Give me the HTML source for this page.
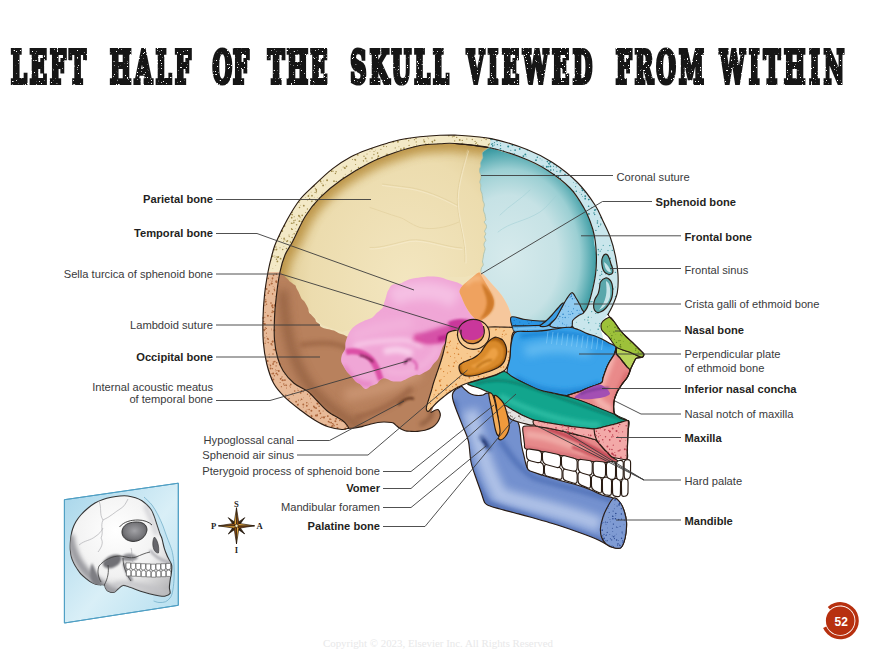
<!DOCTYPE html>
<html><head><meta charset="utf-8"><title>Left half of the skull viewed from within</title>
<style>
html,body{margin:0;padding:0;background:#fff;}
body{width:880px;height:660px;overflow:hidden;position:relative;font-family:"Liberation Sans",sans-serif;}
svg{position:absolute;left:0;top:0;display:block}
.lb{font-family:"Liberation Sans",sans-serif;font-size:11.15px;fill:#3a3a3c}
.b{font-weight:bold;fill:#1f1f22}
.ld{stroke:#3c3c3c;stroke-width:0.9;fill:none}
.ol{stroke:#2a1c14;stroke-width:1.15;fill:none;stroke-linejoin:round;stroke-linecap:round}
.tt{font-family:"DejaVu Serif Condensed","DejaVu Serif","Liberation Serif",serif;font-weight:bold;fill:#151515}
</style></head><body>
<svg width="880" height="660" viewBox="0 0 880 660">
<defs>
<radialGradient id="gPar" cx="0.62" cy="0.5" r="0.75"><stop offset="0" stop-color="#f3e6c0"/><stop offset="0.6" stop-color="#ecdcae"/><stop offset="1" stop-color="#d6bc7c"/></radialGradient>
<radialGradient id="gFro" gradientUnits="userSpaceOnUse" cx="0" cy="0" r="1" gradientTransform="translate(508 258) scale(92 114)"><stop offset="0" stop-color="#d6eaec"/><stop offset="0.55" stop-color="#c6e2e5"/><stop offset="0.78" stop-color="#9bcfd3"/><stop offset="0.92" stop-color="#52a8af"/><stop offset="1" stop-color="#2c8f97"/></radialGradient>
<linearGradient id="gOcc" x1="0" y1="0" x2="1" y2="1"><stop offset="0" stop-color="#b9825e"/><stop offset="1" stop-color="#a8714f"/></linearGradient>
<filter id="b2" filterUnits="userSpaceOnUse" x="0" y="0" width="880" height="660"><feGaussianBlur stdDeviation="2"/></filter>
<filter id="b4" filterUnits="userSpaceOnUse" x="0" y="0" width="880" height="660"><feGaussianBlur stdDeviation="4"/></filter>
<filter id="b1" filterUnits="userSpaceOnUse" x="0" y="0" width="880" height="660"><feGaussianBlur stdDeviation="1"/></filter>
<filter id="b7" filterUnits="userSpaceOnUse" x="0" y="0" width="880" height="660"><feGaussianBlur stdDeviation="7"/></filter>
<filter id="dis" filterUnits="userSpaceOnUse" x="0" y="30" width="880" height="70"><feTurbulence type="fractalNoise" baseFrequency="0.7" numOctaves="2" seed="4" result="n"/><feColorMatrix in="n" type="matrix" values="0 0 0 0 0  0 0 0 0 0  0 0 0 0 0  16 0 0 0 -4.0" result="m"/><feComposite in="SourceGraphic" in2="m" operator="in"/></filter>
</defs>
<g filter="url(#dis)">
<text class="tt" font-size="25" stroke="#151515" stroke-width="3.4" stroke-linejoin="miter" vector-effect="non-scaling-stroke" transform="translate(10.9,83.3) scale(1,1.76)" textLength="75.0" lengthAdjust="spacing">LEFT</text>
<text class="tt" font-size="25" stroke="#151515" stroke-width="3.4" stroke-linejoin="miter" vector-effect="non-scaling-stroke" transform="translate(110.1,83.3) scale(1,1.76)" textLength="80.8" lengthAdjust="spacing">HALF</text>
<text class="tt" font-size="25" stroke="#151515" stroke-width="3.4" stroke-linejoin="miter" vector-effect="non-scaling-stroke" transform="translate(212.4,83.3) scale(1,1.76)" textLength="36.5" lengthAdjust="spacing">OF</text>
<text class="tt" font-size="25" stroke="#151515" stroke-width="3.4" stroke-linejoin="miter" vector-effect="non-scaling-stroke" transform="translate(267.7,83.3) scale(1,1.76)" textLength="59.6" lengthAdjust="spacing">THE</text>
<text class="tt" font-size="25" stroke="#151515" stroke-width="3.4" stroke-linejoin="miter" vector-effect="non-scaling-stroke" transform="translate(350.3,83.3) scale(1,1.76)" textLength="98.6" lengthAdjust="spacing">SKULL</text>
<text class="tt" font-size="25" stroke="#151515" stroke-width="3.4" stroke-linejoin="miter" vector-effect="non-scaling-stroke" transform="translate(466.7,83.3) scale(1,1.76)" textLength="125.6" lengthAdjust="spacing">VIEWED</text>
<text class="tt" font-size="25" stroke="#151515" stroke-width="3.4" stroke-linejoin="miter" vector-effect="non-scaling-stroke" transform="translate(615.7,83.3) scale(1,1.76)" textLength="88.1" lengthAdjust="spacing">FROM</text>
<text class="tt" font-size="25" stroke="#151515" stroke-width="3.4" stroke-linejoin="miter" vector-effect="non-scaling-stroke" transform="translate(719.7,83.3) scale(1,1.76)" textLength="124.6" lengthAdjust="spacing">WITHIN</text>
</g>
<path d="M348.6,428.2 C347.5,428.4 345.2,429.7 341.8,429.5 C338.4,429.3 332.8,428.4 328.2,426.8 C323.6,425.2 319.0,422.7 314.5,420.0 C310.0,417.3 306.0,414.4 301.0,410.5 C296.0,406.6 289.1,401.4 284.5,396.8 C279.9,392.2 276.6,388.7 273.6,383.2 C270.7,377.7 268.5,370.9 266.8,364.0 C265.1,357.1 263.9,349.7 263.3,342.0 C262.7,334.3 262.8,325.8 263.0,318.0 C263.2,310.2 263.7,302.7 264.5,295.0 C265.3,287.3 266.7,279.0 268.0,272.0 C269.3,265.0 271.1,258.1 272.5,253.0 C273.9,247.9 273.9,247.0 276.4,241.4 C278.9,235.8 283.4,226.5 287.3,219.5 C291.2,212.5 295.5,205.2 300.0,199.5 C304.5,193.8 309.1,190.2 314.5,185.0 C319.9,179.8 326.6,173.3 332.7,168.6 C338.8,163.9 345.1,160.0 351.0,156.8 C356.9,153.6 361.9,151.8 368.0,149.5 C374.1,147.2 382.0,144.8 387.3,143.2 C392.6,141.6 394.6,140.9 400.0,139.8 C405.4,138.7 413.3,137.6 420.0,136.8 C426.7,136.1 434.2,135.6 440.0,135.3 C445.8,135.0 452.5,135.1 455.0,135.0 C461.0,135.6 479.0,136.2 491.0,138.6 C503.0,141.0 516.8,145.5 527.0,149.5 C537.2,153.5 544.1,157.0 552.5,162.5 C560.9,168.0 570.4,175.4 577.5,182.5 C584.6,189.6 590.8,198.6 595.0,205.0 C599.2,211.4 600.5,215.8 603.0,221.0 C605.5,226.2 607.9,230.5 610.0,236.4 C612.1,242.3 614.2,250.0 615.5,256.4 C616.8,262.8 617.7,268.4 618.0,274.5 C618.3,280.6 618.3,287.2 617.3,292.7 C616.3,298.2 613.3,303.7 611.8,307.3 C610.2,310.9 608.6,313.3 608.0,314.5 L585,312 L512,322 L445,336 L430,410 Z" fill="#f0e3bb"/>
<path d="M348.6,428.2 C348.4,427.8 348.4,426.9 347.3,425.5 C346.2,424.1 345.0,422.3 341.8,420.0 C338.6,417.7 332.3,415.0 328.2,411.8 C324.1,408.6 320.7,404.4 317.3,401.0 C313.9,397.6 311.6,394.4 307.7,391.4 C303.8,388.4 298.1,386.6 294.0,383.2 C289.9,379.8 285.9,375.2 283.2,371.0 C280.5,366.8 279.1,363.2 277.7,358.0 C276.2,352.8 275.0,346.7 274.5,340.0 C274.0,333.3 274.2,325.5 274.5,318.0 C274.8,310.5 275.6,302.7 276.5,295.0 C277.4,287.3 278.6,278.7 280.0,272.0 C281.4,265.3 282.9,260.1 285.0,255.0 C287.1,249.9 289.3,247.9 292.7,241.4 C296.1,234.9 300.9,223.3 305.5,216.0 C310.1,208.7 313.9,203.8 320.0,197.7 C326.1,191.6 333.6,185.2 341.8,179.5 C350.0,173.8 360.1,167.7 369.0,163.2 C377.9,158.7 386.5,155.4 395.0,152.5 C403.5,149.6 412.5,146.9 420.0,145.5 C427.5,144.1 434.2,144.1 440.0,143.8 C445.8,143.5 452.5,143.6 455.0,143.5 L489,147.5 L483,152 L482.4142831963177,154.83227708848347 L482.7635790512427,157.58145103785387 L481.5141142915121,160.44718780757896 L480.4323886189388,163.20643066508256 L480.73378889639025,166.15820751116078 L479.6694222212126,168.69383668181726 L479.5632069674853,171.76720804855827 L480.5481892685742,174.15261538163972 L480.96794815743783,177.4509692018078 L480.2770605603609,180.06240386047241 L479.76920365696657,182.30952896938138 L480.8225148505354,184.90501473964832 L480.5995177301791,187.57493494166494 L480.69700580346176,190.26623889477486 L481.8215274385534,193.04205350654286 L482.34870912086103,195.50432895084776 L482.69959167397224,198.0877227472208 L482.9031937868792,200.5802079658185 L484.15578116083356,203.66767348649435 L484.1523879890871,206.2122171956089 L483.48749899062796,208.6540195868683 L483.7202719051656,211.26792068976235 L484.8593181955387,214.14621589465597 L485.2838505193861,216.83871730712121 L485.7644762899757,219.7875472775835 L484.32098088670006,222.143247403954 L486.2384894705875,224.98379312904737 L486.2813127607804,227.94460916956282 L484.564802352234,231.06990565260637 L485.75131954561795,233.87567881689907 L484.4235262237006,236.9095962377502 L485.9186705232021,240.13934187917664 L484.3123850229552,242.8630494924023 L484.0818833561221,245.5623424375882 L485.13463872131916,248.42594618922712 L484.5067312548987,251.37160943385055 L483.6432319475226,254.32522287648573 L483.3357407506899,257.077606166804 L482.80971437775145,259.5405413666464 L482.48315821141637,262.0423559543496 L483.34767230119365,264.9138422116643 L481.6474612697678,267.54116049421776 L480.979278398582,269.85957497068557 L481,272.5 L465,277 L440,277 L415,279 L395,290 L387,302 L380,320 L360,327 L342,332 L322,325 L312,315 L302,302 L292,287 L280,275 Z" fill="url(#gPar)"/>
<clipPath id="cPar"><path d="M348.6,428.2 C348.4,427.8 348.4,426.9 347.3,425.5 C346.2,424.1 345.0,422.3 341.8,420.0 C338.6,417.7 332.3,415.0 328.2,411.8 C324.1,408.6 320.7,404.4 317.3,401.0 C313.9,397.6 311.6,394.4 307.7,391.4 C303.8,388.4 298.1,386.6 294.0,383.2 C289.9,379.8 285.9,375.2 283.2,371.0 C280.5,366.8 279.1,363.2 277.7,358.0 C276.2,352.8 275.0,346.7 274.5,340.0 C274.0,333.3 274.2,325.5 274.5,318.0 C274.8,310.5 275.6,302.7 276.5,295.0 C277.4,287.3 278.6,278.7 280.0,272.0 C281.4,265.3 282.9,260.1 285.0,255.0 C287.1,249.9 289.3,247.9 292.7,241.4 C296.1,234.9 300.9,223.3 305.5,216.0 C310.1,208.7 313.9,203.8 320.0,197.7 C326.1,191.6 333.6,185.2 341.8,179.5 C350.0,173.8 360.1,167.7 369.0,163.2 C377.9,158.7 386.5,155.4 395.0,152.5 C403.5,149.6 412.5,146.9 420.0,145.5 C427.5,144.1 434.2,144.1 440.0,143.8 C445.8,143.5 452.5,143.6 455.0,143.5 L489,147.5 L483,152 L482.4142831963177,154.83227708848347 L482.7635790512427,157.58145103785387 L481.5141142915121,160.44718780757896 L480.4323886189388,163.20643066508256 L480.73378889639025,166.15820751116078 L479.6694222212126,168.69383668181726 L479.5632069674853,171.76720804855827 L480.5481892685742,174.15261538163972 L480.96794815743783,177.4509692018078 L480.2770605603609,180.06240386047241 L479.76920365696657,182.30952896938138 L480.8225148505354,184.90501473964832 L480.5995177301791,187.57493494166494 L480.69700580346176,190.26623889477486 L481.8215274385534,193.04205350654286 L482.34870912086103,195.50432895084776 L482.69959167397224,198.0877227472208 L482.9031937868792,200.5802079658185 L484.15578116083356,203.66767348649435 L484.1523879890871,206.2122171956089 L483.48749899062796,208.6540195868683 L483.7202719051656,211.26792068976235 L484.8593181955387,214.14621589465597 L485.2838505193861,216.83871730712121 L485.7644762899757,219.7875472775835 L484.32098088670006,222.143247403954 L486.2384894705875,224.98379312904737 L486.2813127607804,227.94460916956282 L484.564802352234,231.06990565260637 L485.75131954561795,233.87567881689907 L484.4235262237006,236.9095962377502 L485.9186705232021,240.13934187917664 L484.3123850229552,242.8630494924023 L484.0818833561221,245.5623424375882 L485.13463872131916,248.42594618922712 L484.5067312548987,251.37160943385055 L483.6432319475226,254.32522287648573 L483.3357407506899,257.077606166804 L482.80971437775145,259.5405413666464 L482.48315821141637,262.0423559543496 L483.34767230119365,264.9138422116643 L481.6474612697678,267.54116049421776 L480.979278398582,269.85957497068557 L481,272.5 L465,277 L440,277 L415,279 L395,290 L387,302 L380,320 L360,327 L342,332 L322,325 L312,315 L302,302 L292,287 L280,275 Z"/></clipPath>
<g clip-path="url(#cPar)"><path d="M276.5,295.0 C277.1,291.2 278.6,278.7 280.0,272.0 C281.4,265.3 282.9,260.1 285.0,255.0 C287.1,249.9 289.3,247.9 292.7,241.4 C296.1,234.9 300.9,223.3 305.5,216.0 C310.1,208.7 313.9,203.8 320.0,197.7 C326.1,191.6 333.6,185.2 341.8,179.5 C350.0,173.8 360.1,167.7 369.0,163.2 C377.9,158.7 386.5,155.4 395.0,152.5 C403.5,149.6 412.5,146.9 420.0,145.5 C427.5,144.1 434.2,144.1 440.0,143.8 C445.8,143.5 446.8,142.9 455.0,143.5 C463.2,144.1 483.3,146.8 489.0,147.5" stroke="#c09a4e" stroke-width="18" fill="none" filter="url(#b4)" opacity="0.9"/><path d="M276.5,295.0 C277.1,291.2 278.6,278.7 280.0,272.0 C281.4,265.3 282.9,260.1 285.0,255.0 C287.1,249.9 289.3,247.9 292.7,241.4 C296.1,234.9 300.9,223.3 305.5,216.0 C310.1,208.7 313.9,203.8 320.0,197.7 C326.1,191.6 333.6,185.2 341.8,179.5 C350.0,173.8 360.1,167.7 369.0,163.2 C377.9,158.7 386.5,155.4 395.0,152.5 C403.5,149.6 412.5,146.9 420.0,145.5 C427.5,144.1 434.2,144.1 440.0,143.8 C445.8,143.5 446.8,142.9 455.0,143.5 C463.2,144.1 483.3,146.8 489.0,147.5" stroke="#b88f45" stroke-width="4" fill="none" filter="url(#b2)" opacity="0.55"/></g>
<path d="M490.0,147.0 C488.8,147.8 484.3,150.7 483.0,152.0 C481.7,153.3 482.5,153.9 482.4,154.8 C482.4,155.8 482.9,156.6 482.8,157.6 C482.6,158.5 481.9,159.5 481.5,160.4 C481.1,161.4 480.6,162.3 480.4,163.2 C480.3,164.2 480.9,165.2 480.7,166.2 C480.6,167.1 479.9,167.8 479.7,168.7 C479.5,169.6 479.4,170.9 479.6,171.8 C479.7,172.7 480.3,173.2 480.5,174.2 C480.8,175.1 481.0,176.5 481.0,177.5 C480.9,178.4 480.5,179.3 480.3,180.1 C480.1,180.9 479.7,181.5 479.8,182.3 C479.9,183.1 480.7,184.0 480.8,184.9 C481.0,185.8 480.6,186.7 480.6,187.6 C480.6,188.5 480.5,189.4 480.7,190.3 C480.9,191.2 481.5,192.2 481.8,193.0 C482.1,193.9 482.2,194.7 482.3,195.5 C482.5,196.3 482.6,197.2 482.7,198.1 C482.8,198.9 482.7,199.7 482.9,200.6 C483.1,201.5 483.9,202.7 484.2,203.7 C484.4,204.6 484.3,205.4 484.2,206.2 C484.0,207.0 483.6,207.8 483.5,208.7 C483.4,209.5 483.5,210.4 483.7,211.3 C483.9,212.2 484.6,213.2 484.9,214.1 C485.1,215.1 485.1,215.9 485.3,216.8 C485.4,217.8 485.9,218.9 485.8,219.8 C485.6,220.7 484.2,221.3 484.3,222.1 C484.4,223.0 485.9,224.0 486.2,225.0 C486.6,226.0 486.6,226.9 486.3,227.9 C486.0,229.0 484.7,230.1 484.6,231.1 C484.5,232.1 485.8,232.9 485.8,233.9 C485.7,234.8 484.4,235.9 484.4,236.9 C484.5,238.0 485.9,239.1 485.9,240.1 C485.9,241.1 484.6,242.0 484.3,242.9 C484.0,243.8 483.9,244.6 484.1,245.6 C484.2,246.5 485.1,247.5 485.1,248.4 C485.2,249.4 484.8,250.4 484.5,251.4 C484.3,252.4 483.8,253.4 483.6,254.3 C483.4,255.3 483.5,256.2 483.3,257.1 C483.2,257.9 483.0,258.7 482.8,259.5 C482.7,260.4 482.4,261.1 482.5,262.0 C482.6,262.9 483.5,264.0 483.3,264.9 C483.2,265.8 482.0,266.7 481.6,267.5 C481.3,268.4 481.1,269.0 481.0,269.9 C480.9,270.7 481.0,272.1 481.0,272.5 L491,283 L502,295.5 L508.6,307.7 L512.7,322 L547,324 L571,300 L583.6,312.7 L583.6,312.7 L587.3,307.3 L591.8,292.7 L595.5,274.5 L596.4,256.4 L594.5,236.4 L590,221 L584,208 L570,188 L547,170 L523,158 L489,147.5 Z" fill="url(#gFro)"/>
<g fill="none" stroke-linecap="round" opacity="0.55"><path d="M467.5,150 C462,170 456,188 457.5,205 C459,225 466,240 465,262" stroke="#dcc995" stroke-width="1"/><path d="M457,205 C440,196 425,190 410,187.5 C398,186 390,185 382.5,184" stroke="#dcc995" stroke-width="0.9"/><path d="M459,222 C445,228 432,230 420,227.5 C410,224 405,219 400,217.5 C388,214 378,210 370,207.5" stroke="#dcc995" stroke-width="0.9"/><path d="M462,248 C445,247 425,238 410,240 C395,243 382,248 370,247.5" stroke="#dcc995" stroke-width="0.9"/><path d="M468.5,151 C463,171 457,189 458.5,206 C460,226 467,241 466,263" stroke="#fbf3dc" stroke-width="0.9"/><path d="M457,206.5 C440,197.5 425,191.5 410,189 C398,187.5 390,186.5 382.5,185.5" stroke="#fbf3dc" stroke-width="0.8"/><path d="M462,249.5 C445,248.5 425,239.5 410,241.5 C395,244.5 382,249.5 370,249" stroke="#fbf3dc" stroke-width="0.8"/><path d="M500,215 C510,205 520,200 530,190 M498,232 C510,222 524,222 540,212 C548,206 552,200 556,196" stroke="#9ccdd2" stroke-width="0.9"/></g>
<path d="M280.0,272.0 C280.5,272.5 281.9,273.8 282.9,274.7 C283.8,275.6 284.9,276.5 285.8,277.4 C286.7,278.2 287.8,279.0 288.4,279.7 C289.0,280.3 288.7,280.6 289.5,281.3 C290.3,282.0 292.3,283.2 293.2,283.9 C294.2,284.6 294.9,284.7 295.4,285.4 C296.0,286.1 296.0,287.2 296.5,288.3 C297.0,289.3 297.9,290.6 298.3,291.5 C298.8,292.3 298.7,292.3 299.2,293.5 C299.8,294.7 300.8,297.3 301.6,298.7 C302.5,300.0 303.6,300.4 304.4,301.5 C305.2,302.5 305.8,303.8 306.5,304.9 C307.1,306.1 307.7,307.1 308.2,308.4 C308.6,309.7 308.6,311.7 309.2,312.8 C309.8,313.9 310.6,313.9 311.5,314.9 C312.5,315.9 314.3,317.7 315.0,318.8 C315.8,319.9 315.5,320.9 316.2,321.7 C316.8,322.6 318.2,323.0 319.0,323.8 C319.7,324.6 319.8,325.9 320.8,326.7 C321.8,327.5 323.7,328.1 325.0,328.5 C326.3,328.9 327.6,328.9 328.6,329.2 C329.7,329.4 330.2,329.6 331.1,329.9 C332.0,330.1 333.0,330.2 334.0,330.6 C335.1,331.1 336.5,332.0 337.5,332.6 C338.5,333.1 339.2,333.4 340.2,333.8 C341.2,334.1 342.6,334.3 343.7,334.7 C344.9,335.2 346.5,336.3 347.0,336.6 L400,340 L452,335 L449,350 L443,370 L438,390 L433,408 L431,412.3  C432.1,411.8 436.2,409.3 437.7,409.5 C439.2,409.7 439.8,412.1 440.2,413.5 C440.6,414.9 440.3,416.1 439.8,417.7 C439.3,419.3 438.2,421.4 437.0,423.0 C435.8,424.6 434.3,426.1 432.3,427.3 C430.3,428.5 427.5,429.6 425.0,430.3 C422.5,431.0 419.8,431.2 417.3,431.4 C414.8,431.6 412.1,431.4 410.0,431.3 C407.9,431.2 406.7,431.2 405.0,430.7 C403.3,430.2 401.4,429.3 400.0,428.5 C398.6,427.7 397.8,426.8 396.8,426.0 C395.8,425.2 394.9,424.1 394.0,423.5 C393.1,422.9 393.1,422.8 391.4,422.5 C389.7,422.2 386.3,422.0 384.0,422.0 C381.7,422.0 380.0,422.1 377.7,422.5 C375.4,422.9 372.6,423.6 370.0,424.3 C367.4,425.0 364.5,426.0 362.0,426.6 C359.5,427.2 357.2,427.7 355.0,428.0 C352.8,428.3 349.7,428.2 348.6,428.2 L347.3,425.5 L341.8,420 L328.2,411.8 L317.3,401 L307.7,391.4 L294,383.2 L283.2,371 L277.7,358 L274.5,340 L274.5,318 L276.5,295 L280,272 Z" fill="#b8815d"/>
<g clip-path="url(#cOcc)">
<clipPath id="cOcc"><path d="M280.0,272.0 C280.5,272.5 281.9,273.8 282.9,274.7 C283.8,275.6 284.9,276.5 285.8,277.4 C286.7,278.2 287.8,279.0 288.4,279.7 C289.0,280.3 288.7,280.6 289.5,281.3 C290.3,282.0 292.3,283.2 293.2,283.9 C294.2,284.6 294.9,284.7 295.4,285.4 C296.0,286.1 296.0,287.2 296.5,288.3 C297.0,289.3 297.9,290.6 298.3,291.5 C298.8,292.3 298.7,292.3 299.2,293.5 C299.8,294.7 300.8,297.3 301.6,298.7 C302.5,300.0 303.6,300.4 304.4,301.5 C305.2,302.5 305.8,303.8 306.5,304.9 C307.1,306.1 307.7,307.1 308.2,308.4 C308.6,309.7 308.6,311.7 309.2,312.8 C309.8,313.9 310.6,313.9 311.5,314.9 C312.5,315.9 314.3,317.7 315.0,318.8 C315.8,319.9 315.5,320.9 316.2,321.7 C316.8,322.6 318.2,323.0 319.0,323.8 C319.7,324.6 319.8,325.9 320.8,326.7 C321.8,327.5 323.7,328.1 325.0,328.5 C326.3,328.9 327.6,328.9 328.6,329.2 C329.7,329.4 330.2,329.6 331.1,329.9 C332.0,330.1 333.0,330.2 334.0,330.6 C335.1,331.1 336.5,332.0 337.5,332.6 C338.5,333.1 339.2,333.4 340.2,333.8 C341.2,334.1 342.6,334.3 343.7,334.7 C344.9,335.2 346.5,336.3 347.0,336.6 L400,340 L452,335 L449,350 L443,370 L438,390 L433,408 L431,412.3  C432.1,411.8 436.2,409.3 437.7,409.5 C439.2,409.7 439.8,412.1 440.2,413.5 C440.6,414.9 440.3,416.1 439.8,417.7 C439.3,419.3 438.2,421.4 437.0,423.0 C435.8,424.6 434.3,426.1 432.3,427.3 C430.3,428.5 427.5,429.6 425.0,430.3 C422.5,431.0 419.8,431.2 417.3,431.4 C414.8,431.6 412.1,431.4 410.0,431.3 C407.9,431.2 406.7,431.2 405.0,430.7 C403.3,430.2 401.4,429.3 400.0,428.5 C398.6,427.7 397.8,426.8 396.8,426.0 C395.8,425.2 394.9,424.1 394.0,423.5 C393.1,422.9 393.1,422.8 391.4,422.5 C389.7,422.2 386.3,422.0 384.0,422.0 C381.7,422.0 380.0,422.1 377.7,422.5 C375.4,422.9 372.6,423.6 370.0,424.3 C367.4,425.0 364.5,426.0 362.0,426.6 C359.5,427.2 357.2,427.7 355.0,428.0 C352.8,428.3 349.7,428.2 348.6,428.2 L347.3,425.5 L341.8,420 L328.2,411.8 L317.3,401 L307.7,391.4 L294,383.2 L283.2,371 L277.7,358 L274.5,340 L274.5,318 L276.5,295 L280,272 Z"/></clipPath>
<path d="M283,290 C285,330 292,370 320,398 C335,412 350,422 362,427" stroke="#8e5b3d" stroke-width="9" fill="none" filter="url(#b4)" opacity="0.8"/>
<path d="M300,345 C330,340 345,345 352,352" stroke="#96603f" stroke-width="5" fill="none" filter="url(#b2)" opacity="0.7"/>
<path d="M345,395 C370,392 395,385 420,372" stroke="#cf9a78" stroke-width="12" fill="none" filter="url(#b4)" opacity="0.8"/>
<path d="M355,418 C380,412 400,400 412,388" stroke="#9a6444" stroke-width="6" fill="none" filter="url(#b2)" opacity="0.8"/>
<path d="M398,405 C405,398 410,397 414,399" stroke="#6e4128" stroke-width="2.5" fill="none" filter="url(#b1)"/>
<path d="M420,425 C430,420 434,415 430,408" stroke="#8e5b3d" stroke-width="4" fill="none" filter="url(#b2)"/>
</g>
<path d="M431.0,412.3 C432.1,411.8 436.2,409.3 437.7,409.5 C439.2,409.7 439.8,412.1 440.2,413.5 C440.6,414.9 440.3,416.1 439.8,417.7 C439.3,419.3 438.2,421.4 437.0,423.0 C435.8,424.6 434.3,426.1 432.3,427.3 C430.3,428.5 427.5,429.6 425.0,430.3 C422.5,431.0 419.8,431.2 417.3,431.4 C414.8,431.6 412.1,431.4 410.0,431.3 C407.9,431.2 406.7,431.2 405.0,430.7 C403.3,430.2 401.4,429.3 400.0,428.5 C398.6,427.7 397.8,426.8 396.8,426.0 C395.8,425.2 394.9,424.1 394.0,423.5 C393.1,422.9 393.1,422.8 391.4,422.5 C389.7,422.2 386.3,422.0 384.0,422.0 C381.7,422.0 380.0,422.1 377.7,422.5 C375.4,422.9 372.6,423.6 370.0,424.3 C367.4,425.0 364.5,426.0 362.0,426.6 C359.5,427.2 357.2,427.7 355.0,428.0 C352.8,428.3 349.7,428.2 348.6,428.2" class="ol" stroke-width="1.4" stroke="#2a160c"/>
<path d="M388.7,289.7 C389.6,288.4 390.4,285.8 392.3,284.8 C394.2,283.8 397.3,284.5 399.9,283.7 C402.6,282.8 405.2,280.7 408.3,279.7 C411.4,278.7 414.8,278.3 418.5,277.8 C422.1,277.2 426.4,276.5 430.1,276.5 C433.9,276.4 437.9,276.8 440.9,277.4 C443.9,278.0 445.9,279.3 448.4,280.1 C450.8,280.9 453.5,281.2 455.7,282.1 C458.0,282.9 460.2,283.8 461.9,285.1 C463.7,286.5 465.1,288.0 466.3,290.2 C467.4,292.5 468.3,295.7 468.9,298.7 C469.6,301.8 469.6,306.1 470.3,308.5 C471.0,310.9 472.2,311.8 473.0,313.1 C473.9,314.4 474.3,315.3 475.6,316.5 C476.9,317.8 481.6,318.7 480.7,320.4 C479.8,322.1 473.8,325.5 470.0,326.8 C466.3,328.1 461.2,327.4 458.3,328.2 C455.4,329.0 454.2,330.6 452.6,331.5 C451.1,332.3 449.9,331.7 449.0,333.2 C448.1,334.6 448.2,338.2 447.1,340.5 C446.1,342.7 443.8,344.6 442.8,346.6 C441.7,348.6 441.6,350.3 440.7,352.5 C439.9,354.6 438.9,357.4 437.7,359.3 C436.5,361.3 434.8,362.4 433.4,364.0 C432.1,365.7 431.1,367.8 429.7,369.2 C428.3,370.5 426.6,371.1 425.0,372.0 C423.4,373.0 421.5,374.3 420.0,374.8 C418.4,375.3 417.1,374.6 415.6,374.9 C414.1,375.2 412.5,376.0 410.9,376.7 C409.4,377.3 408.0,378.2 406.4,379.0 C404.7,379.8 402.5,381.0 400.9,381.4 C399.2,381.8 397.7,381.5 396.3,381.5 C394.9,381.5 393.9,381.7 392.5,381.3 C391.0,381.0 389.2,379.7 387.7,379.2 C386.1,378.7 384.5,378.0 383.0,378.3 C381.6,378.6 380.0,380.1 379.0,381.0 C378.0,381.9 378.3,382.9 376.9,383.7 C375.6,384.6 372.6,385.1 370.7,386.0 C368.8,386.9 367.1,389.4 365.3,389.1 C363.6,388.8 361.7,385.5 360.2,384.3 C358.7,383.1 357.7,383.4 356.3,382.1 C354.9,380.8 353.2,378.3 351.7,376.5 C350.1,374.8 348.1,373.2 346.8,371.6 C345.5,369.9 344.7,368.3 343.7,366.6 C342.8,365.0 341.5,363.5 341.2,361.6 C340.9,359.7 341.2,357.1 341.9,355.0 C342.5,353.0 344.5,351.2 345.1,349.1 C345.7,347.0 345.0,345.0 345.5,342.6 C346.1,340.2 347.0,337.2 348.2,334.7 C349.4,332.3 350.9,329.7 352.8,327.8 C354.6,325.9 357.0,324.5 359.1,323.3 C361.2,322.0 363.2,321.2 365.3,320.2 C367.5,319.3 370.2,318.9 372.1,317.7 C374.1,316.4 375.5,314.3 377.2,312.6 C379.0,310.9 381.7,308.9 382.8,307.4 C383.9,305.8 383.5,304.9 384.0,303.3 C384.5,301.7 385.3,299.5 385.8,297.7 C386.4,295.9 386.8,293.8 387.3,292.4 C387.8,291.1 387.9,291.0 388.7,289.7Z" fill="#f0a6d6"/>
<clipPath id="cTem"><path d="M388.7,289.7 C389.6,288.4 390.4,285.8 392.3,284.8 C394.2,283.8 397.3,284.5 399.9,283.7 C402.6,282.8 405.2,280.7 408.3,279.7 C411.4,278.7 414.8,278.3 418.5,277.8 C422.1,277.2 426.4,276.5 430.1,276.5 C433.9,276.4 437.9,276.8 440.9,277.4 C443.9,278.0 445.9,279.3 448.4,280.1 C450.8,280.9 453.5,281.2 455.7,282.1 C458.0,282.9 460.2,283.8 461.9,285.1 C463.7,286.5 465.1,288.0 466.3,290.2 C467.4,292.5 468.3,295.7 468.9,298.7 C469.6,301.8 469.6,306.1 470.3,308.5 C471.0,310.9 472.2,311.8 473.0,313.1 C473.9,314.4 474.3,315.3 475.6,316.5 C476.9,317.8 481.6,318.7 480.7,320.4 C479.8,322.1 473.8,325.5 470.0,326.8 C466.3,328.1 461.2,327.4 458.3,328.2 C455.4,329.0 454.2,330.6 452.6,331.5 C451.1,332.3 449.9,331.7 449.0,333.2 C448.1,334.6 448.2,338.2 447.1,340.5 C446.1,342.7 443.8,344.6 442.8,346.6 C441.7,348.6 441.6,350.3 440.7,352.5 C439.9,354.6 438.9,357.4 437.7,359.3 C436.5,361.3 434.8,362.4 433.4,364.0 C432.1,365.7 431.1,367.8 429.7,369.2 C428.3,370.5 426.6,371.1 425.0,372.0 C423.4,373.0 421.5,374.3 420.0,374.8 C418.4,375.3 417.1,374.6 415.6,374.9 C414.1,375.2 412.5,376.0 410.9,376.7 C409.4,377.3 408.0,378.2 406.4,379.0 C404.7,379.8 402.5,381.0 400.9,381.4 C399.2,381.8 397.7,381.5 396.3,381.5 C394.9,381.5 393.9,381.7 392.5,381.3 C391.0,381.0 389.2,379.7 387.7,379.2 C386.1,378.7 384.5,378.0 383.0,378.3 C381.6,378.6 380.0,380.1 379.0,381.0 C378.0,381.9 378.3,382.9 376.9,383.7 C375.6,384.6 372.6,385.1 370.7,386.0 C368.8,386.9 367.1,389.4 365.3,389.1 C363.6,388.8 361.7,385.5 360.2,384.3 C358.7,383.1 357.7,383.4 356.3,382.1 C354.9,380.8 353.2,378.3 351.7,376.5 C350.1,374.8 348.1,373.2 346.8,371.6 C345.5,369.9 344.7,368.3 343.7,366.6 C342.8,365.0 341.5,363.5 341.2,361.6 C340.9,359.7 341.2,357.1 341.9,355.0 C342.5,353.0 344.5,351.2 345.1,349.1 C345.7,347.0 345.0,345.0 345.5,342.6 C346.1,340.2 347.0,337.2 348.2,334.7 C349.4,332.3 350.9,329.7 352.8,327.8 C354.6,325.9 357.0,324.5 359.1,323.3 C361.2,322.0 363.2,321.2 365.3,320.2 C367.5,319.3 370.2,318.9 372.1,317.7 C374.1,316.4 375.5,314.3 377.2,312.6 C379.0,310.9 381.7,308.9 382.8,307.4 C383.9,305.8 383.5,304.9 384.0,303.3 C384.5,301.7 385.3,299.5 385.8,297.7 C386.4,295.9 386.8,293.8 387.3,292.4 C387.8,291.1 387.9,291.0 388.7,289.7Z"/></clipPath>
<g clip-path="url(#cTem)">
<path d="M392,298 C410,288 438,288 456,300" stroke="#f5bfe3" stroke-width="18" fill="none" filter="url(#b4)"/>
<path d="M352,338 C370,328 392,326 412,322" stroke="#f3b2dc" stroke-width="10" fill="none" filter="url(#b4)"/>
<path d="M354,346 C372,340 390,341 401,340 C410,340 416,343 422,346" stroke="#f7c6e6" stroke-width="5" fill="none" filter="url(#b2)"/>
<path d="M414,337 C424,341 436,341 448,337 C456,334 462,331 468,329" stroke="#d9489f" stroke-width="7" fill="none" filter="url(#b2)"/>
<path d="M416,335 C428,331 446,325 458,322 L471,322 L468,333 C456,338 442,343 426,343 Z" fill="#d651a7" filter="url(#b2)"/>
<path d="M438,339 C450,337 460,332 470,326" stroke="#bf2b8f" stroke-width="5" fill="none" filter="url(#b1)"/>
<path d="M448,322 C456,318 466,318 474,322 L470,334 L452,334Z" fill="#c9379b" filter="url(#b1)"/>
<path d="M346,352 C354,350 364,352 371,359 C377,366 379,374 381,380" stroke="#dc4fa6" stroke-width="6" fill="none" filter="url(#b1)"/>
<path d="M359.6,355.2 C365,356 370,358.5 373,362" stroke="#6d1f4a" stroke-width="2" fill="none" filter="url(#b1)" opacity="0.9"/>
<path d="M344,366 C350,378 360,386 372,384" stroke="#e684c4" stroke-width="5" fill="none" filter="url(#b2)"/>
<path d="M384,352 C394,348 404,350 412,354" stroke="#f8cfea" stroke-width="7" fill="none" filter="url(#b2)"/>
<path d="M386,370 C398,376 412,372 424,364 C430,360 434,354 438,348" stroke="#f2b0da" stroke-width="6" fill="none" filter="url(#b2)"/>
<path d="M404.5,364 C405.5,360.5 408.5,358.8 412,359.5" stroke="#7b235c" stroke-width="2.2" fill="none" filter="url(#b1)"/>
<path d="M412,360 C416,362 418,366 416,370" stroke="#e06cb8" stroke-width="3" fill="none" filter="url(#b1)"/>
</g>
<path d="M480.0,272.3 C482.0,272.5 484.2,275.2 486.0,277.0 C487.8,278.8 489.2,281.0 491.0,283.0 C492.8,285.0 494.7,286.9 496.5,289.0 C498.3,291.1 500.3,293.4 501.8,295.5 C503.3,297.6 504.4,299.5 505.5,301.5 C506.6,303.5 507.7,305.4 508.6,307.7 C509.5,309.9 510.3,312.5 511.0,315.0 C511.7,317.5 512.0,320.6 512.7,322.7 C513.5,324.8 517.6,326.7 515.5,327.5 C513.4,328.3 504.2,327.6 500.0,327.5 C495.8,327.4 493.3,327.9 490.0,327.0 C486.7,326.1 482.2,323.2 480.0,322.0 C477.8,320.8 478.6,321.2 477.0,320.0 C475.4,318.8 472.5,317.0 470.5,314.5 C468.5,312.0 466.4,307.8 465.0,305.0 C463.6,302.2 462.9,300.3 462.0,298.0 C461.1,295.7 459.4,293.4 459.5,291.4 C459.6,289.4 460.9,287.7 462.3,286.0 C463.7,284.3 466.1,282.7 468.0,281.0 C469.9,279.3 472.0,277.4 474.0,276.0 C476.0,274.6 478.0,272.1 480.0,272.3Z" fill="#f6c79c"/>
<clipPath id="cSW"><path d="M480.0,272.3 C482.0,272.5 484.2,275.2 486.0,277.0 C487.8,278.8 489.2,281.0 491.0,283.0 C492.8,285.0 494.7,286.9 496.5,289.0 C498.3,291.1 500.3,293.4 501.8,295.5 C503.3,297.6 504.4,299.5 505.5,301.5 C506.6,303.5 507.7,305.4 508.6,307.7 C509.5,309.9 510.3,312.5 511.0,315.0 C511.7,317.5 512.0,320.6 512.7,322.7 C513.5,324.8 517.6,326.7 515.5,327.5 C513.4,328.3 504.2,327.6 500.0,327.5 C495.8,327.4 493.3,327.9 490.0,327.0 C486.7,326.1 482.2,323.2 480.0,322.0 C477.8,320.8 478.6,321.2 477.0,320.0 C475.4,318.8 472.5,317.0 470.5,314.5 C468.5,312.0 466.4,307.8 465.0,305.0 C463.6,302.2 462.9,300.3 462.0,298.0 C461.1,295.7 459.4,293.4 459.5,291.4 C459.6,289.4 460.9,287.7 462.3,286.0 C463.7,284.3 466.1,282.7 468.0,281.0 C469.9,279.3 472.0,277.4 474.0,276.0 C476.0,274.6 478.0,272.1 480.0,272.3Z"/></clipPath>
<g clip-path="url(#cSW)">
<path d="M478,270 C470,276 462,284 458,292 C462,302 468,312 478,322 C488,318 494,310 494,301 C492,292 486,284 478,270Z" fill="#efa25f"/>
<path d="M482,283 C490,290 495,298 494,305 C493,312 487,317 479,320 C486,312 488,304 486,297 C484,291 482,287 482,283Z" fill="#cf7a2a" filter="url(#b1)"/>
<path d="M466,284 C470,279 476,277 481,279" stroke="#f7c08a" stroke-width="4" fill="none" filter="url(#b2)"/>
</g>
<path d="M447.3,333.6 C448.4,331.6 450.4,331.6 452.0,331.0 C453.6,330.4 455.5,330.2 457.0,330.0 C458.5,329.8 458.0,330.2 461.0,330.0 C464.0,329.8 470.2,329.0 475.0,328.5 C479.8,328.0 485.8,327.2 490.0,327.0 C494.2,326.8 495.8,326.8 500.0,327.0 C504.2,327.2 513.4,326.8 515.5,328.0 C517.6,329.2 513.2,331.9 512.5,334.0 C511.8,336.1 511.7,337.8 511.4,340.5 C511.1,343.2 510.7,347.1 510.5,350.0 C510.3,352.9 510.5,355.3 510.0,358.0 C509.5,360.7 508.4,363.9 507.5,366.0 C506.6,368.1 506.4,369.1 504.5,370.5 C502.6,371.9 499.3,373.3 496.4,374.5 C493.5,375.7 490.2,376.6 487.0,377.5 C483.8,378.4 481.0,378.9 477.3,380.0 C473.6,381.1 468.3,382.8 465.0,384.0 C461.7,385.2 459.8,386.3 457.5,387.5 C455.2,388.7 453.6,389.5 451.4,391.0 C449.1,392.5 446.3,394.7 444.0,396.5 C441.7,398.3 439.8,399.9 437.7,401.8 C435.6,403.7 433.1,406.4 431.5,408.0 C429.9,409.6 428.9,411.5 428.0,411.5 C427.1,411.5 426.2,409.9 426.3,408.0 C426.4,406.1 427.7,402.7 428.5,400.0 C429.3,397.3 430.2,394.8 431.0,392.0 C431.8,389.2 432.6,385.9 433.5,383.0 C434.4,380.1 435.3,377.7 436.4,374.5 C437.5,371.3 438.9,367.4 440.0,364.0 C441.1,360.6 442.1,357.5 443.0,354.0 C443.9,350.5 444.8,346.4 445.5,343.0 C446.2,339.6 446.2,335.6 447.3,333.6Z" fill="#f8c98f"/>
<g fill="#cf7524" opacity="0.9"><circle cx="447.5" cy="373.0" r="0.54"/><circle cx="501.0" cy="348.9" r="0.45"/><circle cx="500.9" cy="367.3" r="0.72"/><circle cx="439.7" cy="380.6" r="0.86"/><circle cx="486.2" cy="332.4" r="0.79"/><circle cx="479.0" cy="352.5" r="0.32"/><circle cx="503.5" cy="366.9" r="0.77"/><circle cx="508.5" cy="360.4" r="0.82"/><circle cx="504.7" cy="335.2" r="0.39"/><circle cx="465.2" cy="380.0" r="0.50"/><circle cx="471.5" cy="359.6" r="0.53"/><circle cx="478.5" cy="376.4" r="0.89"/><circle cx="486.2" cy="340.8" r="0.86"/><circle cx="477.5" cy="351.1" r="0.34"/><circle cx="434.2" cy="394.7" r="0.57"/><circle cx="462.7" cy="378.6" r="0.40"/><circle cx="430.1" cy="400.3" r="0.50"/><circle cx="460.0" cy="365.9" r="0.64"/><circle cx="483.7" cy="377.3" r="0.66"/><circle cx="471.5" cy="363.4" r="0.77"/><circle cx="447.5" cy="352.4" r="0.94"/><circle cx="472.8" cy="373.3" r="0.31"/><circle cx="463.3" cy="376.0" r="0.31"/><circle cx="457.7" cy="386.7" r="0.78"/><circle cx="448.7" cy="365.6" r="0.69"/><circle cx="454.8" cy="357.8" r="0.50"/><circle cx="459.2" cy="377.3" r="0.50"/><circle cx="491.9" cy="353.2" r="0.44"/><circle cx="498.0" cy="347.2" r="0.42"/><circle cx="466.5" cy="346.0" r="0.38"/><circle cx="473.5" cy="343.1" r="0.82"/><circle cx="501.1" cy="342.5" r="0.48"/><circle cx="498.2" cy="356.2" r="0.38"/><circle cx="450.5" cy="356.3" r="0.57"/><circle cx="463.7" cy="361.6" r="0.90"/><circle cx="446.1" cy="390.0" r="0.84"/><circle cx="485.4" cy="370.9" r="0.49"/><circle cx="456.7" cy="346.2" r="0.34"/><circle cx="478.8" cy="351.3" r="0.83"/><circle cx="430.3" cy="403.4" r="0.75"/><circle cx="485.4" cy="371.4" r="0.57"/><circle cx="456.7" cy="348.3" r="0.86"/><circle cx="457.7" cy="343.7" r="0.65"/><circle cx="499.2" cy="341.5" r="0.81"/><circle cx="499.8" cy="327.6" r="0.71"/><circle cx="503.2" cy="331.2" r="0.48"/><circle cx="450.3" cy="371.6" r="0.57"/><circle cx="502.5" cy="334.3" r="0.63"/><circle cx="454.5" cy="353.6" r="0.53"/><circle cx="484.0" cy="376.6" r="0.53"/><circle cx="443.3" cy="354.8" r="0.38"/><circle cx="460.2" cy="333.8" r="0.42"/><circle cx="459.6" cy="378.1" r="0.81"/><circle cx="481.9" cy="363.5" r="0.54"/><circle cx="467.4" cy="347.7" r="0.65"/><circle cx="488.3" cy="333.0" r="0.58"/><circle cx="449.7" cy="366.2" r="0.38"/><circle cx="476.6" cy="335.7" r="0.68"/><circle cx="495.4" cy="330.7" r="0.36"/><circle cx="435.2" cy="401.4" r="0.42"/><circle cx="437.1" cy="398.3" r="0.74"/><circle cx="435.8" cy="390.3" r="0.91"/><circle cx="447.9" cy="342.2" r="0.46"/><circle cx="461.4" cy="358.1" r="0.56"/><circle cx="457.5" cy="362.3" r="0.35"/><circle cx="440.6" cy="385.4" r="0.79"/><circle cx="486.4" cy="370.7" r="0.61"/><circle cx="472.4" cy="364.4" r="0.77"/><circle cx="444.1" cy="376.5" r="0.50"/><circle cx="447.0" cy="385.4" r="0.92"/><circle cx="452.7" cy="386.6" r="0.57"/><circle cx="450.1" cy="345.4" r="0.32"/><circle cx="469.1" cy="359.3" r="0.41"/><circle cx="458.5" cy="354.2" r="0.80"/><circle cx="469.1" cy="377.6" r="0.60"/><circle cx="476.0" cy="367.7" r="0.77"/><circle cx="502.7" cy="360.8" r="0.78"/><circle cx="446.8" cy="346.8" r="0.77"/><circle cx="502.5" cy="347.5" r="0.42"/><circle cx="449.4" cy="342.8" r="0.76"/><circle cx="454.3" cy="362.8" r="0.77"/><circle cx="500.7" cy="351.7" r="0.53"/><circle cx="465.2" cy="368.1" r="0.44"/><circle cx="461.2" cy="373.0" r="0.38"/><circle cx="450.8" cy="383.2" r="0.37"/><circle cx="493.9" cy="352.0" r="0.74"/><circle cx="450.0" cy="390.7" r="0.92"/><circle cx="486.3" cy="372.3" r="0.37"/><circle cx="470.4" cy="356.8" r="0.77"/><circle cx="486.8" cy="374.9" r="0.42"/><circle cx="484.8" cy="337.4" r="0.91"/><circle cx="467.1" cy="353.4" r="0.41"/><circle cx="432.4" cy="387.5" r="0.79"/><circle cx="458.3" cy="349.5" r="0.55"/><circle cx="504.1" cy="330.6" r="0.63"/><circle cx="448.3" cy="392.0" r="0.53"/><circle cx="456.0" cy="361.1" r="0.65"/><circle cx="495.1" cy="356.8" r="0.85"/><circle cx="479.1" cy="339.4" r="0.56"/><circle cx="443.6" cy="371.6" r="0.67"/><circle cx="496.0" cy="329.5" r="0.82"/><circle cx="460.5" cy="373.7" r="0.68"/><circle cx="487.5" cy="352.3" r="0.86"/><circle cx="469.5" cy="377.8" r="0.77"/><circle cx="485.3" cy="368.6" r="0.64"/><circle cx="467.4" cy="343.3" r="0.64"/><circle cx="483.9" cy="364.5" r="0.67"/><circle cx="438.4" cy="394.0" r="0.71"/><circle cx="488.3" cy="338.4" r="0.86"/><circle cx="469.6" cy="336.2" r="0.33"/><circle cx="440.6" cy="369.0" r="0.75"/><circle cx="474.2" cy="362.7" r="0.72"/><circle cx="453.5" cy="366.2" r="0.79"/><circle cx="462.1" cy="342.3" r="0.88"/><circle cx="490.5" cy="358.0" r="0.54"/><circle cx="473.5" cy="377.4" r="0.45"/><circle cx="496.2" cy="339.1" r="0.60"/><circle cx="441.5" cy="361.1" r="0.41"/><circle cx="441.3" cy="368.4" r="0.34"/><circle cx="441.0" cy="379.6" r="0.53"/><circle cx="491.2" cy="350.2" r="0.81"/><circle cx="453.1" cy="348.1" r="0.47"/><circle cx="457.1" cy="334.9" r="0.74"/><circle cx="502.1" cy="336.7" r="0.55"/><circle cx="456.1" cy="384.5" r="0.90"/><circle cx="441.9" cy="389.5" r="0.78"/><circle cx="508.7" cy="357.7" r="0.57"/><circle cx="446.8" cy="392.9" r="0.61"/><circle cx="450.3" cy="341.3" r="0.77"/><circle cx="460.8" cy="368.2" r="0.40"/><circle cx="489.7" cy="328.9" r="0.60"/><circle cx="491.7" cy="355.2" r="0.54"/><circle cx="511.5" cy="335.9" r="0.67"/><circle cx="484.2" cy="347.3" r="0.33"/><circle cx="439.9" cy="381.5" r="0.68"/><circle cx="476.5" cy="362.5" r="0.81"/><circle cx="474.0" cy="342.9" r="0.42"/><circle cx="433.4" cy="396.8" r="0.37"/><circle cx="428.4" cy="408.7" r="0.43"/><circle cx="506.0" cy="334.2" r="0.60"/><circle cx="457.2" cy="378.0" r="0.59"/><circle cx="436.2" cy="397.6" r="0.69"/><circle cx="499.0" cy="344.4" r="0.65"/><circle cx="469.5" cy="333.0" r="0.66"/><circle cx="491.9" cy="362.7" r="0.72"/><circle cx="480.3" cy="345.1" r="0.53"/><circle cx="464.7" cy="334.1" r="0.44"/><circle cx="508.4" cy="351.7" r="0.91"/><circle cx="490.7" cy="351.9" r="0.64"/><circle cx="483.3" cy="330.4" r="0.78"/></g>
<path d="M447.3,333.6 C448.4,331.6 450.4,331.6 452.0,331.0 C453.6,330.4 455.5,330.2 457.0,330.0 C458.5,329.8 458.0,330.2 461.0,330.0 C464.0,329.8 470.2,329.0 475.0,328.5 C479.8,328.0 485.8,327.2 490.0,327.0 C494.2,326.8 495.8,326.8 500.0,327.0 C504.2,327.2 513.4,326.8 515.5,328.0 C517.6,329.2 513.2,331.9 512.5,334.0 C511.8,336.1 511.7,337.8 511.4,340.5 C511.1,343.2 510.7,347.1 510.5,350.0 C510.3,352.9 510.5,355.3 510.0,358.0 C509.5,360.7 508.4,363.9 507.5,366.0 C506.6,368.1 506.4,369.1 504.5,370.5 C502.6,371.9 499.3,373.3 496.4,374.5 C493.5,375.7 490.2,376.6 487.0,377.5 C483.8,378.4 481.0,378.9 477.3,380.0 C473.6,381.1 468.3,382.8 465.0,384.0 C461.7,385.2 459.8,386.3 457.5,387.5 C455.2,388.7 453.6,389.5 451.4,391.0 C449.1,392.5 446.3,394.7 444.0,396.5 C441.7,398.3 439.8,399.9 437.7,401.8 C435.6,403.7 433.1,406.4 431.5,408.0 C429.9,409.6 428.9,411.5 428.0,411.5 C427.1,411.5 426.2,409.9 426.3,408.0 C426.4,406.1 427.7,402.7 428.5,400.0 C429.3,397.3 430.2,394.8 431.0,392.0 C431.8,389.2 432.6,385.9 433.5,383.0 C434.4,380.1 435.3,377.7 436.4,374.5 C437.5,371.3 438.9,367.4 440.0,364.0 C441.1,360.6 442.1,357.5 443.0,354.0 C443.9,350.5 444.8,346.4 445.5,343.0 C446.2,339.6 446.2,335.6 447.3,333.6Z" class="ol"/>
<ellipse cx="473.5" cy="334.3" rx="16" ry="15" fill="#f8c98f"/>
<path d="M461,335 C459.5,333 458.5,331 458.3,329 C460,323.5 466,319.6 473.5,319.3 C476,319.3 478,319.8 480,320.8 C482,323 483.5,326 484,329.5 C484.3,334 482.5,338.5 479,341 C476,343 472,343.6 468.5,342.6 C465,341.5 462.5,338.5 461,335Z" fill="#c9379b"/>
<path d="M462.5,338 C466,342.5 471,344 476,343 C480.5,341.8 483.5,338 484.2,333 C482,337 478.5,339.5 474,340 C469.5,340.3 465.5,339.8 462.5,338Z" fill="#d98638"/>
<path d="M461,330 C460.3,335 462.5,340 467,342.6 C472,344.8 478,343.5 481.5,339.5 C484.3,336 485,331 483.5,326.5" class="ol" stroke-width="0.9"/>
<ellipse cx="473.5" cy="334.3" rx="16" ry="15" class="ol" stroke-width="1"/>
<path d="M493.6,337.7 C494.8,337.1 495.3,337.1 496.4,337.2 C497.5,337.3 498.9,337.9 500.0,338.5 C501.1,339.1 502.1,339.4 503.0,340.5 C503.9,341.6 504.9,343.4 505.5,345.0 C506.1,346.6 506.5,348.2 506.6,350.0 C506.7,351.8 506.4,354.2 506.0,356.0 C505.6,357.8 505.2,359.5 504.5,361.0 C503.8,362.5 502.6,363.9 501.5,365.0 C500.4,366.1 499.4,366.7 497.7,367.7 C495.9,368.7 493.3,369.9 491.0,370.8 C488.7,371.7 486.2,372.3 484.0,373.0 C481.8,373.7 479.5,374.5 477.5,375.0 C475.5,375.5 473.6,375.8 471.8,376.0 C470.1,376.2 468.4,376.2 467.0,376.0 C465.6,375.8 464.6,375.5 463.6,375.0 C462.6,374.5 461.5,373.8 460.8,373.0 C460.1,372.2 459.8,371.4 459.5,370.5 C459.2,369.6 459.0,368.4 459.0,367.5 C459.0,366.6 458.9,365.8 459.5,365.0 C460.1,364.2 461.4,363.5 462.5,362.8 C463.6,362.1 464.8,361.7 466.4,361.0 C468.0,360.3 470.2,359.7 472.0,358.8 C473.8,357.9 475.8,356.6 477.3,355.5 C478.8,354.4 479.9,353.4 481.0,352.0 C482.1,350.6 483.0,348.7 484.0,347.3 C485.0,345.9 485.9,344.6 486.8,343.5 C487.7,342.4 488.4,341.5 489.5,340.5 C490.6,339.5 492.5,338.2 493.6,337.7Z" fill="#d98a2b"/>
<clipPath id="cSin"><path d="M493.6,337.7 C494.8,337.1 495.3,337.1 496.4,337.2 C497.5,337.3 498.9,337.9 500.0,338.5 C501.1,339.1 502.1,339.4 503.0,340.5 C503.9,341.6 504.9,343.4 505.5,345.0 C506.1,346.6 506.5,348.2 506.6,350.0 C506.7,351.8 506.4,354.2 506.0,356.0 C505.6,357.8 505.2,359.5 504.5,361.0 C503.8,362.5 502.6,363.9 501.5,365.0 C500.4,366.1 499.4,366.7 497.7,367.7 C495.9,368.7 493.3,369.9 491.0,370.8 C488.7,371.7 486.2,372.3 484.0,373.0 C481.8,373.7 479.5,374.5 477.5,375.0 C475.5,375.5 473.6,375.8 471.8,376.0 C470.1,376.2 468.4,376.2 467.0,376.0 C465.6,375.8 464.6,375.5 463.6,375.0 C462.6,374.5 461.5,373.8 460.8,373.0 C460.1,372.2 459.8,371.4 459.5,370.5 C459.2,369.6 459.0,368.4 459.0,367.5 C459.0,366.6 458.9,365.8 459.5,365.0 C460.1,364.2 461.4,363.5 462.5,362.8 C463.6,362.1 464.8,361.7 466.4,361.0 C468.0,360.3 470.2,359.7 472.0,358.8 C473.8,357.9 475.8,356.6 477.3,355.5 C478.8,354.4 479.9,353.4 481.0,352.0 C482.1,350.6 483.0,348.7 484.0,347.3 C485.0,345.9 485.9,344.6 486.8,343.5 C487.7,342.4 488.4,341.5 489.5,340.5 C490.6,339.5 492.5,338.2 493.6,337.7Z"/></clipPath>
<g clip-path="url(#cSin)">
<path d="M489,339 C497,335 507,342 507,352 C507,360 503,366 497,369" stroke="#a65d0e" stroke-width="5" fill="none" filter="url(#b1)"/>
<path d="M459,364 C458,372 462,377 470,377 C480,376 490,372 498,368" stroke="#a65d0e" stroke-width="4" fill="none" filter="url(#b1)"/>
<path d="M470,366 C478,364 486,358 490,350 C494,346 498,348 498,354 C496,360 488,366 478,369Z" fill="#eda144" filter="url(#b1)"/>
<path d="M476,368 C482,362 486,360 492,360" stroke="#b96f18" stroke-width="2" fill="none" filter="url(#b1)"/>
</g>
<path d="M493.6,337.7 C494.8,337.1 495.3,337.1 496.4,337.2 C497.5,337.3 498.9,337.9 500.0,338.5 C501.1,339.1 502.1,339.4 503.0,340.5 C503.9,341.6 504.9,343.4 505.5,345.0 C506.1,346.6 506.5,348.2 506.6,350.0 C506.7,351.8 506.4,354.2 506.0,356.0 C505.6,357.8 505.2,359.5 504.5,361.0 C503.8,362.5 502.6,363.9 501.5,365.0 C500.4,366.1 499.4,366.7 497.7,367.7 C495.9,368.7 493.3,369.9 491.0,370.8 C488.7,371.7 486.2,372.3 484.0,373.0 C481.8,373.7 479.5,374.5 477.5,375.0 C475.5,375.5 473.6,375.8 471.8,376.0 C470.1,376.2 468.4,376.2 467.0,376.0 C465.6,375.8 464.6,375.5 463.6,375.0 C462.6,374.5 461.5,373.8 460.8,373.0 C460.1,372.2 459.8,371.4 459.5,370.5 C459.2,369.6 459.0,368.4 459.0,367.5 C459.0,366.6 458.9,365.8 459.5,365.0 C460.1,364.2 461.4,363.5 462.5,362.8 C463.6,362.1 464.8,361.7 466.4,361.0 C468.0,360.3 470.2,359.7 472.0,358.8 C473.8,357.9 475.8,356.6 477.3,355.5 C478.8,354.4 479.9,353.4 481.0,352.0 C482.1,350.6 483.0,348.7 484.0,347.3 C485.0,345.9 485.9,344.6 486.8,343.5 C487.7,342.4 488.4,341.5 489.5,340.5 C490.6,339.5 492.5,338.2 493.6,337.7Z" class="ol"/>
<path d="M268.0,272.0 C268.8,268.8 271.1,258.1 272.5,253.0 C273.9,247.9 273.9,247.0 276.4,241.4 C278.9,235.8 283.4,226.5 287.3,219.5 C291.2,212.5 295.5,205.2 300.0,199.5 C304.5,193.8 309.1,190.2 314.5,185.0 C319.9,179.8 326.6,173.3 332.7,168.6 C338.8,163.9 345.1,160.0 351.0,156.8 C356.9,153.6 361.9,151.8 368.0,149.5 C374.1,147.2 382.0,144.8 387.3,143.2 C392.6,141.6 394.6,140.9 400.0,139.8 C405.4,138.7 413.3,137.6 420.0,136.8 C426.7,136.1 434.2,135.6 440.0,135.3 C445.8,135.0 449.2,134.9 455.0,135.0 C460.8,135.1 469.0,135.4 475.0,136.0 C481.0,136.6 488.3,138.2 491.0,138.6 L489.0,147.5 C486.5,147.1 479.7,145.7 474.0,145.0 C468.3,144.3 460.7,143.7 455.0,143.5 C449.3,143.3 445.8,143.5 440.0,143.8 C434.2,144.1 427.5,144.1 420.0,145.5 C412.5,146.9 403.5,149.6 395.0,152.5 C386.5,155.4 377.9,158.7 369.0,163.2 C360.1,167.7 350.0,173.8 341.8,179.5 C333.6,185.2 326.1,191.6 320.0,197.7 C313.9,203.8 310.1,208.7 305.5,216.0 C300.9,223.3 296.1,234.9 292.7,241.4 C289.3,247.9 287.1,249.9 285.0,255.0 C282.9,260.1 280.8,269.2 280.0,272.0Z" fill="#f3e9c6"/>
<g fill="#9a8440" opacity="0.9"><circle cx="343.4" cy="177.5" r="0.84"/><circle cx="280.7" cy="268.6" r="0.36"/><circle cx="292.1" cy="237.5" r="0.83"/><circle cx="459.7" cy="140.0" r="0.92"/><circle cx="358.5" cy="167.5" r="0.71"/><circle cx="472.3" cy="139.5" r="0.65"/><circle cx="358.0" cy="155.1" r="0.58"/><circle cx="428.7" cy="138.8" r="0.45"/><circle cx="408.7" cy="140.7" r="0.63"/><circle cx="299.7" cy="216.6" r="0.69"/><circle cx="292.1" cy="212.5" r="0.72"/><circle cx="299.4" cy="221.2" r="0.88"/><circle cx="295.2" cy="220.2" r="0.62"/><circle cx="452.4" cy="136.8" r="0.67"/><circle cx="282.7" cy="249.6" r="0.77"/><circle cx="299.8" cy="200.5" r="0.68"/><circle cx="302.2" cy="215.3" r="0.84"/><circle cx="416.0" cy="138.5" r="0.78"/><circle cx="424.4" cy="141.7" r="0.86"/><circle cx="414.1" cy="146.7" r="0.75"/><circle cx="320.4" cy="180.7" r="0.72"/><circle cx="276.8" cy="256.8" r="0.64"/><circle cx="371.8" cy="148.7" r="0.44"/><circle cx="283.9" cy="258.1" r="0.64"/><circle cx="476.7" cy="142.4" r="0.50"/><circle cx="386.5" cy="146.6" r="0.54"/><circle cx="287.5" cy="240.8" r="0.84"/><circle cx="281.7" cy="231.0" r="0.38"/><circle cx="400.9" cy="149.2" r="0.84"/><circle cx="486.1" cy="139.5" r="0.70"/><circle cx="355.6" cy="164.5" r="0.52"/><circle cx="321.9" cy="183.2" r="0.50"/><circle cx="357.4" cy="154.6" r="0.85"/><circle cx="284.1" cy="238.2" r="0.75"/><circle cx="355.0" cy="159.4" r="0.74"/><circle cx="292.3" cy="229.4" r="0.68"/><circle cx="336.1" cy="171.7" r="0.72"/><circle cx="335.4" cy="173.5" r="0.71"/><circle cx="301.9" cy="219.4" r="0.41"/><circle cx="314.0" cy="186.3" r="0.63"/><circle cx="294.2" cy="216.8" r="0.57"/><circle cx="284.1" cy="239.1" r="0.78"/><circle cx="334.0" cy="181.2" r="0.86"/><circle cx="416.6" cy="145.1" r="0.51"/><circle cx="448.8" cy="135.7" r="0.81"/><circle cx="316.3" cy="192.7" r="0.51"/><circle cx="305.7" cy="197.7" r="0.39"/><circle cx="292.7" cy="223.2" r="0.57"/><circle cx="314.2" cy="197.2" r="0.39"/><circle cx="279.6" cy="236.3" r="0.69"/><circle cx="462.3" cy="140.4" r="0.70"/><circle cx="294.2" cy="233.8" r="0.72"/><circle cx="299.0" cy="202.3" r="0.76"/><circle cx="397.9" cy="141.8" r="0.93"/><circle cx="461.9" cy="143.6" r="0.53"/><circle cx="380.9" cy="149.3" r="0.60"/><circle cx="371.9" cy="149.1" r="0.81"/><circle cx="386.0" cy="154.1" r="0.38"/><circle cx="291.5" cy="214.5" r="0.50"/><circle cx="296.6" cy="224.7" r="0.80"/><circle cx="454.7" cy="140.9" r="0.67"/><circle cx="374.7" cy="151.4" r="0.47"/><circle cx="272.5" cy="256.2" r="0.94"/><circle cx="316.4" cy="190.2" r="0.62"/><circle cx="366.9" cy="161.1" r="0.55"/><circle cx="289.0" cy="235.0" r="0.59"/><circle cx="383.7" cy="146.3" r="0.73"/><circle cx="462.4" cy="143.0" r="0.49"/><circle cx="331.7" cy="171.2" r="0.84"/><circle cx="414.4" cy="139.7" r="0.62"/><circle cx="307.6" cy="200.0" r="0.54"/><circle cx="357.6" cy="170.0" r="0.72"/><circle cx="275.9" cy="247.1" r="0.75"/><circle cx="336.3" cy="181.4" r="0.72"/><circle cx="317.3" cy="197.5" r="0.37"/><circle cx="370.0" cy="151.5" r="0.40"/><circle cx="323.1" cy="185.4" r="0.92"/><circle cx="309.6" cy="198.8" r="0.68"/><circle cx="289.2" cy="236.6" r="0.56"/><circle cx="281.6" cy="238.3" r="0.49"/><circle cx="286.8" cy="241.5" r="0.74"/><circle cx="393.3" cy="141.7" r="0.93"/><circle cx="325.8" cy="184.8" r="0.35"/><circle cx="277.7" cy="257.6" r="0.60"/><circle cx="322.5" cy="192.9" r="0.41"/><circle cx="343.2" cy="167.0" r="0.54"/><circle cx="278.3" cy="256.8" r="0.91"/><circle cx="416.2" cy="141.9" r="0.61"/><circle cx="308.4" cy="196.0" r="0.89"/><circle cx="351.1" cy="171.6" r="0.60"/><circle cx="274.9" cy="255.6" r="0.41"/><circle cx="363.4" cy="161.6" r="0.48"/><circle cx="377.8" cy="158.3" r="0.88"/><circle cx="475.1" cy="141.4" r="0.63"/><circle cx="311.1" cy="192.1" r="0.44"/><circle cx="341.3" cy="169.9" r="0.37"/><circle cx="327.1" cy="180.3" r="0.94"/><circle cx="292.3" cy="214.7" r="0.71"/><circle cx="396.5" cy="150.7" r="0.43"/><circle cx="295.8" cy="228.7" r="0.39"/><circle cx="345.1" cy="168.2" r="0.57"/><circle cx="351.4" cy="170.3" r="0.65"/><circle cx="454.0" cy="136.1" r="0.89"/><circle cx="293.4" cy="239.8" r="0.78"/><circle cx="309.1" cy="194.1" r="0.45"/><circle cx="323.7" cy="180.9" r="0.45"/><circle cx="332.9" cy="169.9" r="0.44"/><circle cx="307.4" cy="209.0" r="0.65"/><circle cx="312.0" cy="195.7" r="0.85"/><circle cx="481.5" cy="140.3" r="0.44"/><circle cx="282.2" cy="231.0" r="0.94"/><circle cx="291.5" cy="228.6" r="0.61"/><circle cx="477.7" cy="144.7" r="0.73"/><circle cx="355.4" cy="160.0" r="0.83"/><circle cx="360.8" cy="167.9" r="0.88"/><circle cx="300.2" cy="217.8" r="0.53"/><circle cx="365.6" cy="158.4" r="0.90"/><circle cx="280.6" cy="258.7" r="0.92"/><circle cx="272.9" cy="268.4" r="0.38"/><circle cx="312.0" cy="200.9" r="0.55"/><circle cx="315.3" cy="188.3" r="0.64"/><circle cx="311.8" cy="201.5" r="0.65"/><circle cx="363.4" cy="160.5" r="0.58"/><circle cx="333.2" cy="171.3" r="0.50"/><circle cx="298.9" cy="215.7" r="0.94"/><circle cx="395.2" cy="147.9" r="0.57"/><circle cx="372.0" cy="158.0" r="0.78"/><circle cx="432.6" cy="142.3" r="0.56"/><circle cx="377.6" cy="153.1" r="0.82"/><circle cx="387.0" cy="154.4" r="0.78"/><circle cx="283.6" cy="241.2" r="0.53"/><circle cx="364.0" cy="156.3" r="0.68"/><circle cx="312.2" cy="206.5" r="0.49"/><circle cx="316.2" cy="189.7" r="0.85"/><circle cx="276.5" cy="259.2" r="0.76"/><circle cx="277.4" cy="261.4" r="0.91"/><circle cx="344.3" cy="167.9" r="0.47"/><circle cx="432.3" cy="141.6" r="0.90"/><circle cx="291.7" cy="217.7" r="0.84"/><circle cx="437.9" cy="143.8" r="0.54"/><circle cx="297.4" cy="218.9" r="0.43"/><circle cx="367.0" cy="154.0" r="0.56"/><circle cx="289.2" cy="221.2" r="0.38"/><circle cx="276.7" cy="249.2" r="0.70"/><circle cx="293.9" cy="222.7" r="0.75"/><circle cx="301.3" cy="221.4" r="0.53"/><circle cx="434.6" cy="140.3" r="0.90"/><circle cx="275.8" cy="265.3" r="0.40"/><circle cx="425.8" cy="144.4" r="0.89"/><circle cx="284.5" cy="226.0" r="0.94"/><circle cx="274.8" cy="249.8" r="0.75"/><circle cx="373.9" cy="154.5" r="0.65"/><circle cx="286.4" cy="248.5" r="0.72"/><circle cx="398.9" cy="146.8" r="0.46"/><circle cx="290.5" cy="242.1" r="0.83"/><circle cx="283.9" cy="246.4" r="0.35"/><circle cx="299.5" cy="207.6" r="0.77"/><circle cx="320.7" cy="181.6" r="0.80"/><circle cx="314.2" cy="204.9" r="0.85"/><circle cx="352.5" cy="159.5" r="0.56"/><circle cx="275.0" cy="257.1" r="0.59"/><circle cx="387.6" cy="155.2" r="0.94"/><circle cx="410.4" cy="138.5" r="0.54"/><circle cx="293.9" cy="220.8" r="0.71"/><circle cx="378.4" cy="156.2" r="0.85"/><circle cx="373.5" cy="151.4" r="0.45"/><circle cx="428.5" cy="144.1" r="0.72"/><circle cx="427.8" cy="137.8" r="0.44"/><circle cx="321.7" cy="195.0" r="0.86"/><circle cx="475.9" cy="143.4" r="0.70"/><circle cx="291.5" cy="223.2" r="0.78"/><circle cx="345.2" cy="174.2" r="0.46"/><circle cx="423.8" cy="140.0" r="0.69"/><circle cx="316.5" cy="191.3" r="0.60"/><circle cx="346.5" cy="166.4" r="0.82"/><circle cx="406.0" cy="139.0" r="0.78"/><circle cx="404.0" cy="148.2" r="0.91"/><circle cx="456.7" cy="137.4" r="0.65"/><circle cx="484.1" cy="138.3" r="0.73"/><circle cx="315.8" cy="200.0" r="0.87"/><circle cx="276.4" cy="249.8" r="0.81"/><circle cx="278.1" cy="257.3" r="0.80"/><circle cx="271.3" cy="259.9" r="0.45"/><circle cx="285.0" cy="239.9" r="0.51"/><circle cx="280.0" cy="247.8" r="0.54"/><circle cx="305.7" cy="212.5" r="0.57"/><circle cx="315.1" cy="192.4" r="0.63"/><circle cx="344.8" cy="167.9" r="0.90"/><circle cx="375.4" cy="150.1" r="0.40"/><circle cx="303.8" cy="205.7" r="0.91"/><circle cx="409.1" cy="145.4" r="0.70"/><circle cx="291.5" cy="229.4" r="0.51"/><circle cx="466.8" cy="139.0" r="0.58"/><circle cx="475.7" cy="145.0" r="0.46"/><circle cx="488.7" cy="144.7" r="0.92"/><circle cx="489.6" cy="143.8" r="0.60"/><circle cx="364.5" cy="165.2" r="0.57"/><circle cx="296.1" cy="231.4" r="0.51"/><circle cx="292.9" cy="234.4" r="0.40"/><circle cx="300.7" cy="205.2" r="0.42"/></g>
<path d="M348.6,428.2 C347.5,428.4 345.2,429.7 341.8,429.5 C338.4,429.3 332.8,428.4 328.2,426.8 C323.6,425.2 319.0,422.7 314.5,420.0 C310.0,417.3 306.0,414.4 301.0,410.5 C296.0,406.6 289.1,401.4 284.5,396.8 C279.9,392.2 276.6,388.7 273.6,383.2 C270.7,377.7 268.5,370.9 266.8,364.0 C265.1,357.1 263.9,349.7 263.3,342.0 C262.7,334.3 262.8,325.8 263.0,318.0 C263.2,310.2 263.7,302.7 264.5,295.0 C265.3,287.3 267.4,275.8 268.0,272.0 L280.0,272.0 C279.4,275.8 277.4,287.3 276.5,295.0 C275.6,302.7 274.8,310.5 274.5,318.0 C274.2,325.5 274.0,333.3 274.5,340.0 C275.0,346.7 276.2,352.8 277.7,358.0 C279.1,363.2 280.5,366.8 283.2,371.0 C285.9,375.2 289.9,379.8 294.0,383.2 C298.1,386.6 303.8,388.4 307.7,391.4 C311.6,394.4 313.9,397.6 317.3,401.0 C320.7,404.4 324.1,408.6 328.2,411.8 C332.3,415.0 338.6,417.7 341.8,420.0 C345.0,422.3 346.2,424.1 347.3,425.5 C348.4,426.9 348.4,427.8 348.6,428.2Z" fill="#e8ba98"/>
<g fill="#a85f34" opacity="0.9"><circle cx="303.3" cy="391.7" r="0.61"/><circle cx="310.4" cy="398.8" r="0.54"/><circle cx="271.0" cy="303.1" r="0.79"/><circle cx="274.8" cy="305.1" r="0.96"/><circle cx="267.6" cy="338.6" r="0.87"/><circle cx="289.2" cy="398.7" r="0.58"/><circle cx="330.9" cy="419.5" r="0.55"/><circle cx="263.5" cy="342.8" r="0.39"/><circle cx="271.6" cy="329.0" r="0.45"/><circle cx="275.4" cy="370.9" r="0.42"/><circle cx="272.0" cy="373.7" r="0.67"/><circle cx="315.9" cy="415.5" r="0.99"/><circle cx="286.7" cy="384.2" r="0.39"/><circle cx="331.5" cy="426.0" r="0.55"/><circle cx="265.8" cy="299.3" r="0.61"/><circle cx="328.5" cy="421.6" r="0.84"/><circle cx="269.3" cy="353.9" r="0.37"/><circle cx="311.3" cy="415.4" r="0.64"/><circle cx="277.0" cy="370.5" r="0.62"/><circle cx="268.2" cy="278.3" r="0.88"/><circle cx="271.6" cy="329.9" r="0.37"/><circle cx="309.5" cy="395.9" r="0.51"/><circle cx="311.4" cy="417.3" r="0.56"/><circle cx="284.8" cy="396.5" r="0.87"/><circle cx="271.0" cy="365.8" r="0.37"/><circle cx="341.9" cy="421.3" r="0.65"/><circle cx="274.9" cy="273.5" r="0.40"/><circle cx="270.5" cy="365.0" r="0.54"/><circle cx="274.3" cy="338.0" r="0.48"/><circle cx="301.4" cy="399.3" r="0.75"/><circle cx="303.3" cy="404.6" r="0.98"/><circle cx="274.4" cy="330.4" r="0.95"/><circle cx="307.5" cy="394.3" r="0.69"/><circle cx="274.3" cy="289.2" r="0.77"/><circle cx="325.3" cy="416.4" r="0.47"/><circle cx="278.8" cy="371.0" r="0.95"/><circle cx="272.5" cy="368.7" r="0.67"/><circle cx="325.8" cy="424.9" r="0.79"/><circle cx="286.5" cy="385.6" r="0.62"/><circle cx="308.5" cy="404.0" r="0.42"/><circle cx="269.0" cy="291.1" r="0.84"/><circle cx="277.6" cy="277.6" r="0.36"/><circle cx="276.2" cy="281.2" r="0.86"/><circle cx="323.1" cy="410.9" r="0.50"/><circle cx="318.1" cy="403.8" r="0.53"/><circle cx="309.7" cy="413.1" r="0.46"/><circle cx="272.6" cy="341.1" r="0.72"/><circle cx="313.8" cy="406.3" r="0.85"/><circle cx="307.1" cy="409.4" r="0.46"/><circle cx="274.6" cy="290.7" r="0.63"/><circle cx="274.5" cy="287.6" r="0.37"/><circle cx="272.7" cy="377.4" r="0.45"/><circle cx="273.2" cy="373.5" r="0.98"/><circle cx="276.7" cy="362.7" r="0.82"/><circle cx="334.1" cy="425.8" r="0.71"/><circle cx="269.0" cy="364.4" r="0.43"/><circle cx="285.6" cy="395.1" r="0.60"/><circle cx="272.4" cy="279.8" r="0.51"/><circle cx="294.7" cy="391.0" r="0.80"/><circle cx="269.5" cy="284.9" r="0.82"/><circle cx="300.7" cy="392.8" r="0.89"/><circle cx="263.8" cy="323.4" r="0.73"/><circle cx="265.5" cy="288.6" r="0.71"/><circle cx="339.9" cy="420.5" r="0.82"/><circle cx="280.1" cy="382.5" r="0.55"/><circle cx="265.8" cy="341.0" r="0.49"/><circle cx="290.0" cy="385.9" r="0.63"/><circle cx="264.0" cy="305.2" r="0.56"/><circle cx="266.4" cy="333.2" r="0.60"/><circle cx="286.1" cy="395.0" r="0.44"/><circle cx="265.3" cy="327.6" r="0.57"/><circle cx="311.2" cy="402.7" r="0.39"/><circle cx="319.1" cy="406.3" r="0.77"/><circle cx="271.6" cy="283.5" r="0.98"/><circle cx="280.6" cy="378.8" r="0.86"/><circle cx="317.6" cy="404.6" r="0.37"/><circle cx="297.3" cy="388.8" r="0.38"/><circle cx="272.1" cy="312.5" r="0.79"/><circle cx="280.1" cy="364.3" r="0.96"/><circle cx="306.8" cy="405.7" r="0.94"/><circle cx="276.5" cy="274.3" r="0.70"/><circle cx="272.0" cy="306.1" r="0.80"/><circle cx="265.1" cy="329.2" r="0.81"/><circle cx="335.4" cy="421.2" r="0.99"/><circle cx="311.7" cy="416.2" r="0.90"/><circle cx="345.1" cy="424.6" r="0.35"/><circle cx="263.1" cy="318.8" r="0.44"/><circle cx="290.6" cy="387.6" r="0.48"/><circle cx="273.5" cy="275.4" r="0.83"/><circle cx="300.7" cy="400.6" r="0.39"/><circle cx="286.5" cy="387.9" r="0.52"/><circle cx="273.0" cy="354.0" r="0.73"/><circle cx="301.8" cy="399.4" r="0.57"/><circle cx="275.2" cy="296.5" r="0.47"/><circle cx="263.7" cy="321.4" r="0.74"/><circle cx="303.4" cy="397.8" r="0.40"/><circle cx="273.1" cy="286.4" r="0.47"/><circle cx="306.8" cy="402.8" r="0.78"/><circle cx="314.6" cy="407.4" r="0.94"/><circle cx="301.6" cy="390.9" r="0.98"/><circle cx="297.8" cy="404.8" r="1.02"/><circle cx="288.4" cy="399.0" r="0.53"/><circle cx="264.8" cy="324.0" r="1.03"/><circle cx="265.3" cy="295.3" r="0.78"/><circle cx="275.0" cy="349.7" r="1.04"/><circle cx="270.6" cy="368.5" r="0.96"/><circle cx="272.0" cy="345.0" r="0.66"/><circle cx="310.8" cy="394.5" r="0.97"/><circle cx="284.3" cy="385.5" r="0.58"/><circle cx="324.0" cy="417.4" r="1.04"/><circle cx="276.6" cy="373.4" r="0.83"/><circle cx="267.6" cy="361.1" r="1.01"/><circle cx="277.6" cy="374.8" r="0.78"/><circle cx="272.0" cy="281.2" r="0.55"/><circle cx="270.4" cy="365.8" r="0.71"/><circle cx="282.8" cy="380.3" r="0.99"/><circle cx="292.3" cy="393.7" r="0.63"/><circle cx="274.4" cy="375.7" r="0.68"/><circle cx="272.1" cy="283.6" r="0.68"/><circle cx="311.4" cy="410.8" r="1.01"/><circle cx="268.2" cy="293.1" r="0.88"/><circle cx="276.2" cy="273.8" r="0.56"/><circle cx="281.4" cy="386.7" r="0.64"/><circle cx="280.8" cy="378.8" r="0.82"/><circle cx="265.1" cy="343.3" r="0.73"/><circle cx="268.4" cy="342.9" r="0.39"/><circle cx="306.8" cy="412.7" r="0.51"/><circle cx="298.4" cy="400.1" r="0.57"/><circle cx="275.4" cy="369.6" r="0.47"/><circle cx="268.1" cy="342.4" r="0.57"/><circle cx="272.5" cy="278.2" r="0.91"/><circle cx="277.6" cy="286.3" r="0.82"/><circle cx="284.2" cy="374.4" r="0.35"/><circle cx="273.4" cy="341.1" r="0.49"/><circle cx="265.2" cy="312.5" r="0.51"/><circle cx="276.4" cy="282.0" r="1.05"/><circle cx="274.8" cy="361.6" r="0.81"/><circle cx="283.8" cy="384.0" r="0.74"/><circle cx="293.4" cy="395.2" r="0.49"/><circle cx="296.1" cy="401.7" r="0.90"/><circle cx="317.3" cy="414.3" r="0.51"/><circle cx="336.1" cy="418.8" r="0.88"/><circle cx="273.4" cy="379.4" r="0.99"/><circle cx="266.7" cy="336.4" r="0.41"/><circle cx="331.1" cy="422.6" r="0.94"/><circle cx="320.4" cy="413.3" r="0.86"/><circle cx="266.5" cy="289.0" r="1.02"/><circle cx="337.1" cy="424.5" r="0.82"/><circle cx="271.0" cy="320.4" r="0.79"/><circle cx="345.3" cy="428.6" r="1.03"/><circle cx="264.1" cy="329.8" r="0.88"/><circle cx="273.8" cy="311.6" r="0.97"/><circle cx="332.5" cy="423.7" r="0.72"/><circle cx="290.8" cy="384.4" r="0.86"/><circle cx="269.0" cy="354.6" r="0.48"/><circle cx="284.9" cy="380.1" r="0.96"/><circle cx="305.1" cy="411.9" r="0.42"/><circle cx="303.3" cy="407.0" r="0.55"/><circle cx="266.4" cy="328.4" r="0.66"/><circle cx="322.0" cy="417.3" r="0.81"/><circle cx="274.3" cy="313.4" r="0.48"/><circle cx="276.1" cy="373.7" r="0.65"/><circle cx="317.4" cy="403.5" r="1.02"/><circle cx="273.3" cy="349.7" r="0.58"/><circle cx="265.1" cy="301.9" r="0.53"/><circle cx="264.8" cy="317.3" r="0.59"/><circle cx="320.6" cy="418.3" r="0.62"/><circle cx="267.9" cy="315.8" r="1.01"/><circle cx="265.8" cy="301.5" r="0.90"/><circle cx="272.8" cy="307.4" r="0.95"/><circle cx="282.0" cy="380.3" r="0.57"/><circle cx="274.5" cy="329.5" r="0.67"/><circle cx="332.6" cy="425.9" r="0.91"/><circle cx="298.1" cy="390.3" r="0.62"/><circle cx="276.1" cy="365.9" r="0.67"/><circle cx="333.6" cy="424.2" r="0.62"/><circle cx="327.8" cy="416.1" r="0.94"/><circle cx="281.4" cy="377.7" r="0.41"/><circle cx="313.9" cy="418.6" r="0.51"/><circle cx="309.1" cy="409.5" r="0.77"/><circle cx="269.4" cy="357.1" r="0.66"/><circle cx="306.0" cy="411.3" r="0.80"/><circle cx="272.6" cy="293.9" r="0.78"/><circle cx="273.1" cy="364.0" r="0.91"/><circle cx="331.7" cy="426.6" r="0.55"/><circle cx="272.6" cy="341.7" r="1.01"/><circle cx="330.0" cy="419.1" r="0.87"/><circle cx="264.7" cy="337.8" r="0.62"/><circle cx="270.9" cy="280.1" r="0.47"/><circle cx="272.4" cy="305.2" r="1.02"/><circle cx="285.7" cy="385.1" r="0.72"/><circle cx="263.2" cy="317.8" r="0.84"/><circle cx="268.3" cy="339.3" r="0.78"/><circle cx="264.4" cy="330.5" r="0.66"/><circle cx="298.4" cy="404.1" r="0.48"/><circle cx="265.7" cy="305.7" r="0.37"/><circle cx="266.5" cy="304.3" r="0.82"/><circle cx="329.6" cy="422.2" r="0.61"/><circle cx="319.3" cy="410.9" r="0.89"/><circle cx="333.4" cy="415.2" r="0.86"/><circle cx="282.1" cy="376.8" r="0.61"/><circle cx="271.3" cy="343.9" r="0.95"/><circle cx="346.6" cy="426.0" r="0.79"/><circle cx="270.8" cy="316.4" r="0.62"/><circle cx="273.5" cy="362.0" r="0.81"/><circle cx="316.1" cy="408.1" r="0.96"/><circle cx="272.4" cy="310.9" r="0.73"/><circle cx="317.0" cy="415.5" r="0.99"/><circle cx="275.3" cy="306.0" r="0.95"/><circle cx="337.5" cy="428.0" r="1.03"/></g>
<path d="M491.0,138.6 C497.0,140.4 516.8,145.5 527.0,149.5 C537.2,153.5 544.1,157.0 552.5,162.5 C560.9,168.0 570.4,175.4 577.5,182.5 C584.6,189.6 590.8,198.6 595.0,205.0 C599.2,211.4 600.5,215.8 603.0,221.0 C605.5,226.2 607.9,230.5 610.0,236.4 C612.1,242.3 614.2,250.0 615.5,256.4 C616.8,262.8 617.7,268.4 618.0,274.5 C618.3,280.6 618.3,287.2 617.3,292.7 C616.3,298.2 613.3,303.7 611.8,307.3 C610.2,310.9 608.6,313.3 608.0,314.5 L583.6,312.7 C584.2,311.8 585.9,310.6 587.3,307.3 C588.7,304.0 590.4,298.2 591.8,292.7 C593.2,287.2 594.7,280.6 595.5,274.5 C596.3,268.4 596.6,262.8 596.4,256.4 C596.2,250.0 595.6,242.3 594.5,236.4 C593.4,230.5 591.8,225.7 590.0,221.0 C588.2,216.3 587.3,213.5 584.0,208.0 C580.7,202.5 576.2,194.3 570.0,188.0 C563.8,181.7 554.8,175.0 547.0,170.0 C539.2,165.0 532.7,161.8 523.0,158.0 C513.3,154.2 494.7,149.2 489.0,147.5Z" fill="#c9e6ec"/>
<g fill="#1f7f88" opacity="0.9"><circle cx="597.4" cy="304.8" r="0.66"/><circle cx="617.1" cy="283.2" r="0.53"/><circle cx="594.7" cy="290.6" r="0.53"/><circle cx="603.1" cy="307.1" r="0.45"/><circle cx="611.9" cy="260.1" r="0.69"/><circle cx="591.9" cy="207.6" r="0.61"/><circle cx="536.0" cy="160.2" r="0.90"/><circle cx="615.2" cy="290.5" r="0.80"/><circle cx="593.7" cy="311.8" r="0.90"/><circle cx="492.7" cy="143.5" r="0.53"/><circle cx="597.4" cy="222.9" r="0.77"/><circle cx="550.7" cy="170.0" r="0.86"/><circle cx="605.7" cy="280.5" r="0.45"/><circle cx="595.6" cy="311.0" r="0.78"/><circle cx="614.2" cy="252.9" r="0.69"/><circle cx="601.5" cy="283.9" r="0.49"/><circle cx="602.9" cy="308.8" r="0.49"/><circle cx="616.1" cy="277.3" r="0.98"/><circle cx="500.5" cy="148.7" r="0.80"/><circle cx="610.0" cy="250.2" r="0.87"/><circle cx="553.5" cy="169.9" r="0.58"/><circle cx="560.1" cy="171.9" r="0.66"/><circle cx="594.6" cy="214.6" r="0.67"/><circle cx="596.4" cy="262.9" r="0.76"/><circle cx="601.3" cy="256.5" r="0.53"/><circle cx="548.3" cy="166.3" r="0.64"/><circle cx="494.4" cy="142.6" r="0.55"/><circle cx="596.8" cy="295.5" r="0.76"/><circle cx="584.9" cy="192.1" r="0.72"/><circle cx="492.2" cy="139.2" r="0.67"/><circle cx="608.5" cy="264.0" r="0.94"/><circle cx="612.3" cy="294.1" r="0.88"/><circle cx="573.6" cy="191.5" r="0.71"/><circle cx="603.5" cy="270.5" r="0.62"/><circle cx="612.1" cy="287.9" r="0.92"/><circle cx="491.8" cy="144.3" r="0.81"/><circle cx="595.5" cy="289.1" r="0.98"/><circle cx="607.7" cy="252.1" r="0.55"/><circle cx="503.5" cy="151.0" r="0.69"/><circle cx="579.9" cy="192.7" r="0.36"/><circle cx="554.1" cy="174.7" r="0.98"/><circle cx="495.7" cy="149.2" r="0.61"/><circle cx="604.9" cy="294.0" r="0.83"/><circle cx="609.7" cy="269.9" r="0.37"/><circle cx="595.0" cy="214.7" r="0.38"/><circle cx="494.2" cy="144.7" r="0.39"/><circle cx="612.5" cy="247.1" r="0.52"/><circle cx="581.4" cy="194.3" r="0.53"/><circle cx="607.2" cy="250.1" r="0.96"/><circle cx="497.4" cy="144.6" r="0.71"/><circle cx="603.0" cy="312.4" r="0.52"/><circle cx="598.3" cy="255.5" r="0.43"/><circle cx="597.4" cy="299.4" r="0.38"/><circle cx="526.9" cy="159.6" r="0.47"/><circle cx="600.7" cy="217.6" r="0.52"/><circle cx="589.3" cy="304.9" r="0.42"/><circle cx="600.5" cy="313.9" r="0.59"/><circle cx="594.8" cy="210.1" r="0.92"/><circle cx="548.5" cy="167.2" r="0.36"/><circle cx="554.1" cy="164.3" r="0.53"/><circle cx="592.8" cy="308.7" r="0.48"/><circle cx="598.2" cy="284.5" r="0.47"/><circle cx="548.1" cy="170.2" r="0.66"/><circle cx="612.4" cy="299.7" r="0.46"/><circle cx="590.7" cy="302.3" r="0.39"/><circle cx="609.8" cy="258.2" r="0.93"/><circle cx="601.6" cy="236.3" r="0.73"/><circle cx="574.6" cy="193.6" r="0.35"/><circle cx="565.0" cy="174.5" r="0.76"/><circle cx="550.3" cy="162.3" r="0.96"/><circle cx="601.4" cy="276.2" r="0.61"/><circle cx="519.7" cy="148.9" r="0.86"/><circle cx="585.3" cy="196.1" r="0.92"/><circle cx="606.1" cy="249.5" r="0.80"/><circle cx="492.7" cy="145.9" r="0.80"/><circle cx="594.5" cy="282.8" r="0.93"/><circle cx="607.0" cy="304.7" r="0.42"/><circle cx="526.1" cy="156.2" r="0.41"/><circle cx="598.8" cy="247.4" r="0.37"/><circle cx="588.7" cy="199.6" r="0.81"/><circle cx="558.4" cy="176.7" r="0.91"/><circle cx="597.8" cy="255.1" r="0.83"/><circle cx="556.4" cy="166.9" r="0.56"/><circle cx="548.8" cy="163.5" r="0.74"/><circle cx="599.0" cy="258.1" r="0.77"/><circle cx="589.9" cy="304.0" r="0.69"/><circle cx="595.9" cy="230.4" r="0.62"/><circle cx="579.1" cy="200.5" r="0.52"/><circle cx="594.6" cy="282.2" r="0.65"/><circle cx="595.8" cy="297.9" r="0.86"/><circle cx="573.6" cy="182.6" r="0.42"/><circle cx="589.1" cy="199.5" r="0.45"/><circle cx="605.6" cy="277.9" r="0.46"/><circle cx="604.0" cy="245.6" r="0.86"/><circle cx="549.3" cy="164.0" r="0.67"/><circle cx="597.5" cy="220.9" r="0.72"/><circle cx="595.8" cy="209.6" r="0.68"/><circle cx="590.8" cy="298.6" r="0.75"/><circle cx="512.4" cy="145.1" r="0.85"/><circle cx="606.9" cy="253.9" r="0.59"/><circle cx="595.1" cy="277.0" r="0.72"/><circle cx="491.0" cy="139.4" r="0.79"/><circle cx="610.9" cy="276.6" r="0.72"/><circle cx="614.6" cy="262.3" r="0.89"/><circle cx="615.1" cy="284.8" r="0.74"/><circle cx="604.6" cy="280.6" r="0.53"/><circle cx="594.3" cy="294.7" r="0.38"/><circle cx="596.5" cy="281.4" r="0.91"/><circle cx="598.8" cy="280.6" r="0.80"/><circle cx="604.7" cy="294.3" r="0.69"/><circle cx="508.2" cy="146.4" r="1.00"/><circle cx="537.3" cy="157.3" r="0.76"/><circle cx="600.7" cy="224.1" r="0.72"/><circle cx="512.3" cy="153.3" r="0.38"/><circle cx="546.8" cy="166.7" r="0.98"/><circle cx="605.7" cy="285.9" r="0.38"/><circle cx="576.3" cy="191.2" r="0.73"/><circle cx="609.5" cy="291.1" r="0.93"/><circle cx="597.7" cy="249.1" r="0.64"/><circle cx="542.1" cy="166.0" r="0.53"/><circle cx="582.7" cy="190.2" r="0.99"/><circle cx="556.9" cy="171.3" r="0.63"/><circle cx="515.1" cy="150.2" r="0.83"/><circle cx="600.5" cy="225.3" r="0.36"/><circle cx="594.3" cy="290.8" r="0.56"/><circle cx="601.6" cy="306.4" r="0.67"/><circle cx="601.2" cy="264.7" r="0.38"/><circle cx="610.4" cy="275.3" r="0.57"/><circle cx="592.8" cy="299.2" r="0.88"/><circle cx="589.2" cy="303.4" r="0.76"/><circle cx="593.4" cy="294.2" r="0.93"/><circle cx="608.2" cy="247.9" r="0.51"/><circle cx="597.3" cy="245.9" r="0.72"/><circle cx="598.6" cy="283.0" r="0.69"/><circle cx="582.3" cy="190.1" r="0.60"/><circle cx="598.6" cy="226.5" r="0.64"/><circle cx="597.8" cy="286.0" r="0.97"/><circle cx="611.3" cy="257.6" r="0.69"/><circle cx="615.2" cy="283.9" r="0.68"/><circle cx="543.3" cy="166.1" r="0.54"/><circle cx="597.6" cy="241.7" r="0.78"/><circle cx="542.0" cy="160.0" r="0.45"/><circle cx="497.0" cy="140.8" r="0.85"/><circle cx="523.4" cy="156.1" r="0.94"/><circle cx="609.1" cy="288.9" r="0.55"/><circle cx="605.0" cy="282.1" r="0.55"/><circle cx="547.4" cy="161.6" r="0.81"/><circle cx="588.6" cy="206.3" r="0.78"/><circle cx="527.3" cy="150.2" r="0.55"/><circle cx="581.5" cy="188.3" r="0.61"/><circle cx="606.3" cy="274.9" r="0.92"/><circle cx="606.7" cy="267.7" r="0.81"/><circle cx="494.2" cy="145.6" r="0.46"/><circle cx="607.0" cy="270.4" r="0.41"/><circle cx="525.3" cy="154.4" r="0.97"/><circle cx="596.1" cy="249.1" r="0.64"/><circle cx="617.0" cy="270.6" r="0.40"/><circle cx="609.6" cy="253.4" r="0.51"/><circle cx="598.1" cy="301.6" r="0.46"/><circle cx="584.8" cy="196.1" r="0.47"/><circle cx="605.8" cy="304.8" r="0.67"/><circle cx="553.4" cy="166.3" r="0.54"/><circle cx="500.6" cy="145.6" r="0.64"/><circle cx="599.3" cy="277.0" r="0.63"/><circle cx="514.2" cy="153.6" r="0.56"/><circle cx="606.2" cy="290.8" r="0.98"/><circle cx="613.1" cy="247.6" r="0.88"/><circle cx="540.1" cy="158.7" r="0.47"/><circle cx="603.8" cy="235.0" r="0.42"/><circle cx="560.5" cy="178.5" r="0.72"/><circle cx="603.6" cy="247.9" r="0.92"/><circle cx="585.2" cy="198.7" r="0.85"/><circle cx="576.1" cy="183.4" r="0.48"/><circle cx="593.3" cy="305.5" r="0.36"/><circle cx="550.4" cy="166.4" r="0.90"/><circle cx="604.3" cy="242.2" r="0.38"/><circle cx="575.6" cy="186.6" r="0.53"/><circle cx="601.6" cy="303.7" r="0.79"/><circle cx="534.1" cy="162.5" r="0.35"/><circle cx="601.4" cy="218.3" r="0.64"/><circle cx="510.8" cy="150.3" r="0.55"/><circle cx="588.9" cy="213.9" r="0.91"/><circle cx="593.4" cy="292.6" r="0.57"/><circle cx="582.4" cy="196.5" r="0.41"/><circle cx="594.0" cy="213.0" r="0.70"/><circle cx="500.6" cy="143.5" r="0.44"/><circle cx="560.6" cy="170.6" r="0.96"/><circle cx="607.6" cy="304.8" r="0.76"/><circle cx="600.5" cy="313.6" r="0.54"/><circle cx="607.5" cy="264.6" r="0.92"/></g>
<path d="M594.5,236.4 C596.8,233.1 606.5,233.1 610.0,236.4 C613.5,239.7 614.2,250.0 615.5,256.4 C616.8,262.8 617.7,268.4 618.0,274.5 C618.3,280.6 618.3,287.2 617.3,292.7 C616.3,298.2 613.3,303.7 611.8,307.3 C610.2,310.9 609.3,312.6 608.0,314.5 C606.7,316.4 605.2,317.5 604.0,319.0 C602.8,320.5 601.5,321.8 601.0,323.6 C600.5,325.4 600.7,327.3 601.0,330.0 C601.3,332.7 604.0,338.7 603.0,340.0 C602.0,341.3 597.7,338.8 595.0,338.0 C592.3,337.2 589.8,336.1 587.0,335.0 C584.2,333.9 580.7,332.5 578.0,331.5 C575.3,330.5 572.1,330.4 571.0,329.0 C569.9,327.6 570.3,325.2 571.5,323.0 C572.7,320.8 576.0,317.7 578.0,316.0 C580.0,314.3 582.1,314.1 583.6,312.7 C585.1,311.2 585.9,310.6 587.3,307.3 C588.7,304.0 590.4,298.2 591.8,292.7 C593.2,287.2 594.7,280.6 595.5,274.5 C596.3,268.4 596.6,262.8 596.4,256.4 C596.2,250.0 592.2,239.7 594.5,236.4Z" fill="#c9e6ec"/>
<g fill="#2b8c94" opacity="0.85"><circle cx="601.2" cy="284.0" r="0.53"/><circle cx="610.0" cy="245.7" r="0.42"/><circle cx="590.2" cy="329.9" r="0.49"/><circle cx="600.1" cy="275.5" r="0.63"/><circle cx="586.9" cy="308.0" r="0.55"/><circle cx="598.3" cy="251.1" r="0.33"/><circle cx="615.5" cy="287.0" r="0.40"/><circle cx="615.5" cy="296.4" r="0.66"/><circle cx="612.4" cy="266.0" r="0.48"/><circle cx="612.3" cy="250.4" r="0.68"/><circle cx="610.6" cy="288.6" r="0.40"/><circle cx="613.5" cy="289.0" r="0.65"/><circle cx="588.7" cy="322.8" r="0.75"/><circle cx="607.0" cy="267.5" r="0.31"/><circle cx="606.9" cy="271.8" r="0.39"/><circle cx="590.6" cy="297.4" r="0.44"/><circle cx="587.9" cy="320.1" r="0.55"/><circle cx="598.0" cy="313.5" r="0.48"/><circle cx="610.3" cy="258.2" r="0.74"/><circle cx="598.3" cy="254.8" r="0.78"/><circle cx="599.5" cy="287.9" r="0.54"/><circle cx="598.3" cy="283.3" r="0.36"/><circle cx="591.7" cy="311.6" r="0.66"/><circle cx="604.3" cy="299.8" r="0.31"/><circle cx="606.5" cy="288.5" r="0.65"/><circle cx="595.7" cy="313.5" r="0.62"/><circle cx="596.7" cy="337.6" r="0.48"/><circle cx="595.3" cy="301.2" r="0.78"/><circle cx="607.8" cy="267.0" r="0.72"/><circle cx="599.8" cy="323.7" r="0.64"/><circle cx="609.6" cy="299.1" r="0.48"/><circle cx="595.9" cy="323.2" r="0.43"/><circle cx="576.5" cy="322.3" r="0.44"/><circle cx="584.7" cy="319.7" r="0.55"/><circle cx="584.0" cy="328.4" r="0.51"/><circle cx="608.1" cy="313.8" r="0.42"/><circle cx="609.2" cy="298.2" r="0.71"/><circle cx="588.3" cy="317.3" r="0.70"/><circle cx="589.2" cy="304.2" r="0.69"/><circle cx="608.0" cy="250.6" r="0.61"/><circle cx="603.2" cy="245.4" r="0.53"/><circle cx="599.5" cy="326.0" r="0.63"/><circle cx="601.7" cy="274.3" r="0.71"/><circle cx="609.3" cy="311.5" r="0.60"/><circle cx="604.9" cy="272.5" r="0.38"/><circle cx="591.3" cy="317.4" r="0.35"/><circle cx="597.1" cy="312.7" r="0.71"/><circle cx="597.3" cy="270.3" r="0.74"/><circle cx="605.6" cy="286.0" r="0.58"/><circle cx="573.9" cy="328.3" r="0.59"/><circle cx="599.8" cy="279.4" r="0.77"/><circle cx="598.2" cy="329.3" r="0.76"/><circle cx="610.7" cy="291.1" r="0.45"/><circle cx="603.0" cy="285.7" r="0.36"/><circle cx="610.4" cy="288.2" r="0.79"/><circle cx="596.1" cy="333.5" r="0.44"/><circle cx="601.4" cy="249.3" r="0.50"/><circle cx="615.4" cy="272.4" r="0.65"/><circle cx="600.2" cy="251.2" r="0.64"/><circle cx="598.3" cy="249.6" r="0.78"/><circle cx="591.0" cy="301.7" r="0.78"/><circle cx="601.8" cy="338.5" r="0.48"/><circle cx="609.0" cy="275.2" r="0.61"/><circle cx="605.8" cy="296.9" r="0.43"/><circle cx="610.5" cy="266.4" r="0.73"/><circle cx="592.0" cy="301.6" r="0.55"/><circle cx="601.7" cy="271.7" r="0.59"/><circle cx="605.6" cy="273.8" r="0.60"/><circle cx="604.3" cy="254.4" r="0.37"/><circle cx="609.7" cy="245.6" r="0.70"/></g>
<path d="M604.5,254.5 C605.4,253.8 606.7,254.2 607.5,255.0 C608.3,255.8 608.9,257.5 609.5,259.0 C610.1,260.5 610.5,262.3 611.0,264.0 C611.5,265.7 612.5,267.5 612.7,269.0 C613.0,270.5 613.0,272.1 612.5,273.0 C612.0,273.9 611.0,274.4 610.0,274.5 C609.0,274.6 607.6,274.2 606.5,273.5 C605.4,272.8 604.2,271.9 603.5,270.5 C602.8,269.1 602.2,266.9 602.0,265.0 C601.8,263.1 601.6,260.8 602.0,259.0 C602.4,257.2 603.6,255.2 604.5,254.5Z" style="fill:#5aa7ab" class="ol"/>
<path d="M605.5,278.0 C607.0,277.6 608.4,278.5 609.5,279.5 C610.6,280.5 611.5,282.2 612.0,284.0 C612.5,285.8 612.7,287.8 612.7,290.0 C612.7,292.2 612.5,294.8 612.0,297.0 C611.5,299.2 610.5,301.2 609.5,303.0 C608.5,304.8 607.3,306.6 606.0,308.0 C604.7,309.4 602.9,310.8 601.5,311.5 C600.1,312.2 598.7,312.8 597.5,312.5 C596.3,312.2 595.1,311.2 594.5,310.0 C593.9,308.8 593.5,306.8 593.6,305.0 C593.7,303.2 594.3,300.8 595.0,299.0 C595.7,297.2 597.2,295.8 598.0,294.0 C598.8,292.2 599.1,290.0 599.5,288.0 C599.9,286.0 599.5,283.7 600.5,282.0 C601.5,280.3 604.0,278.4 605.5,278.0Z" style="fill:#5aa7ab" class="ol"/>
<path d="M606,281 C610,283 611,290 610,297 C608.5,303 604,308 599,310 C604,304 606.5,297 606.5,290 C606.5,286 606,283 606,281Z" fill="#d3ebee" opacity="0.9"/>
<path d="M604,262 C607,264 610,268 611,272 C608,272.5 605,270 604,262Z" fill="#d3ebee" opacity="0.9"/>
<path d="M511.4,317.0 C513.6,315.9 520.2,318.8 525.0,319.5 C529.8,320.2 535.5,320.8 540.0,321.0 C544.5,321.2 548.7,321.3 552.0,321.0 C555.3,320.7 557.7,318.8 560.0,319.0 C562.3,319.2 564.0,320.8 566.0,322.0 C568.0,323.2 570.8,324.7 572.0,326.0 C573.2,327.3 575.0,329.4 573.0,330.0 C571.0,330.6 565.5,329.3 560.0,329.5 C554.5,329.7 545.8,330.6 540.0,331.0 C534.2,331.4 529.1,331.8 525.0,332.0 C520.9,332.2 517.7,333.5 515.5,332.5 C513.3,331.5 512.7,328.6 512.0,326.0 C511.3,323.4 509.2,318.1 511.4,317.0Z" style="fill:#2b95e3" class="ol"/>
<g fill="#0e5fa8" opacity="0.9"><circle cx="553.1" cy="329.2" r="0.51"/><circle cx="542.9" cy="323.1" r="0.70"/><circle cx="527.5" cy="321.0" r="0.43"/><circle cx="531.5" cy="321.8" r="0.53"/><circle cx="523.9" cy="325.4" r="0.46"/><circle cx="556.6" cy="329.4" r="0.47"/><circle cx="517.5" cy="328.3" r="0.60"/><circle cx="535.8" cy="327.2" r="0.42"/><circle cx="525.7" cy="325.5" r="0.59"/><circle cx="560.8" cy="323.0" r="0.36"/><circle cx="539.4" cy="324.4" r="0.35"/><circle cx="541.0" cy="324.8" r="0.45"/><circle cx="513.0" cy="322.8" r="0.35"/><circle cx="554.8" cy="321.1" r="0.35"/><circle cx="528.9" cy="323.3" r="0.59"/><circle cx="539.8" cy="321.7" r="0.57"/><circle cx="514.2" cy="320.2" r="0.57"/><circle cx="515.5" cy="324.8" r="0.56"/><circle cx="512.4" cy="323.8" r="0.41"/><circle cx="516.6" cy="319.7" r="0.41"/><circle cx="551.3" cy="326.8" r="0.30"/><circle cx="535.1" cy="327.1" r="0.68"/><circle cx="568.6" cy="325.8" r="0.54"/><circle cx="559.1" cy="327.1" r="0.38"/><circle cx="523.5" cy="325.1" r="0.60"/><circle cx="519.8" cy="322.0" r="0.51"/><circle cx="527.5" cy="330.7" r="0.59"/><circle cx="570.3" cy="326.9" r="0.57"/></g>
<path d="M513,329 C530,328.5 550,327 571,328.5" stroke="#a9dcf8" stroke-width="2.2" fill="none" filter="url(#b1)"/>
<path d="M513,325.8 C530,326 550,324.5 570,325.5" class="ol" stroke-width="0.7"/>
<path d="M540.0,326.0 C539.8,325.2 544.0,322.8 546.0,321.0 C548.0,319.2 550.0,317.2 552.0,315.0 C554.0,312.8 556.2,310.0 558.0,308.0 C559.8,306.0 561.7,303.3 563.0,303.0 C564.3,302.7 566.2,304.5 566.0,306.0 C565.8,307.5 563.5,310.0 562.0,312.0 C560.5,314.0 558.7,316.3 557.0,318.0 C555.3,319.7 553.7,320.7 552.0,322.0 C550.3,323.3 549.0,325.3 547.0,326.0 C545.0,326.7 540.2,326.8 540.0,326.0Z" style="fill:#3b9fe6" class="ol" stroke-width="0.8"/>
<path d="M550.0,326.0 C549.0,324.3 554.2,320.8 556.0,318.0 C557.8,315.2 559.3,312.0 561.0,309.0 C562.7,306.0 564.2,302.7 566.0,300.0 C567.8,297.3 570.1,293.0 571.8,292.7 C573.5,292.4 574.7,296.1 576.0,298.0 C577.3,299.9 578.5,302.2 579.5,304.0 C580.5,305.8 581.1,307.6 581.8,309.0 C582.5,310.4 584.2,311.5 583.6,312.7 C583.0,313.9 579.8,314.7 578.0,316.0 C576.2,317.3 573.8,318.7 572.7,320.5 C571.6,322.3 573.3,325.8 571.5,327.0 C569.7,328.2 565.6,328.2 562.0,328.0 C558.4,327.8 551.0,327.7 550.0,326.0Z" style="fill:#8fcaf0" class="ol"/>
<g fill="#1d78c0" opacity="0.9"><circle cx="565.6" cy="305.9" r="0.37"/><circle cx="566.9" cy="324.4" r="0.34"/><circle cx="568.6" cy="314.5" r="0.32"/><circle cx="562.7" cy="317.5" r="0.53"/><circle cx="574.4" cy="298.2" r="0.42"/><circle cx="581.0" cy="313.5" r="0.69"/><circle cx="562.9" cy="319.0" r="0.35"/><circle cx="559.8" cy="316.5" r="0.66"/><circle cx="559.4" cy="321.3" r="0.40"/><circle cx="564.3" cy="324.7" r="0.36"/><circle cx="570.1" cy="297.0" r="0.59"/><circle cx="580.9" cy="307.5" r="0.50"/><circle cx="571.5" cy="296.0" r="0.59"/><circle cx="568.7" cy="314.1" r="0.37"/><circle cx="572.7" cy="313.5" r="0.69"/><circle cx="579.0" cy="313.3" r="0.53"/><circle cx="563.5" cy="327.5" r="0.59"/><circle cx="571.2" cy="296.3" r="0.69"/><circle cx="577.1" cy="310.3" r="0.65"/><circle cx="558.3" cy="318.7" r="0.51"/><circle cx="557.8" cy="326.7" r="0.50"/><circle cx="562.5" cy="323.1" r="0.48"/><circle cx="572.4" cy="298.7" r="0.72"/><circle cx="563.1" cy="314.3" r="0.78"/><circle cx="568.9" cy="297.5" r="0.34"/><circle cx="568.7" cy="317.3" r="0.33"/><circle cx="565.2" cy="317.5" r="0.68"/><circle cx="562.9" cy="324.0" r="0.38"/><circle cx="579.6" cy="310.2" r="0.35"/><circle cx="568.8" cy="306.4" r="0.39"/><circle cx="566.2" cy="326.1" r="0.57"/><circle cx="568.3" cy="311.2" r="0.57"/><circle cx="571.6" cy="311.8" r="0.45"/><circle cx="574.4" cy="318.1" r="0.35"/><circle cx="573.5" cy="308.7" r="0.55"/><circle cx="571.4" cy="294.6" r="0.60"/><circle cx="562.5" cy="323.7" r="0.42"/><circle cx="571.0" cy="323.6" r="0.32"/><circle cx="570.1" cy="314.3" r="0.64"/><circle cx="561.9" cy="309.3" r="0.57"/></g>
<path d="M515.0,332.5 C517.8,330.2 523.8,331.8 528.0,331.5 C532.2,331.2 535.5,331.4 540.0,331.0 C544.5,330.6 550.2,329.6 555.0,329.0 C559.8,328.4 565.2,327.2 569.0,327.3 C572.8,327.4 575.0,328.4 578.0,329.5 C581.0,330.6 584.5,332.5 587.3,333.6 C590.1,334.7 592.6,335.1 595.0,336.0 C597.4,336.9 599.5,337.8 601.8,339.0 C604.1,340.2 606.6,341.6 609.0,343.0 C611.4,344.4 615.5,345.5 616.4,347.3 C617.3,349.1 615.2,351.8 614.5,353.6 C613.8,355.4 612.9,356.5 612.0,358.0 C611.1,359.5 609.9,361.0 609.0,362.7 C608.1,364.4 607.2,366.2 606.5,368.0 C605.8,369.8 605.1,371.9 604.5,373.6 C603.9,375.3 603.5,376.5 603.0,378.0 C602.5,379.5 603.1,381.4 601.8,382.7 C600.5,383.9 597.4,384.6 595.0,385.5 C592.6,386.4 590.1,387.1 587.3,388.2 C584.5,389.3 581.3,390.8 578.0,392.0 C574.7,393.2 571.5,395.3 567.3,395.5 C563.1,395.7 557.5,393.9 553.0,393.0 C548.5,392.1 545.2,391.8 540.0,390.0 C534.8,388.2 527.4,384.7 522.0,382.0 C516.6,379.3 509.5,378.0 507.5,374.0 C505.5,370.0 509.4,362.8 510.0,358.0 C510.6,353.2 510.2,349.2 511.0,345.0 C511.8,340.8 512.2,334.8 515.0,332.5Z" fill="#3aa3ea"/>
<clipPath id="cPP"><path d="M515.0,332.5 C517.8,330.2 523.8,331.8 528.0,331.5 C532.2,331.2 535.5,331.4 540.0,331.0 C544.5,330.6 550.2,329.6 555.0,329.0 C559.8,328.4 565.2,327.2 569.0,327.3 C572.8,327.4 575.0,328.4 578.0,329.5 C581.0,330.6 584.5,332.5 587.3,333.6 C590.1,334.7 592.6,335.1 595.0,336.0 C597.4,336.9 599.5,337.8 601.8,339.0 C604.1,340.2 606.6,341.6 609.0,343.0 C611.4,344.4 615.5,345.5 616.4,347.3 C617.3,349.1 615.2,351.8 614.5,353.6 C613.8,355.4 612.9,356.5 612.0,358.0 C611.1,359.5 609.9,361.0 609.0,362.7 C608.1,364.4 607.2,366.2 606.5,368.0 C605.8,369.8 605.1,371.9 604.5,373.6 C603.9,375.3 603.5,376.5 603.0,378.0 C602.5,379.5 603.1,381.4 601.8,382.7 C600.5,383.9 597.4,384.6 595.0,385.5 C592.6,386.4 590.1,387.1 587.3,388.2 C584.5,389.3 581.3,390.8 578.0,392.0 C574.7,393.2 571.5,395.3 567.3,395.5 C563.1,395.7 557.5,393.9 553.0,393.0 C548.5,392.1 545.2,391.8 540.0,390.0 C534.8,388.2 527.4,384.7 522.0,382.0 C516.6,379.3 509.5,378.0 507.5,374.0 C505.5,370.0 509.4,362.8 510.0,358.0 C510.6,353.2 510.2,349.2 511.0,345.0 C511.8,340.8 512.2,334.8 515.0,332.5Z"/></clipPath>
<g clip-path="url(#cPP)">
<path d="M520,336 C550,332 580,332 612,345" stroke="#1f86d6" stroke-width="5" fill="none" filter="url(#b2)"/>
<path d="M525,352 C545,345 570,345 590,352" stroke="#6cc0f3" stroke-width="12" fill="none" filter="url(#b4)" opacity="0.8"/>
<path d="M515,378 C540,392 570,398 600,384" stroke="#2489d8" stroke-width="6" fill="none" filter="url(#b2)"/>
</g>
<g clip-path="url(#cPP)" stroke="#8fd0f7" stroke-width="0.8" opacity="0.7" fill="none"><path d="M548,331.4 l-1.5,12"/><path d="M553,332.0 l-1.5,12"/><path d="M558,332.6 l-1.5,12"/><path d="M563,333.2 l-1.5,12"/><path d="M568,333.8 l-1.5,12"/><path d="M573,334.4 l-1.5,12"/><path d="M578,335.0 l-1.5,12"/><path d="M583,335.6 l-1.5,12"/><path d="M588,336.2 l-1.5,12"/><path d="M593,336.8 l-1.5,12"/><path d="M598,337.4 l-1.5,12"/><path d="M603,338.0 l-1.5,12"/></g>
<path d="M515.0,332.5 C517.8,330.2 523.8,331.8 528.0,331.5 C532.2,331.2 535.5,331.4 540.0,331.0 C544.5,330.6 550.2,329.6 555.0,329.0 C559.8,328.4 565.2,327.2 569.0,327.3 C572.8,327.4 575.0,328.4 578.0,329.5 C581.0,330.6 584.5,332.5 587.3,333.6 C590.1,334.7 592.6,335.1 595.0,336.0 C597.4,336.9 599.5,337.8 601.8,339.0 C604.1,340.2 606.6,341.6 609.0,343.0 C611.4,344.4 615.5,345.5 616.4,347.3 C617.3,349.1 615.2,351.8 614.5,353.6 C613.8,355.4 612.9,356.5 612.0,358.0 C611.1,359.5 609.9,361.0 609.0,362.7 C608.1,364.4 607.2,366.2 606.5,368.0 C605.8,369.8 605.1,371.9 604.5,373.6 C603.9,375.3 603.5,376.5 603.0,378.0 C602.5,379.5 603.1,381.4 601.8,382.7 C600.5,383.9 597.4,384.6 595.0,385.5 C592.6,386.4 590.1,387.1 587.3,388.2 C584.5,389.3 581.3,390.8 578.0,392.0 C574.7,393.2 571.5,395.3 567.3,395.5 C563.1,395.7 557.5,393.9 553.0,393.0 C548.5,392.1 545.2,391.8 540.0,390.0 C534.8,388.2 527.4,384.7 522.0,382.0 C516.6,379.3 509.5,378.0 507.5,374.0 C505.5,370.0 509.4,362.8 510.0,358.0 C510.6,353.2 510.2,349.2 511.0,345.0 C511.8,340.8 512.2,334.8 515.0,332.5Z" class="ol"/>
<path d="M616.4,347.3 C617.5,346.7 620.6,349.1 623.0,350.0 C625.4,350.9 628.7,351.8 631.0,352.7 C633.3,353.6 635.2,354.7 637.0,355.5 C638.8,356.3 641.9,356.9 641.8,357.3 C641.7,357.8 637.6,357.6 636.4,358.2 C635.2,358.8 635.1,359.9 634.5,361.0 C633.9,362.1 633.3,363.3 632.7,364.5 C632.1,365.7 631.5,367.0 631.0,368.0 C630.5,369.0 630.7,370.7 630.0,370.5 C629.3,370.3 628.1,368.3 627.0,367.0 C625.9,365.7 624.8,364.2 623.6,362.7 C622.4,361.2 621.2,359.5 620.0,358.0 C618.8,356.5 617.0,355.4 616.4,353.6 C615.8,351.8 615.3,347.9 616.4,347.3Z" style="fill:#b9d35a" class="ol" stroke-width="0.8"/>
<path d="M601.8,322.7 C602.5,321.6 603.6,320.4 605.0,319.5 C606.4,318.6 608.5,317.0 610.0,317.3 C611.5,317.6 612.3,319.4 614.0,321.5 C615.7,323.6 618.0,327.5 620.0,330.0 C622.0,332.5 623.9,334.4 626.0,336.5 C628.1,338.6 630.6,340.7 632.7,342.7 C634.8,344.7 636.7,346.7 638.5,348.5 C640.3,350.3 642.8,352.4 643.6,353.6 C644.4,354.9 643.8,355.4 643.5,356.0 C643.2,356.6 642.9,357.4 641.8,357.3 C640.7,357.2 638.8,356.3 637.0,355.5 C635.2,354.7 633.3,353.6 631.0,352.7 C628.7,351.8 625.4,350.9 623.0,350.0 C620.6,349.1 618.1,348.6 616.4,347.3 C614.6,346.1 613.7,344.2 612.5,342.5 C611.3,340.8 610.2,338.8 609.0,337.3 C607.8,335.8 606.2,334.7 605.0,333.5 C603.8,332.3 602.5,331.2 601.8,330.0 C601.1,328.8 601.0,327.2 601.0,326.0 C601.0,324.8 601.1,323.8 601.8,322.7Z" style="fill:#9dc13a" class="ol"/>
<g fill="#55751a" opacity="0.9"><circle cx="635.6" cy="350.2" r="0.63"/><circle cx="615.0" cy="327.3" r="0.78"/><circle cx="617.3" cy="328.6" r="0.64"/><circle cx="620.5" cy="344.7" r="0.63"/><circle cx="642.9" cy="356.1" r="0.61"/><circle cx="613.9" cy="331.9" r="0.75"/><circle cx="614.4" cy="339.3" r="0.52"/><circle cx="610.6" cy="333.8" r="0.32"/><circle cx="612.7" cy="342.0" r="0.39"/><circle cx="636.0" cy="348.4" r="0.54"/><circle cx="615.8" cy="334.7" r="0.30"/><circle cx="620.1" cy="340.6" r="0.50"/><circle cx="611.3" cy="338.3" r="0.76"/><circle cx="623.2" cy="341.4" r="0.33"/><circle cx="621.8" cy="335.8" r="0.50"/><circle cx="618.9" cy="340.7" r="0.57"/><circle cx="620.5" cy="334.8" r="0.55"/><circle cx="620.0" cy="346.3" r="0.75"/><circle cx="607.5" cy="326.8" r="0.61"/><circle cx="630.3" cy="343.0" r="0.59"/><circle cx="631.6" cy="352.8" r="0.32"/><circle cx="642.0" cy="356.6" r="0.44"/><circle cx="609.2" cy="331.3" r="0.34"/><circle cx="609.3" cy="325.6" r="0.35"/><circle cx="620.8" cy="347.0" r="0.65"/><circle cx="623.3" cy="334.2" r="0.63"/><circle cx="616.5" cy="342.4" r="0.61"/><circle cx="638.3" cy="352.2" r="0.63"/><circle cx="611.9" cy="335.6" r="0.68"/><circle cx="619.8" cy="331.0" r="0.66"/></g>
<path d="M616.4,347.3 C616.7,347.3 615.8,351.8 616.4,353.6 C617.0,355.4 618.8,356.5 620.0,358.0 C621.2,359.5 622.4,361.2 623.6,362.7 C624.8,364.2 625.9,365.7 627.0,367.0 C628.1,368.3 630.0,368.8 630.0,370.5 C630.0,372.2 628.2,375.6 627.3,377.3 C626.4,379.1 625.4,379.8 624.5,381.0 C623.6,382.2 622.6,383.3 621.8,384.5 C621.0,385.7 620.2,386.8 619.5,388.0 C618.8,389.2 617.9,390.6 617.3,391.8 C616.7,393.1 616.3,394.3 615.8,395.5 C615.3,396.7 614.9,397.2 614.5,399.0 C614.1,400.8 613.6,404.0 613.6,406.4 C613.6,408.8 613.9,412.0 614.5,413.6 C615.1,415.2 616.1,415.3 617.0,416.0 C617.9,416.7 618.3,417.2 620.0,418.0 C621.7,418.8 628.5,421.6 627.3,421.0 C626.1,420.4 617.9,416.8 612.7,414.5 C607.5,412.2 601.1,409.2 596.0,407.0 C590.9,404.8 586.0,403.0 581.8,401.5 C577.6,400.0 573.4,399.0 571.0,398.0 C568.6,397.0 566.1,396.5 567.3,395.5 C568.5,394.5 574.7,393.2 578.0,392.0 C581.3,390.8 584.5,389.3 587.3,388.2 C590.1,387.1 592.6,386.4 595.0,385.5 C597.4,384.6 600.5,383.9 601.8,382.7 C603.1,381.4 602.5,379.5 603.0,378.0 C603.5,376.5 603.9,375.3 604.5,373.6 C605.1,371.9 605.8,369.8 606.5,368.0 C607.2,366.2 608.1,364.4 609.0,362.7 C609.9,361.0 611.1,359.5 612.0,358.0 C612.9,356.5 613.8,355.4 614.5,353.6 C615.2,351.8 616.1,347.3 616.4,347.3Z" style="fill:#e98a8a" class="ol"/>
<clipPath id="cMxU"><path d="M616.4,347.3 C616.7,347.3 615.8,351.8 616.4,353.6 C617.0,355.4 618.8,356.5 620.0,358.0 C621.2,359.5 622.4,361.2 623.6,362.7 C624.8,364.2 625.9,365.7 627.0,367.0 C628.1,368.3 630.0,368.8 630.0,370.5 C630.0,372.2 628.2,375.6 627.3,377.3 C626.4,379.1 625.4,379.8 624.5,381.0 C623.6,382.2 622.6,383.3 621.8,384.5 C621.0,385.7 620.2,386.8 619.5,388.0 C618.8,389.2 617.9,390.6 617.3,391.8 C616.7,393.1 616.3,394.3 615.8,395.5 C615.3,396.7 614.9,397.2 614.5,399.0 C614.1,400.8 613.6,404.0 613.6,406.4 C613.6,408.8 613.9,412.0 614.5,413.6 C615.1,415.2 616.1,415.3 617.0,416.0 C617.9,416.7 618.3,417.2 620.0,418.0 C621.7,418.8 628.5,421.6 627.3,421.0 C626.1,420.4 617.9,416.8 612.7,414.5 C607.5,412.2 601.1,409.2 596.0,407.0 C590.9,404.8 586.0,403.0 581.8,401.5 C577.6,400.0 573.4,399.0 571.0,398.0 C568.6,397.0 566.1,396.5 567.3,395.5 C568.5,394.5 574.7,393.2 578.0,392.0 C581.3,390.8 584.5,389.3 587.3,388.2 C590.1,387.1 592.6,386.4 595.0,385.5 C597.4,384.6 600.5,383.9 601.8,382.7 C603.1,381.4 602.5,379.5 603.0,378.0 C603.5,376.5 603.9,375.3 604.5,373.6 C605.1,371.9 605.8,369.8 606.5,368.0 C607.2,366.2 608.1,364.4 609.0,362.7 C609.9,361.0 611.1,359.5 612.0,358.0 C612.9,356.5 613.8,355.4 614.5,353.6 C615.2,351.8 616.1,347.3 616.4,347.3Z"/></clipPath>
<g clip-path="url(#cMxU)"><path d="M612,356 C608,368 604,380 598,390 C594,398 600,404 612,410" stroke="#f4b2ad" stroke-width="7" fill="none" filter="url(#b2)"/><path d="M628,372 C622,384 617,394 616,404 C616,410 620,416 626,420" stroke="#d96a6c" stroke-width="5" fill="none" filter="url(#b2)"/></g>
<path d="M616.4,347.3 C616.7,347.3 615.8,351.8 616.4,353.6 C617.0,355.4 618.8,356.5 620.0,358.0 C621.2,359.5 622.4,361.2 623.6,362.7 C624.8,364.2 625.9,365.7 627.0,367.0 C628.1,368.3 630.0,368.8 630.0,370.5 C630.0,372.2 628.2,375.6 627.3,377.3 C626.4,379.1 625.4,379.8 624.5,381.0 C623.6,382.2 622.6,383.3 621.8,384.5 C621.0,385.7 620.2,386.8 619.5,388.0 C618.8,389.2 617.9,390.6 617.3,391.8 C616.7,393.1 616.3,394.3 615.8,395.5 C615.3,396.7 614.9,397.2 614.5,399.0 C614.1,400.8 613.6,404.0 613.6,406.4 C613.6,408.8 613.9,412.0 614.5,413.6 C615.1,415.2 616.1,415.3 617.0,416.0 C617.9,416.7 618.3,417.2 620.0,418.0 C621.7,418.8 628.5,421.6 627.3,421.0 C626.1,420.4 617.9,416.8 612.7,414.5 C607.5,412.2 601.1,409.2 596.0,407.0 C590.9,404.8 586.0,403.0 581.8,401.5 C577.6,400.0 573.4,399.0 571.0,398.0 C568.6,397.0 566.1,396.5 567.3,395.5 C568.5,394.5 574.7,393.2 578.0,392.0 C581.3,390.8 584.5,389.3 587.3,388.2 C590.1,387.1 592.6,386.4 595.0,385.5 C597.4,384.6 600.5,383.9 601.8,382.7 C603.1,381.4 602.5,379.5 603.0,378.0 C603.5,376.5 603.9,375.3 604.5,373.6 C605.1,371.9 605.8,369.8 606.5,368.0 C607.2,366.2 608.1,364.4 609.0,362.7 C609.9,361.0 611.1,359.5 612.0,358.0 C612.9,356.5 613.8,355.4 614.5,353.6 C615.2,351.8 616.1,347.3 616.4,347.3Z" class="ol"/>
<path d="M574.5,397.3 C574.7,396.3 577.9,394.4 580.0,393.0 C582.1,391.6 584.6,390.2 587.0,389.0 C589.4,387.8 592.3,386.6 594.5,385.8 C596.7,385.1 598.1,384.1 600.0,384.5 C601.9,384.9 604.3,386.5 606.0,388.0 C607.7,389.5 610.0,392.2 610.0,393.6 C610.0,395.0 607.7,395.8 606.0,396.5 C604.3,397.2 602.3,397.6 600.0,398.0 C597.7,398.4 594.4,398.8 592.0,399.0 C589.6,399.2 587.7,399.2 585.5,399.2 C583.3,399.2 580.8,399.1 579.0,398.8 C577.2,398.5 574.3,398.3 574.5,397.3Z" fill="#a34fb3"/>
<path d="M580,394 C590,390 600,388 609,388" stroke="#7d3a9a" stroke-width="2" fill="none" filter="url(#b1)"/>
<path d="M452.5,394.3 C452.8,392.6 453.9,391.1 455.0,390.0 C456.1,388.9 458.2,388.1 459.3,387.5 C460.4,386.9 460.7,386.1 461.6,386.4 C462.6,386.7 463.7,388.4 465.0,389.5 C466.3,390.6 468.0,392.3 469.5,393.2 C471.0,394.1 472.5,394.6 474.0,395.0 C475.5,395.4 477.1,395.5 478.6,395.5 C480.1,395.5 481.5,395.4 483.0,395.0 C484.5,394.6 485.2,392.7 487.7,393.2 C490.2,393.7 494.6,395.7 498.0,398.0 C501.4,400.3 505.2,404.0 508.0,407.0 C510.8,410.0 513.2,413.0 515.0,416.0 C516.8,419.0 518.1,421.8 519.0,425.0 C519.9,428.2 520.1,431.7 520.5,435.0 C520.9,438.3 520.9,441.5 521.5,445.0 C522.1,448.5 523.0,452.2 524.0,456.0 C525.0,459.8 525.7,465.3 527.5,468.0 C529.3,470.7 532.1,470.7 535.0,472.0 C537.9,473.3 540.5,474.5 545.0,476.0 C549.5,477.5 556.7,479.5 562.0,481.0 C567.3,482.5 572.2,483.5 577.0,485.0 C581.8,486.5 586.8,488.3 591.0,490.0 C595.2,491.7 598.3,493.7 602.0,495.0 C605.7,496.3 609.9,496.7 613.0,498.0 C616.1,499.3 618.6,500.7 620.5,503.0 C622.4,505.3 623.5,508.8 624.5,512.0 C625.5,515.2 626.2,518.5 626.5,522.0 C626.8,525.5 626.4,529.7 626.0,533.0 C625.6,536.3 624.9,539.5 624.0,542.0 C623.1,544.5 622.3,547.1 620.5,548.0 C618.7,548.9 615.4,548.2 613.0,547.5 C610.6,546.8 609.0,545.5 606.0,544.0 C603.0,542.5 600.2,540.7 595.0,538.5 C589.8,536.3 582.1,533.5 575.0,531.0 C567.9,528.5 560.0,525.8 552.5,523.5 C545.0,521.2 536.2,518.8 530.0,517.0 C523.8,515.2 520.0,514.3 515.0,513.0 C510.0,511.7 504.2,510.2 500.0,509.0 C495.8,507.8 492.5,507.0 490.0,506.0 C487.5,505.0 486.5,505.3 485.0,503.0 C483.5,500.7 482.5,496.2 481.0,492.0 C479.5,487.8 477.7,483.0 476.0,478.0 C474.3,473.0 472.3,468.2 471.0,462.0 C469.7,455.8 469.8,447.0 468.4,441.0 C467.0,435.0 464.8,431.3 462.7,426.0 C460.6,420.7 457.6,413.3 456.0,409.0 C454.4,404.7 453.6,402.4 453.0,400.0 C452.4,397.6 452.2,396.0 452.5,394.3Z" fill="#7491cf"/>
<clipPath id="cMan"><path d="M452.5,394.3 C452.8,392.6 453.9,391.1 455.0,390.0 C456.1,388.9 458.2,388.1 459.3,387.5 C460.4,386.9 460.7,386.1 461.6,386.4 C462.6,386.7 463.7,388.4 465.0,389.5 C466.3,390.6 468.0,392.3 469.5,393.2 C471.0,394.1 472.5,394.6 474.0,395.0 C475.5,395.4 477.1,395.5 478.6,395.5 C480.1,395.5 481.5,395.4 483.0,395.0 C484.5,394.6 485.2,392.7 487.7,393.2 C490.2,393.7 494.6,395.7 498.0,398.0 C501.4,400.3 505.2,404.0 508.0,407.0 C510.8,410.0 513.2,413.0 515.0,416.0 C516.8,419.0 518.1,421.8 519.0,425.0 C519.9,428.2 520.1,431.7 520.5,435.0 C520.9,438.3 520.9,441.5 521.5,445.0 C522.1,448.5 523.0,452.2 524.0,456.0 C525.0,459.8 525.7,465.3 527.5,468.0 C529.3,470.7 532.1,470.7 535.0,472.0 C537.9,473.3 540.5,474.5 545.0,476.0 C549.5,477.5 556.7,479.5 562.0,481.0 C567.3,482.5 572.2,483.5 577.0,485.0 C581.8,486.5 586.8,488.3 591.0,490.0 C595.2,491.7 598.3,493.7 602.0,495.0 C605.7,496.3 609.9,496.7 613.0,498.0 C616.1,499.3 618.6,500.7 620.5,503.0 C622.4,505.3 623.5,508.8 624.5,512.0 C625.5,515.2 626.2,518.5 626.5,522.0 C626.8,525.5 626.4,529.7 626.0,533.0 C625.6,536.3 624.9,539.5 624.0,542.0 C623.1,544.5 622.3,547.1 620.5,548.0 C618.7,548.9 615.4,548.2 613.0,547.5 C610.6,546.8 609.0,545.5 606.0,544.0 C603.0,542.5 600.2,540.7 595.0,538.5 C589.8,536.3 582.1,533.5 575.0,531.0 C567.9,528.5 560.0,525.8 552.5,523.5 C545.0,521.2 536.2,518.8 530.0,517.0 C523.8,515.2 520.0,514.3 515.0,513.0 C510.0,511.7 504.2,510.2 500.0,509.0 C495.8,507.8 492.5,507.0 490.0,506.0 C487.5,505.0 486.5,505.3 485.0,503.0 C483.5,500.7 482.5,496.2 481.0,492.0 C479.5,487.8 477.7,483.0 476.0,478.0 C474.3,473.0 472.3,468.2 471.0,462.0 C469.7,455.8 469.8,447.0 468.4,441.0 C467.0,435.0 464.8,431.3 462.7,426.0 C460.6,420.7 457.6,413.3 456.0,409.0 C454.4,404.7 453.6,402.4 453.0,400.0 C452.4,397.6 452.2,396.0 452.5,394.3Z"/></clipPath>
<g clip-path="url(#cMan)">
<path d="M470,410 C478,440 486,470 500,495 C530,505 570,512 600,525" stroke="#b3c5e8" stroke-width="15" fill="none" filter="url(#b4)" opacity="0.95"/>
<path d="M454,400 C460,440 472,480 488,504 C520,514 570,528 610,545" stroke="#4a68ae" stroke-width="5" fill="none" filter="url(#b2)" opacity="0.85"/>
<path d="M500,440 C510,455 520,470 535,478 C560,486 590,492 612,500" stroke="#4f6fb6" stroke-width="6" fill="none" filter="url(#b2)" opacity="0.8"/>
<path d="M480,436 C485,440 488,444 489,450" stroke="#2c478c" stroke-width="4" fill="none" filter="url(#b2)"/>
<path d="M482.5,440 C485,442 486.5,444.5 487,447.5" stroke="#1b2f66" stroke-width="1.8" fill="none" filter="url(#b1)"/>
</g>
<path d="M452.5,394.3 C452.8,392.6 453.9,391.1 455.0,390.0 C456.1,388.9 458.2,388.1 459.3,387.5 C460.4,386.9 460.7,386.1 461.6,386.4 C462.6,386.7 463.7,388.4 465.0,389.5 C466.3,390.6 468.0,392.3 469.5,393.2 C471.0,394.1 472.5,394.6 474.0,395.0 C475.5,395.4 477.1,395.5 478.6,395.5 C480.1,395.5 481.5,395.4 483.0,395.0 C484.5,394.6 485.2,392.7 487.7,393.2 C490.2,393.7 494.6,395.7 498.0,398.0 C501.4,400.3 505.2,404.0 508.0,407.0 C510.8,410.0 513.2,413.0 515.0,416.0 C516.8,419.0 518.1,421.8 519.0,425.0 C519.9,428.2 520.1,431.7 520.5,435.0 C520.9,438.3 520.9,441.5 521.5,445.0 C522.1,448.5 523.0,452.2 524.0,456.0 C525.0,459.8 525.7,465.3 527.5,468.0 C529.3,470.7 532.1,470.7 535.0,472.0 C537.9,473.3 540.5,474.5 545.0,476.0 C549.5,477.5 556.7,479.5 562.0,481.0 C567.3,482.5 572.2,483.5 577.0,485.0 C581.8,486.5 586.8,488.3 591.0,490.0 C595.2,491.7 598.3,493.7 602.0,495.0 C605.7,496.3 609.9,496.7 613.0,498.0 C616.1,499.3 618.6,500.7 620.5,503.0 C622.4,505.3 623.5,508.8 624.5,512.0 C625.5,515.2 626.2,518.5 626.5,522.0 C626.8,525.5 626.4,529.7 626.0,533.0 C625.6,536.3 624.9,539.5 624.0,542.0 C623.1,544.5 622.3,547.1 620.5,548.0 C618.7,548.9 615.4,548.2 613.0,547.5 C610.6,546.8 609.0,545.5 606.0,544.0 C603.0,542.5 600.2,540.7 595.0,538.5 C589.8,536.3 582.1,533.5 575.0,531.0 C567.9,528.5 560.0,525.8 552.5,523.5 C545.0,521.2 536.2,518.8 530.0,517.0 C523.8,515.2 520.0,514.3 515.0,513.0 C510.0,511.7 504.2,510.2 500.0,509.0 C495.8,507.8 492.5,507.0 490.0,506.0 C487.5,505.0 486.5,505.3 485.0,503.0 C483.5,500.7 482.5,496.2 481.0,492.0 C479.5,487.8 477.7,483.0 476.0,478.0 C474.3,473.0 472.3,468.2 471.0,462.0 C469.7,455.8 469.8,447.0 468.4,441.0 C467.0,435.0 464.8,431.3 462.7,426.0 C460.6,420.7 457.6,413.3 456.0,409.0 C454.4,404.7 453.6,402.4 453.0,400.0 C452.4,397.6 452.2,396.0 452.5,394.3Z" class="ol" stroke="#1c2a55" stroke-width="1.4"/>
<path d="M467.7,384.0 C467.4,382.7 474.8,381.5 478.0,380.5 C481.2,379.5 483.9,378.9 487.0,378.0 C490.1,377.1 493.5,376.1 496.4,375.0 C499.3,373.9 501.9,371.2 504.5,371.5 C507.1,371.8 509.1,374.8 512.0,376.5 C514.9,378.2 517.3,379.7 522.0,382.0 C526.7,384.3 534.8,388.6 540.0,390.5 C545.2,392.4 548.5,392.5 553.0,393.5 C557.5,394.5 562.5,395.2 567.3,396.5 C572.1,397.8 577.0,399.3 581.8,401.0 C586.6,402.7 590.9,404.7 596.0,406.8 C601.1,408.9 608.7,411.9 612.7,413.6 C616.7,415.3 617.7,415.9 620.0,417.0 C622.3,418.1 627.0,419.4 626.5,420.5 C626.0,421.6 620.6,422.5 617.0,423.5 C613.4,424.5 608.4,425.6 605.0,426.5 C601.6,427.4 599.7,428.4 596.4,428.6 C593.1,428.9 588.6,428.3 585.0,428.0 C581.4,427.7 580.0,427.7 575.0,427.0 C570.0,426.3 561.8,425.1 555.0,424.0 C548.2,422.9 539.8,422.0 534.0,420.3 C528.2,418.6 524.8,416.5 520.0,414.0 C515.2,411.5 508.8,408.1 505.0,405.5 C501.2,402.9 499.5,400.6 497.0,398.5 C494.5,396.4 492.8,394.7 490.0,393.0 C487.2,391.3 483.7,390.0 480.0,388.5 C476.3,387.0 468.0,385.3 467.7,384.0Z" style="fill:#12a58d" class="ol"/>
<clipPath id="cVo"><path d="M467.7,384.0 C467.4,382.7 474.8,381.5 478.0,380.5 C481.2,379.5 483.9,378.9 487.0,378.0 C490.1,377.1 493.5,376.1 496.4,375.0 C499.3,373.9 501.9,371.2 504.5,371.5 C507.1,371.8 509.1,374.8 512.0,376.5 C514.9,378.2 517.3,379.7 522.0,382.0 C526.7,384.3 534.8,388.6 540.0,390.5 C545.2,392.4 548.5,392.5 553.0,393.5 C557.5,394.5 562.5,395.2 567.3,396.5 C572.1,397.8 577.0,399.3 581.8,401.0 C586.6,402.7 590.9,404.7 596.0,406.8 C601.1,408.9 608.7,411.9 612.7,413.6 C616.7,415.3 617.7,415.9 620.0,417.0 C622.3,418.1 627.0,419.4 626.5,420.5 C626.0,421.6 620.6,422.5 617.0,423.5 C613.4,424.5 608.4,425.6 605.0,426.5 C601.6,427.4 599.7,428.4 596.4,428.6 C593.1,428.9 588.6,428.3 585.0,428.0 C581.4,427.7 580.0,427.7 575.0,427.0 C570.0,426.3 561.8,425.1 555.0,424.0 C548.2,422.9 539.8,422.0 534.0,420.3 C528.2,418.6 524.8,416.5 520.0,414.0 C515.2,411.5 508.8,408.1 505.0,405.5 C501.2,402.9 499.5,400.6 497.0,398.5 C494.5,396.4 492.8,394.7 490.0,393.0 C487.2,391.3 483.7,390.0 480.0,388.5 C476.3,387.0 468.0,385.3 467.7,384.0Z"/></clipPath>
<g clip-path="url(#cVo)"><path d="M475,384 C495,378 510,380 535,389 C560,398 590,408 624,420" stroke="#0b8672" stroke-width="3" fill="none" filter="url(#b1)"/><path d="M500,396 C530,412 570,424 600,425" stroke="#2fbfa5" stroke-width="5" fill="none" filter="url(#b2)"/></g>
<path d="M505.0,405.5 C506.2,405.5 509.5,408.1 512.0,409.5 C514.5,410.9 517.5,412.7 520.0,414.0 C522.5,415.3 524.6,416.2 527.0,417.3 C529.4,418.4 533.0,419.4 534.3,420.5 C535.6,421.6 535.5,423.2 535.0,424.0 C534.5,424.8 532.8,425.1 531.0,425.0 C529.2,424.9 526.3,424.1 524.0,423.5 C521.7,422.9 519.2,422.2 517.0,421.5 C514.8,420.8 512.2,420.2 510.5,419.0 C508.8,417.8 507.9,415.6 507.0,414.0 C506.1,412.4 505.3,410.9 505.0,409.5 C504.7,408.1 503.8,405.5 505.0,405.5Z" style="fill:#e4e2e0" class="ol"/>
<g fill="#7a6a60" opacity="0.9"><circle cx="518.6" cy="416.4" r="0.67"/><circle cx="519.0" cy="415.4" r="0.53"/><circle cx="510.5" cy="415.5" r="0.55"/><circle cx="529.3" cy="419.0" r="0.32"/><circle cx="524.6" cy="417.5" r="0.36"/><circle cx="506.8" cy="409.2" r="0.40"/><circle cx="520.6" cy="418.0" r="0.50"/><circle cx="511.9" cy="411.1" r="0.33"/><circle cx="533.7" cy="422.0" r="0.30"/><circle cx="523.9" cy="420.7" r="0.41"/><circle cx="507.6" cy="412.0" r="0.69"/><circle cx="510.3" cy="416.4" r="0.48"/><circle cx="508.5" cy="413.7" r="0.39"/><circle cx="514.9" cy="411.3" r="0.33"/><circle cx="512.3" cy="417.2" r="0.45"/><circle cx="519.5" cy="416.7" r="0.65"/><circle cx="532.3" cy="421.4" r="0.40"/><circle cx="533.5" cy="422.7" r="0.54"/><circle cx="512.2" cy="419.2" r="0.40"/><circle cx="511.9" cy="416.4" r="0.64"/><circle cx="510.3" cy="412.7" r="0.53"/><circle cx="508.9" cy="412.6" r="0.66"/></g>
<path d="M523.0,427.0 C523.9,425.3 526.9,426.2 529.0,426.0 C531.1,425.8 532.0,425.6 535.5,426.0 C539.0,426.4 545.0,427.5 550.0,428.5 C555.0,429.5 560.7,430.8 565.7,432.0 C570.7,433.2 575.5,434.3 580.0,435.5 C584.5,436.7 590.0,438.2 592.7,439.0 C595.4,439.8 594.8,439.1 596.0,440.0 C597.2,440.9 598.7,443.0 600.0,444.5 C601.3,446.0 602.7,447.6 604.0,449.0 C605.3,450.4 606.7,451.7 608.0,453.0 C609.3,454.3 610.3,455.7 612.0,457.0 C613.7,458.3 618.0,460.1 618.0,461.0 C618.0,461.9 614.0,462.2 612.0,462.5 C610.0,462.8 609.2,462.7 606.0,462.5 C602.8,462.3 597.4,462.0 592.7,461.5 C588.0,461.0 582.9,460.5 577.6,459.5 C572.3,458.5 566.9,456.8 561.0,455.5 C555.1,454.2 547.8,452.6 542.0,451.5 C536.2,450.4 528.9,450.2 526.0,449.0 C523.1,447.8 524.9,446.2 524.5,444.0 C524.1,441.8 523.8,438.8 523.5,436.0 C523.2,433.2 522.1,428.7 523.0,427.0Z" fill="#e6898a"/>
<clipPath id="cMxA"><path d="M523.0,427.0 C523.9,425.3 526.9,426.2 529.0,426.0 C531.1,425.8 532.0,425.6 535.5,426.0 C539.0,426.4 545.0,427.5 550.0,428.5 C555.0,429.5 560.7,430.8 565.7,432.0 C570.7,433.2 575.5,434.3 580.0,435.5 C584.5,436.7 590.0,438.2 592.7,439.0 C595.4,439.8 594.8,439.1 596.0,440.0 C597.2,440.9 598.7,443.0 600.0,444.5 C601.3,446.0 602.7,447.6 604.0,449.0 C605.3,450.4 606.7,451.7 608.0,453.0 C609.3,454.3 610.3,455.7 612.0,457.0 C613.7,458.3 618.0,460.1 618.0,461.0 C618.0,461.9 614.0,462.2 612.0,462.5 C610.0,462.8 609.2,462.7 606.0,462.5 C602.8,462.3 597.4,462.0 592.7,461.5 C588.0,461.0 582.9,460.5 577.6,459.5 C572.3,458.5 566.9,456.8 561.0,455.5 C555.1,454.2 547.8,452.6 542.0,451.5 C536.2,450.4 528.9,450.2 526.0,449.0 C523.1,447.8 524.9,446.2 524.5,444.0 C524.1,441.8 523.8,438.8 523.5,436.0 C523.2,433.2 522.1,428.7 523.0,427.0Z"/></clipPath>
<g clip-path="url(#cMxA)">
<path d="M526,434 C545,436 565,442 585,452" stroke="#f0aaa6" stroke-width="7" fill="none" filter="url(#b2)"/>
<path d="M548,429 C570,436 595,448 616,461" stroke="#c64e5a" stroke-width="4" fill="none" filter="url(#b1)"/>
<path d="M572,447 C586,452 600,458 612,463" stroke="#cf5c64" stroke-width="3.5" fill="none" filter="url(#b1)"/>
<path d="M524,447 C545,450 575,457 606,463" stroke="#d8737a" stroke-width="3" fill="none" filter="url(#b1)"/>
</g>
<path d="M523.0,427.0 C523.9,425.3 526.9,426.2 529.0,426.0 C531.1,425.8 532.0,425.6 535.5,426.0 C539.0,426.4 545.0,427.5 550.0,428.5 C555.0,429.5 560.7,430.8 565.7,432.0 C570.7,433.2 575.5,434.3 580.0,435.5 C584.5,436.7 590.0,438.2 592.7,439.0 C595.4,439.8 594.8,439.1 596.0,440.0 C597.2,440.9 598.7,443.0 600.0,444.5 C601.3,446.0 602.7,447.6 604.0,449.0 C605.3,450.4 606.7,451.7 608.0,453.0 C609.3,454.3 610.3,455.7 612.0,457.0 C613.7,458.3 618.0,460.1 618.0,461.0 C618.0,461.9 614.0,462.2 612.0,462.5 C610.0,462.8 609.2,462.7 606.0,462.5 C602.8,462.3 597.4,462.0 592.7,461.5 C588.0,461.0 582.9,460.5 577.6,459.5 C572.3,458.5 566.9,456.8 561.0,455.5 C555.1,454.2 547.8,452.6 542.0,451.5 C536.2,450.4 528.9,450.2 526.0,449.0 C523.1,447.8 524.9,446.2 524.5,444.0 C524.1,441.8 523.8,438.8 523.5,436.0 C523.2,433.2 522.1,428.7 523.0,427.0Z" class="ol"/>
<path d="M534.0,420.3 C535.6,419.7 541.5,421.7 545.0,422.3 C548.5,422.9 551.7,423.4 555.0,424.0 C558.3,424.6 561.7,425.1 565.0,425.6 C568.3,426.1 571.7,426.6 575.0,427.0 C578.3,427.4 581.8,427.7 585.0,428.0 C588.2,428.3 590.7,429.1 594.0,428.8 C597.3,428.6 601.2,427.4 605.0,426.5 C608.8,425.6 613.1,424.5 617.0,423.5 C620.9,422.5 626.6,419.6 628.5,420.7 C630.4,421.8 628.4,426.8 628.3,430.0 C628.2,433.2 627.9,436.7 627.7,440.0 C627.5,443.3 627.4,446.8 627.3,450.0 C627.2,453.2 628.4,457.6 627.0,459.0 C625.6,460.4 621.5,458.8 619.0,458.5 C616.5,458.2 613.8,457.9 612.0,457.0 C610.2,456.1 609.3,454.3 608.0,453.0 C606.7,451.7 605.3,450.4 604.0,449.0 C602.7,447.6 601.3,446.0 600.0,444.5 C598.7,443.0 597.2,440.9 596.0,440.0 C594.8,439.1 595.4,439.8 592.7,439.0 C590.0,438.2 584.5,436.7 580.0,435.5 C575.5,434.3 570.7,433.2 565.7,432.0 C560.7,430.8 555.0,429.5 550.0,428.5 C545.0,427.5 538.2,427.2 535.5,425.8 C532.8,424.4 532.4,420.9 534.0,420.3Z" style="fill:#f3a9a8" class="ol"/>
<g fill="#b8384a" opacity="0.9"><circle cx="599.3" cy="443.6" r="0.74"/><circle cx="598.9" cy="433.3" r="0.63"/><circle cx="626.3" cy="446.0" r="0.60"/><circle cx="611.7" cy="436.9" r="0.71"/><circle cx="568.4" cy="427.6" r="0.87"/><circle cx="566.3" cy="429.6" r="0.36"/><circle cx="627.0" cy="458.9" r="0.70"/><circle cx="608.4" cy="452.5" r="0.80"/><circle cx="618.5" cy="426.6" r="0.55"/><circle cx="616.5" cy="431.1" r="1.01"/><circle cx="600.6" cy="428.6" r="0.55"/><circle cx="617.8" cy="436.6" r="0.52"/><circle cx="620.9" cy="457.5" r="0.88"/><circle cx="619.1" cy="450.8" r="0.76"/><circle cx="603.5" cy="442.1" r="0.36"/><circle cx="620.0" cy="441.0" r="0.90"/><circle cx="567.4" cy="432.4" r="1.00"/><circle cx="599.1" cy="441.3" r="0.79"/><circle cx="600.2" cy="435.6" r="0.52"/><circle cx="572.5" cy="432.8" r="0.83"/><circle cx="547.4" cy="423.8" r="0.57"/><circle cx="566.2" cy="429.5" r="0.58"/><circle cx="568.0" cy="431.1" r="0.49"/><circle cx="574.9" cy="428.8" r="0.99"/><circle cx="614.8" cy="452.5" r="0.51"/><circle cx="568.1" cy="432.2" r="0.45"/><circle cx="609.9" cy="431.4" r="1.01"/><circle cx="590.6" cy="435.4" r="0.96"/><circle cx="618.8" cy="432.7" r="0.44"/><circle cx="550.0" cy="428.2" r="0.53"/><circle cx="625.8" cy="440.5" r="0.39"/><circle cx="612.9" cy="454.1" r="0.92"/><circle cx="562.9" cy="425.6" r="0.96"/><circle cx="612.7" cy="428.5" r="0.97"/><circle cx="562.0" cy="427.7" r="0.48"/><circle cx="598.7" cy="441.1" r="0.66"/><circle cx="609.7" cy="439.9" r="0.79"/><circle cx="598.5" cy="436.8" r="0.63"/><circle cx="613.3" cy="425.3" r="0.39"/><circle cx="544.2" cy="423.6" r="0.39"/><circle cx="624.8" cy="449.2" r="1.01"/><circle cx="621.5" cy="438.7" r="0.49"/><circle cx="605.5" cy="436.7" r="0.73"/><circle cx="563.9" cy="429.7" r="0.41"/><circle cx="627.2" cy="449.9" r="1.00"/><circle cx="568.2" cy="431.8" r="1.00"/><circle cx="612.0" cy="449.6" r="0.59"/><circle cx="627.5" cy="439.1" r="0.49"/><circle cx="568.2" cy="429.2" r="0.62"/><circle cx="604.4" cy="430.1" r="0.64"/><circle cx="588.5" cy="434.9" r="0.57"/><circle cx="571.8" cy="428.2" r="0.58"/><circle cx="622.6" cy="431.8" r="0.58"/><circle cx="596.1" cy="435.7" r="0.71"/><circle cx="556.0" cy="427.9" r="0.80"/><circle cx="605.0" cy="429.6" r="0.72"/><circle cx="602.7" cy="439.7" r="0.81"/><circle cx="567.6" cy="432.2" r="0.37"/><circle cx="618.1" cy="450.9" r="0.62"/><circle cx="625.4" cy="455.2" r="0.46"/><circle cx="613.1" cy="436.6" r="0.57"/><circle cx="538.9" cy="422.3" r="0.43"/><circle cx="563.0" cy="426.4" r="0.44"/><circle cx="612.6" cy="435.0" r="0.69"/><circle cx="615.3" cy="455.5" r="1.00"/><circle cx="583.9" cy="434.5" r="0.48"/><circle cx="620.1" cy="449.9" r="0.74"/><circle cx="608.8" cy="430.4" r="0.72"/><circle cx="619.7" cy="424.5" r="0.78"/><circle cx="613.3" cy="445.2" r="0.66"/><circle cx="613.6" cy="455.0" r="0.73"/><circle cx="627.6" cy="428.8" r="0.64"/><circle cx="609.6" cy="449.2" r="0.72"/><circle cx="607.4" cy="446.5" r="0.96"/><circle cx="595.4" cy="434.4" r="0.55"/><circle cx="541.8" cy="425.1" r="0.38"/><circle cx="626.2" cy="425.7" r="0.77"/><circle cx="612.1" cy="453.6" r="1.03"/><circle cx="596.4" cy="431.2" r="0.75"/><circle cx="611.9" cy="449.4" r="0.55"/></g>
<path d="M594,428.8 C594,433 595,437 597,441" class="ol" stroke-width="0.8"/>
<path d="M494.5,395.5 C495.0,394.5 497.5,396.7 499.0,398.0 C500.5,399.3 502.4,401.4 503.6,403.4 C504.8,405.4 505.3,407.6 506.0,410.0 C506.7,412.4 507.4,415.3 508.0,418.0 C508.6,420.7 509.3,423.7 509.3,426.0 C509.3,428.3 508.7,430.2 508.0,432.0 C507.3,433.8 506.1,435.7 505.0,437.0 C503.9,438.3 502.5,439.6 501.4,439.8 C500.3,440.1 498.8,439.8 498.5,438.5 C498.2,437.2 499.4,434.4 499.5,432.0 C499.6,429.6 499.3,427.0 499.0,424.0 C498.7,421.0 498.0,417.3 497.5,414.0 C497.0,410.7 496.5,407.1 496.0,404.0 C495.5,400.9 494.0,396.5 494.5,395.5Z" style="fill:#f09a3c" class="ol"/>
<path d="M488.9,393.2 C489.3,392.4 491.1,392.9 492.0,394.0 C492.9,395.1 493.8,397.3 494.5,400.0 C495.2,402.7 495.8,406.7 496.5,410.0 C497.2,413.3 497.9,416.7 498.5,420.0 C499.1,423.3 499.8,427.6 500.0,430.0 C500.2,432.4 499.9,433.7 499.5,434.5 C499.1,435.3 498.2,435.8 497.5,435.0 C496.8,434.2 496.2,432.5 495.5,430.0 C494.8,427.5 494.2,423.7 493.5,420.0 C492.8,416.3 492.2,411.5 491.5,408.0 C490.8,404.5 489.9,401.5 489.5,399.0 C489.1,396.5 488.5,394.0 488.9,393.2Z" style="fill:#f4ad5a" class="ol"/>
<path d="M614.0,498.0 C616.1,497.5 618.8,500.7 620.5,503.0 C622.2,505.3 623.5,508.8 624.5,512.0 C625.5,515.2 626.2,518.5 626.5,522.0 C626.8,525.5 626.4,529.7 626.0,533.0 C625.6,536.3 624.9,539.5 624.0,542.0 C623.1,544.5 622.3,547.1 620.5,548.0 C618.7,548.9 615.4,548.2 613.0,547.5 C610.6,546.8 607.9,545.8 606.0,544.0 C604.1,542.2 602.4,539.7 601.5,537.0 C600.6,534.3 600.2,531.3 600.5,528.0 C600.8,524.7 601.8,520.7 603.0,517.0 C604.2,513.3 606.2,509.2 608.0,506.0 C609.8,502.8 611.9,498.5 614.0,498.0Z" style="fill:#7f9bd3" class="ol"/>
<g fill="#1f3d86" opacity="0.9"><circle cx="607.2" cy="532.3" r="0.64"/><circle cx="606.4" cy="534.7" r="0.37"/><circle cx="614.3" cy="508.7" r="0.45"/><circle cx="611.7" cy="539.9" r="0.60"/><circle cx="621.6" cy="538.3" r="0.71"/><circle cx="619.9" cy="545.5" r="0.70"/><circle cx="607.2" cy="540.5" r="0.54"/><circle cx="620.1" cy="526.2" r="0.51"/><circle cx="610.0" cy="519.5" r="0.46"/><circle cx="603.6" cy="539.0" r="0.70"/><circle cx="614.9" cy="535.4" r="0.37"/><circle cx="618.1" cy="520.2" r="0.39"/><circle cx="605.8" cy="524.1" r="0.43"/><circle cx="612.4" cy="528.3" r="0.50"/><circle cx="603.9" cy="522.5" r="0.42"/><circle cx="617.4" cy="545.7" r="0.49"/><circle cx="619.2" cy="544.6" r="0.32"/><circle cx="604.2" cy="538.3" r="0.72"/><circle cx="617.1" cy="506.0" r="0.51"/><circle cx="623.1" cy="542.3" r="0.70"/><circle cx="605.8" cy="540.7" r="0.49"/><circle cx="619.1" cy="504.9" r="0.79"/><circle cx="616.2" cy="534.1" r="0.41"/><circle cx="616.5" cy="527.0" r="0.60"/><circle cx="609.8" cy="534.4" r="0.47"/><circle cx="608.2" cy="506.2" r="0.64"/><circle cx="602.3" cy="530.2" r="0.58"/><circle cx="614.6" cy="499.9" r="0.52"/><circle cx="607.5" cy="527.9" r="0.34"/><circle cx="612.7" cy="516.3" r="0.72"/><circle cx="613.4" cy="546.5" r="0.56"/><circle cx="612.8" cy="531.5" r="0.45"/><circle cx="624.2" cy="534.9" r="0.43"/><circle cx="618.3" cy="540.5" r="0.43"/><circle cx="615.8" cy="515.8" r="0.42"/><circle cx="608.0" cy="508.2" r="0.48"/><circle cx="602.8" cy="535.9" r="0.60"/><circle cx="605.5" cy="522.0" r="0.58"/><circle cx="609.2" cy="512.5" r="0.52"/><circle cx="603.4" cy="539.2" r="0.41"/><circle cx="608.4" cy="517.4" r="0.32"/><circle cx="603.8" cy="516.1" r="0.52"/><circle cx="601.6" cy="524.8" r="0.36"/><circle cx="621.4" cy="514.1" r="0.75"/><circle cx="614.7" cy="504.3" r="0.30"/><circle cx="607.0" cy="541.4" r="0.37"/><circle cx="613.0" cy="516.6" r="0.47"/><circle cx="621.3" cy="508.7" r="0.66"/><circle cx="617.8" cy="544.8" r="0.56"/><circle cx="624.4" cy="520.0" r="0.59"/><circle cx="616.6" cy="540.0" r="0.75"/><circle cx="614.4" cy="538.6" r="0.57"/><circle cx="619.4" cy="503.4" r="0.66"/><circle cx="621.5" cy="519.2" r="0.61"/><circle cx="622.2" cy="533.8" r="0.45"/><circle cx="620.3" cy="503.5" r="0.45"/><circle cx="626.4" cy="521.6" r="0.43"/><circle cx="620.9" cy="520.5" r="0.30"/><circle cx="609.1" cy="544.9" r="0.42"/><circle cx="622.6" cy="540.7" r="0.51"/><circle cx="613.1" cy="511.1" r="0.53"/><circle cx="624.0" cy="524.8" r="0.40"/><circle cx="610.3" cy="521.8" r="0.40"/><circle cx="615.4" cy="499.7" r="0.71"/><circle cx="615.8" cy="513.4" r="0.74"/><circle cx="613.4" cy="524.1" r="0.72"/><circle cx="606.1" cy="535.3" r="0.62"/><circle cx="611.6" cy="546.0" r="0.31"/><circle cx="601.9" cy="523.0" r="0.76"/><circle cx="607.2" cy="522.3" r="0.60"/><circle cx="606.8" cy="524.5" r="0.30"/><circle cx="612.2" cy="536.0" r="0.47"/><circle cx="618.7" cy="519.4" r="0.76"/><circle cx="619.8" cy="503.0" r="0.76"/><circle cx="622.1" cy="532.1" r="0.66"/><circle cx="617.8" cy="527.5" r="0.43"/><circle cx="604.0" cy="534.3" r="0.60"/><circle cx="602.0" cy="530.1" r="0.61"/><circle cx="613.8" cy="536.8" r="0.74"/><circle cx="610.4" cy="538.7" r="0.55"/><circle cx="615.4" cy="518.7" r="0.77"/><circle cx="612.1" cy="545.6" r="0.47"/><circle cx="618.0" cy="543.6" r="0.64"/><circle cx="612.9" cy="518.7" r="0.71"/><circle cx="620.9" cy="547.3" r="0.52"/></g>
<path d="M527.1,464.0 Q527.0,459.5 531.4,460.4 L539.3,462.1 Q543.7,463.0 543.6,467.5 L543.5,472.6 Q543.4,475.6 540.6,474.6 L530.1,471.0 Q527.3,470.0 527.2,467.0 Z" style="fill:#fff" class="ol" stroke-width="0.9"/>
<path d="M544.4,467.5 Q544.3,463.0 548.6,464.2 L557.9,466.8 Q562.2,468.0 562.1,472.5 L562.0,477.0 Q561.9,480.0 559.0,479.3 L547.5,476.3 Q544.6,475.6 544.5,472.6 Z" style="fill:#fff" class="ol" stroke-width="0.9"/>
<path d="M562.9,472.5 Q562.8,468.0 567.2,468.9 L572.9,470.1 Q577.3,471.0 577.2,475.5 L577.1,481.0 Q577.0,484.0 574.1,483.2 L566.0,480.8 Q563.1,480.0 563.0,477.0 Z" style="fill:#fff" class="ol" stroke-width="0.9"/>
<path d="M578.0,475.5 Q577.9,471.0 582.2,472.2 L586.4,473.3 Q590.7,474.5 590.6,479.0 L590.5,486.0 Q590.4,489.0 587.6,487.9 L581.0,485.1 Q578.2,484.0 578.1,481.0 Z" style="fill:#fff" class="ol" stroke-width="0.9"/>
<path d="M591.4,479.0 Q591.3,474.5 595.7,475.3 L597.3,475.7 Q601.7,476.5 601.6,481.0 L601.5,491.0 Q601.4,494.0 598.7,492.6 L594.3,490.4 Q591.6,489.0 591.5,486.0 Z" style="fill:#fff" class="ol" stroke-width="0.9"/>
<path d="M602.4,481.0 Q602.3,476.5 606.7,477.2 L607.3,477.3 Q611.7,478.0 611.6,482.5 L611.4,493.0 Q611.4,496.0 608.5,495.3 L605.5,494.7 Q602.6,494.0 602.5,491.0 Z" style="fill:#fff" class="ol" stroke-width="0.9"/>
<path d="M612.4,482.5 Q612.3,478.0 616.3,478.5 L616.7,478.5 Q620.7,479.0 620.6,483.5 L620.4,494.0 Q620.4,497.0 617.4,496.6 L615.6,496.4 Q612.6,496.0 612.6,493.0 Z" style="fill:#fff" class="ol" stroke-width="0.9"/>
<path d="M621.4,483.5 Q621.3,479.0 624.6,478.8 L624.9,478.7 Q628.2,478.5 628.1,483.0 L628.0,492.5 Q627.9,495.5 625.0,496.2 L624.5,496.3 Q621.6,497.0 621.6,494.0 Z" style="fill:#fff" class="ol" stroke-width="0.9"/>
<path d="M526.4,452.0 Q526.3,448.5 529.8,449.1 L538.2,450.4 Q541.7,451.0 541.6,454.5 L541.5,459.0 Q541.4,463.5 537.0,462.5 L531.0,461.0 Q526.6,460.0 526.5,455.5 Z" style="fill:#fff" class="ol" stroke-width="0.9"/>
<path d="M542.4,454.5 Q542.3,451.0 545.7,451.7 L557.3,454.3 Q560.7,455.0 560.6,458.5 L560.5,464.0 Q560.4,468.5 556.1,467.3 L546.9,464.7 Q542.6,463.5 542.5,459.0 Z" style="fill:#fff" class="ol" stroke-width="0.9"/>
<path d="M561.4,458.5 Q561.3,455.0 564.7,455.8 L573.9,458.2 Q577.3,459.0 577.2,462.5 L577.1,467.5 Q577.0,472.0 572.6,471.0 L566.0,469.5 Q561.6,468.5 561.5,464.0 Z" style="fill:#fff" class="ol" stroke-width="0.9"/>
<path d="M578.0,462.5 Q577.9,459.0 581.4,459.5 L588.9,460.5 Q592.4,461.0 592.3,464.5 L592.2,471.5 Q592.1,476.0 587.8,474.8 L582.5,473.2 Q578.2,472.0 578.1,467.5 Z" style="fill:#fff" class="ol" stroke-width="0.9"/>
<path d="M593.1,464.5 Q593.0,461.0 596.5,461.3 L602.2,461.7 Q605.7,462.0 605.6,465.5 L605.5,474.0 Q605.4,478.5 601.0,477.6 L597.7,476.9 Q593.3,476.0 593.2,471.5 Z" style="fill:#fff" class="ol" stroke-width="0.9"/>
<path d="M606.4,465.5 Q606.3,462.0 609.8,461.6 L612.2,461.4 Q615.7,461.0 615.6,464.5 L615.5,475.5 Q615.4,480.0 611.2,479.3 L610.8,479.2 Q606.6,478.5 606.5,474.0 Z" style="fill:#fff" class="ol" stroke-width="0.9"/>
<path d="M616.4,464.5 Q616.3,461.0 619.7,460.5 L620.0,460.5 Q623.4,460.0 623.3,463.5 L623.2,475.5 Q623.1,480.0 620.0,480.0 L619.7,480.0 Q616.6,480.0 616.5,475.5 Z" style="fill:#fff" class="ol" stroke-width="0.9"/>
<path d="M624.1,463.5 Q624.0,460.0 627.2,459.8 L627.5,459.7 Q630.7,459.5 630.6,463.0 L630.5,474.0 Q630.4,478.5 627.5,479.2 L627.2,479.3 Q624.3,480.0 624.2,475.5 Z" style="fill:#fff" class="ol" stroke-width="0.9"/>
<path d="M348.6,428.2 C347.5,428.4 345.2,429.7 341.8,429.5 C338.4,429.3 332.8,428.4 328.2,426.8 C323.6,425.2 319.0,422.7 314.5,420.0 C310.0,417.3 306.0,414.4 301.0,410.5 C296.0,406.6 289.1,401.4 284.5,396.8 C279.9,392.2 276.6,388.7 273.6,383.2 C270.7,377.7 268.5,370.9 266.8,364.0 C265.1,357.1 263.9,349.7 263.3,342.0 C262.7,334.3 262.8,325.8 263.0,318.0 C263.2,310.2 263.7,302.7 264.5,295.0 C265.3,287.3 266.7,279.0 268.0,272.0 C269.3,265.0 271.1,258.1 272.5,253.0 C273.9,247.9 273.9,247.0 276.4,241.4 C278.9,235.8 283.4,226.5 287.3,219.5 C291.2,212.5 295.5,205.2 300.0,199.5 C304.5,193.8 309.1,190.2 314.5,185.0 C319.9,179.8 326.6,173.3 332.7,168.6 C338.8,163.9 345.1,160.0 351.0,156.8 C356.9,153.6 361.9,151.8 368.0,149.5 C374.1,147.2 382.0,144.8 387.3,143.2 C392.6,141.6 394.6,140.9 400.0,139.8 C405.4,138.7 413.3,137.6 420.0,136.8 C426.7,136.1 434.2,135.6 440.0,135.3 C445.8,135.0 452.5,135.1 455.0,135.0 C461.0,135.6 479.0,136.2 491.0,138.6 C503.0,141.0 516.8,145.5 527.0,149.5 C537.2,153.5 544.1,157.0 552.5,162.5 C560.9,168.0 570.4,175.4 577.5,182.5 C584.6,189.6 590.8,198.6 595.0,205.0 C599.2,211.4 600.5,215.8 603.0,221.0 C605.5,226.2 607.9,230.5 610.0,236.4 C612.1,242.3 614.2,250.0 615.5,256.4 C616.8,262.8 617.7,268.4 618.0,274.5 C618.3,280.6 618.3,287.2 617.3,292.7 C616.3,298.2 613.3,303.7 611.8,307.3 C610.2,310.9 608.6,313.3 608.0,314.5" class="ol" stroke-width="2.3" stroke="#1a120c"/>
<path d="M348.6,428.2 C348.4,427.8 348.4,426.9 347.3,425.5 C346.2,424.1 345.0,422.3 341.8,420.0 C338.6,417.7 332.3,415.0 328.2,411.8 C324.1,408.6 320.7,404.4 317.3,401.0 C313.9,397.6 311.6,394.4 307.7,391.4 C303.8,388.4 298.1,386.6 294.0,383.2 C289.9,379.8 285.9,375.2 283.2,371.0 C280.5,366.8 279.1,363.2 277.7,358.0 C276.2,352.8 275.0,346.7 274.5,340.0 C274.0,333.3 274.2,325.5 274.5,318.0 C274.8,310.5 275.6,302.7 276.5,295.0 C277.4,287.3 278.6,278.7 280.0,272.0 C281.4,265.3 282.9,260.1 285.0,255.0 C287.1,249.9 289.3,247.9 292.7,241.4 C296.1,234.9 300.9,223.3 305.5,216.0 C310.1,208.7 313.9,203.8 320.0,197.7 C326.1,191.6 333.6,185.2 341.8,179.5 C350.0,173.8 360.1,167.7 369.0,163.2 C377.9,158.7 386.5,155.4 395.0,152.5 C403.5,149.6 412.5,146.9 420.0,145.5 C427.5,144.1 434.2,144.1 440.0,143.8 C445.8,143.5 446.8,142.9 455.0,143.5 C463.2,144.1 483.3,146.8 489.0,147.5" class="ol" stroke-width="1.3" stroke="#2a1e14"/>
<path d="M455.0,143.5 C460.7,144.2 477.7,145.1 489.0,147.5 C500.3,149.9 513.3,154.2 523.0,158.0 C532.7,161.8 539.2,165.0 547.0,170.0 C554.8,175.0 563.8,181.7 570.0,188.0 C576.2,194.3 580.7,202.5 584.0,208.0 C587.3,213.5 588.2,216.3 590.0,221.0 C591.8,225.7 593.4,230.5 594.5,236.4 C595.6,242.3 596.2,250.0 596.4,256.4 C596.6,262.8 596.3,268.4 595.5,274.5 C594.7,280.6 593.2,287.2 591.8,292.7 C590.4,298.2 588.7,304.0 587.3,307.3 C585.9,310.6 584.2,311.8 583.6,312.7" class="ol" stroke-width="1.3" stroke="#17474d"/>
<path d="M490.0,147.0 C488.8,147.8 484.3,150.7 483.0,152.0 C481.7,153.3 482.5,153.9 482.4,154.8 C482.4,155.8 482.9,156.6 482.8,157.6 C482.6,158.5 481.9,159.5 481.5,160.4 C481.1,161.4 480.6,162.3 480.4,163.2 C480.3,164.2 480.9,165.2 480.7,166.2 C480.6,167.1 479.9,167.8 479.7,168.7 C479.5,169.6 479.4,170.9 479.6,171.8 C479.7,172.7 480.3,173.2 480.5,174.2 C480.8,175.1 481.0,176.5 481.0,177.5 C480.9,178.4 480.5,179.3 480.3,180.1 C480.1,180.9 479.7,181.5 479.8,182.3 C479.9,183.1 480.7,184.0 480.8,184.9 C481.0,185.8 480.6,186.7 480.6,187.6 C480.6,188.5 480.5,189.4 480.7,190.3 C480.9,191.2 481.5,192.2 481.8,193.0 C482.1,193.9 482.2,194.7 482.3,195.5 C482.5,196.3 482.6,197.2 482.7,198.1 C482.8,198.9 482.7,199.7 482.9,200.6 C483.1,201.5 483.9,202.7 484.2,203.7 C484.4,204.6 484.3,205.4 484.2,206.2 C484.0,207.0 483.6,207.8 483.5,208.7 C483.4,209.5 483.5,210.4 483.7,211.3 C483.9,212.2 484.6,213.2 484.9,214.1 C485.1,215.1 485.1,215.9 485.3,216.8 C485.4,217.8 485.9,218.9 485.8,219.8 C485.6,220.7 484.2,221.3 484.3,222.1 C484.4,223.0 485.9,224.0 486.2,225.0 C486.6,226.0 486.6,226.9 486.3,227.9 C486.0,229.0 484.7,230.1 484.6,231.1 C484.5,232.1 485.8,232.9 485.8,233.9 C485.7,234.8 484.4,235.9 484.4,236.9 C484.5,238.0 485.9,239.1 485.9,240.1 C485.9,241.1 484.6,242.0 484.3,242.9 C484.0,243.8 483.9,244.6 484.1,245.6 C484.2,246.5 485.1,247.5 485.1,248.4 C485.2,249.4 484.8,250.4 484.5,251.4 C484.3,252.4 483.8,253.4 483.6,254.3 C483.4,255.3 483.5,256.2 483.3,257.1 C483.2,257.9 483.0,258.7 482.8,259.5 C482.7,260.4 482.4,261.1 482.5,262.0 C482.6,262.9 483.5,264.0 483.3,264.9 C483.2,265.8 482.0,266.7 481.6,267.5 C481.3,268.4 481.1,269.0 481.0,269.9 C480.9,270.7 481.0,272.1 481.0,272.5" fill="none" stroke="#9fb9a8" stroke-width="0.7"/>
<path d="M608.0,314.5 C608.3,315.0 609.0,316.1 610.0,317.3 C611.0,318.5 612.3,319.4 614.0,321.5 C615.7,323.6 618.0,327.5 620.0,330.0 C622.0,332.5 623.9,334.4 626.0,336.5 C628.1,338.6 630.6,340.7 632.7,342.7 C634.8,344.7 636.7,346.7 638.5,348.5 C640.3,350.3 642.8,352.4 643.6,353.6 C644.4,354.9 643.8,355.4 643.5,356.0 C643.2,356.6 643.0,356.9 641.8,357.3 C640.6,357.7 637.6,357.6 636.4,358.2 C635.2,358.8 635.1,359.9 634.5,361.0 C633.9,362.1 633.5,362.9 632.7,364.5 C632.0,366.1 630.9,368.4 630.0,370.5 C629.1,372.6 628.7,375.0 627.3,377.3 C625.9,379.6 623.5,382.1 621.8,384.5 C620.1,386.9 618.5,389.4 617.3,391.8 C616.1,394.2 615.1,396.6 614.5,399.0 C613.9,401.4 613.6,404.0 613.6,406.4 C613.6,408.8 613.4,411.7 614.5,413.6 C615.6,415.5 617.7,416.8 620.0,418.0 C622.3,419.2 627.1,420.2 628.5,420.7" class="ol" stroke-width="1.4" stroke="#1e1610"/>
<path d="M628.5,420.7 L627.7,440 L627,459" class="ol" stroke-width="1.3" stroke="#1e1610"/>
<g class="ld"><path d="M216,199.5 H371"/><path d="M216,233.5 H257 L414,290"/><path d="M216,274 H281 L460,329"/><path d="M216,325 H320"/><path d="M216,357 H320"/><path d="M216,400.5 H270 L407.5,361"/><path d="M297,440.5 H329.5 L404,401"/><path d="M297,455 H368 L467.5,370"/><path d="M383,471.5 H411 L494,405"/><path d="M383,488.5 H411 L516,394"/><path d="M383,507.5 H411 L486,446"/><path d="M383,526.5 H425 L515,417.5"/><path d="M613,175.5 H481"/><path d="M652,201.5 H602.5 L481,274"/><path d="M681,235.8 H581"/><path d="M681,268.5 H610"/><path d="M681,304 H574"/><path d="M681,331 H615"/><path d="M681,354 H579"/><path d="M681,388.5 H602"/><path d="M681,414 H641 L615,401"/><path d="M681,437.5 H616"/><path d="M681,480 H644 L537,426 M644,480 L562,430 M644,480 L579,444"/><path d="M681,520 H616"/></g>
<text class="lb b" x="213" y="203.0" text-anchor="end">Parietal bone</text>
<text class="lb b" x="213" y="236.5" text-anchor="end">Temporal bone</text>
<text class="lb" x="213" y="277.5" text-anchor="end">Sella turcica of sphenoid bone</text>
<text class="lb" x="213" y="328.5" text-anchor="end">Lambdoid suture</text>
<text class="lb b" x="213" y="360.5" text-anchor="end">Occipital bone</text>
<text class="lb" x="213" y="391.0" text-anchor="end">Internal acoustic meatus</text>
<text class="lb" x="213" y="403.0" text-anchor="end">of temporal bone</text>
<text class="lb" x="294" y="443.5" text-anchor="end">Hypoglossal canal</text>
<text class="lb" x="294" y="458.5" text-anchor="end">Sphenoid air sinus</text>
<text class="lb" x="380" y="475.0" text-anchor="end">Pterygoid process of sphenoid bone</text>
<text class="lb b" x="380" y="492.0" text-anchor="end">Vomer</text>
<text class="lb" x="380" y="511.0" text-anchor="end">Mandibular foramen</text>
<text class="lb b" x="380" y="530.0" text-anchor="end">Palatine bone</text>
<text class="lb" x="616.5" y="180.6" text-anchor="start">Coronal suture</text>
<text class="lb b" x="655.5" y="205.6" text-anchor="start">Sphenoid bone</text>
<text class="lb b" x="684.5" y="241.1" text-anchor="start">Frontal bone</text>
<text class="lb" x="684.5" y="273.6" text-anchor="start">Frontal sinus</text>
<text class="lb" x="684.5" y="307.6" text-anchor="start">Crista galli of ethmoid bone</text>
<text class="lb b" x="684.5" y="334.1" text-anchor="start">Nasal bone</text>
<text class="lb" x="684.5" y="358.1" text-anchor="start">Perpendicular plate</text>
<text class="lb" x="684.5" y="371.6" text-anchor="start">of ethmoid bone</text>
<text class="lb b" x="684.5" y="393.1" text-anchor="start">Inferior nasal concha</text>
<text class="lb" x="684.5" y="417.6" text-anchor="start">Nasal notch of maxilla</text>
<text class="lb b" x="684.5" y="441.6" text-anchor="start">Maxilla</text>
<text class="lb" x="684.5" y="484.6" text-anchor="start">Hard palate</text>
<text class="lb b" x="684.5" y="524.6" text-anchor="start">Mandible</text>
<circle cx="840.2" cy="620.7" r="14.3" fill="#b7300f"/>
<path d="M827.75,606.9 A18.6,18.6 0 1 1 823.1,628 L826.2,626.6 A15.2,15.2 0 1 0 830,609.4 Z" fill="#b7300f"/>
<text x="841.3" y="626.2" text-anchor="middle" font-family="Liberation Sans,sans-serif" font-weight="bold" font-size="12" fill="#fff">52</text>
<text x="323" y="647" font-family="Liberation Serif,serif" font-size="9.6" fill="#e8e8e9" textLength="230" lengthAdjust="spacingAndGlyphs">Copyright © 2023, Elsevier Inc. All Rights Reserved</text>
<defs><linearGradient id="gPl" x1="0" y1="0" x2="1" y2="1"><stop offset="0" stop-color="#a6d5ea"/><stop offset="0.55" stop-color="#d9eff7"/><stop offset="1" stop-color="#b4deef"/></linearGradient>
<radialGradient id="gSk" cx="0.45" cy="0.35" r="0.75"><stop offset="0" stop-color="#ffffff"/><stop offset="0.6" stop-color="#f1f1f1"/><stop offset="1" stop-color="#b9b9bb"/></radialGradient>
<radialGradient id="gOr" cx="0.5" cy="0.45" r="0.6"><stop offset="0" stop-color="#a2a2a6"/><stop offset="0.7" stop-color="#737377"/><stop offset="1" stop-color="#4c4c50"/></radialGradient></defs>
<path d="M64.4,499.7 L178.3,483.2 L178.3,605.3 L64.4,623 Z" fill="url(#gPl)" stroke="#4f9fc4" stroke-width="1"/>
<path d="M144.0,497.0 C145.3,498.3 149.7,502.0 152.0,505.0 C154.3,508.0 156.2,511.5 158.0,515.0 C159.8,518.5 161.6,522.5 163.0,526.0 C164.4,529.5 165.3,532.8 166.5,536.0 C167.7,539.2 169.0,542.2 170.0,545.0 C171.0,547.8 171.7,549.2 172.4,552.5 C173.1,555.8 173.7,560.4 174.0,565.0 C174.3,569.6 174.3,575.4 174.0,580.0 C173.7,584.6 173.1,589.4 172.4,592.4 C171.7,595.4 171.2,596.4 170.0,598.0 C168.8,599.6 167.2,601.0 165.4,601.8 C163.6,602.5 161.0,602.6 159.0,602.5 C157.0,602.4 154.5,601.2 153.6,601.0" fill="#b9deee" fill-opacity="0.55" stroke="#6aa9c4" stroke-width="0.7"/>
<path d="M70.3,543.0 C70.4,540.7 70.6,538.3 71.0,536.0 C71.4,533.7 71.8,531.4 72.6,529.0 C73.4,526.6 74.6,523.8 76.0,521.5 C77.4,519.2 78.9,517.2 80.8,515.0 C82.7,512.8 85.1,510.5 87.5,508.5 C89.9,506.5 92.4,504.5 95.0,503.0 C97.6,501.5 100.3,500.4 103.0,499.5 C105.7,498.6 108.6,497.9 111.4,497.3 C114.2,496.7 117.3,496.2 120.0,496.0 C122.7,495.8 125.2,495.7 127.8,496.0 C130.4,496.3 133.1,497.0 135.5,497.8 C137.9,498.6 140.1,499.6 142.0,500.8 C143.9,502.0 145.4,503.5 147.0,505.0 C148.6,506.5 150.1,508.2 151.3,510.0 C152.5,511.8 153.2,514.0 154.0,516.0 C154.8,518.0 155.3,519.8 156.0,522.0 C156.7,524.2 157.6,527.0 158.3,529.0 C159.0,531.0 159.4,532.4 160.0,534.0 C160.6,535.6 161.4,536.9 161.9,538.4 C162.4,539.9 162.6,541.4 163.0,543.0 C163.4,544.6 163.7,546.2 164.2,547.8 C164.7,549.4 165.2,551.0 165.8,552.5 C166.4,554.0 167.0,555.6 167.7,557.0 C168.4,558.4 169.1,559.6 169.8,561.0 C170.5,562.4 171.4,563.6 171.7,565.4 C172.0,567.2 171.7,569.9 171.5,572.0 C171.3,574.1 170.8,576.2 170.5,578.0 C170.2,579.8 170.0,581.4 169.8,583.0 C169.6,584.6 169.4,585.9 169.4,587.7 C169.4,589.5 170.7,592.2 170.0,593.6 C169.3,595.0 167.1,595.6 165.4,596.0 C163.7,596.4 162.0,596.2 160.0,596.0 C158.0,595.8 156.1,595.4 153.6,594.8 C151.1,594.2 147.7,593.3 145.0,592.5 C142.3,591.7 139.7,590.9 137.2,590.0 C134.7,589.1 132.4,588.1 130.0,587.3 C127.6,586.5 125.0,585.1 123.0,585.4 C121.0,585.7 119.5,587.8 118.0,589.0 C116.5,590.2 115.4,592.1 113.7,592.4 C112.0,592.7 109.2,591.7 107.8,591.0 C106.4,590.3 106.1,589.0 105.5,588.0 C104.9,587.0 105.3,585.5 104.3,585.0 C103.3,584.5 101.0,585.0 99.5,584.8 C98.0,584.6 96.6,584.5 95.0,584.0 C93.4,583.5 91.6,582.5 90.0,581.5 C88.4,580.5 87.0,579.2 85.5,578.0 C84.0,576.8 82.4,575.5 81.0,574.0 C79.6,572.5 78.5,570.8 77.3,569.0 C76.1,567.2 75.0,565.5 74.0,563.5 C73.0,561.5 72.0,559.2 71.4,557.0 C70.8,554.8 70.5,552.3 70.3,550.0 C70.1,547.7 70.2,545.3 70.3,543.0Z" fill="url(#gSk)" stroke="#333" stroke-width="1.1"/>
<clipPath id="cSk"><path d="M70.3,543.0 C70.4,540.7 70.6,538.3 71.0,536.0 C71.4,533.7 71.8,531.4 72.6,529.0 C73.4,526.6 74.6,523.8 76.0,521.5 C77.4,519.2 78.9,517.2 80.8,515.0 C82.7,512.8 85.1,510.5 87.5,508.5 C89.9,506.5 92.4,504.5 95.0,503.0 C97.6,501.5 100.3,500.4 103.0,499.5 C105.7,498.6 108.6,497.9 111.4,497.3 C114.2,496.7 117.3,496.2 120.0,496.0 C122.7,495.8 125.2,495.7 127.8,496.0 C130.4,496.3 133.1,497.0 135.5,497.8 C137.9,498.6 140.1,499.6 142.0,500.8 C143.9,502.0 145.4,503.5 147.0,505.0 C148.6,506.5 150.1,508.2 151.3,510.0 C152.5,511.8 153.2,514.0 154.0,516.0 C154.8,518.0 155.3,519.8 156.0,522.0 C156.7,524.2 157.6,527.0 158.3,529.0 C159.0,531.0 159.4,532.4 160.0,534.0 C160.6,535.6 161.4,536.9 161.9,538.4 C162.4,539.9 162.6,541.4 163.0,543.0 C163.4,544.6 163.7,546.2 164.2,547.8 C164.7,549.4 165.2,551.0 165.8,552.5 C166.4,554.0 167.0,555.6 167.7,557.0 C168.4,558.4 169.1,559.6 169.8,561.0 C170.5,562.4 171.4,563.6 171.7,565.4 C172.0,567.2 171.7,569.9 171.5,572.0 C171.3,574.1 170.8,576.2 170.5,578.0 C170.2,579.8 170.0,581.4 169.8,583.0 C169.6,584.6 169.4,585.9 169.4,587.7 C169.4,589.5 170.7,592.2 170.0,593.6 C169.3,595.0 167.1,595.6 165.4,596.0 C163.7,596.4 162.0,596.2 160.0,596.0 C158.0,595.8 156.1,595.4 153.6,594.8 C151.1,594.2 147.7,593.3 145.0,592.5 C142.3,591.7 139.7,590.9 137.2,590.0 C134.7,589.1 132.4,588.1 130.0,587.3 C127.6,586.5 125.0,585.1 123.0,585.4 C121.0,585.7 119.5,587.8 118.0,589.0 C116.5,590.2 115.4,592.1 113.7,592.4 C112.0,592.7 109.2,591.7 107.8,591.0 C106.4,590.3 106.1,589.0 105.5,588.0 C104.9,587.0 105.3,585.5 104.3,585.0 C103.3,584.5 101.0,585.0 99.5,584.8 C98.0,584.6 96.6,584.5 95.0,584.0 C93.4,583.5 91.6,582.5 90.0,581.5 C88.4,580.5 87.0,579.2 85.5,578.0 C84.0,576.8 82.4,575.5 81.0,574.0 C79.6,572.5 78.5,570.8 77.3,569.0 C76.1,567.2 75.0,565.5 74.0,563.5 C73.0,561.5 72.0,559.2 71.4,557.0 C70.8,554.8 70.5,552.3 70.3,550.0 C70.1,547.7 70.2,545.3 70.3,543.0Z"/></clipPath>
<g clip-path="url(#cSk)">
<path d="M70,535 C72,556 84,574 100,583 C108,589 112,592 118,590" stroke="#9c9ca1" stroke-width="8" fill="none" filter="url(#b2)"/>
<path d="M92,563 C98,575 100,582 106,590 L96,588 C90,580 88,572 92,563Z" fill="#7e7e83" filter="url(#b1)"/>
<path d="M103,562 C108,555 116,553 121,556 C123,560 119,566 112,568 C106,569 102,567 103,562Z" fill="#6f6f74" filter="url(#b1)"/>
<path d="M122,556 C128,552 134,553 138,558 C134,562 128,562 122,560Z" fill="#8d8d92" filter="url(#b1)"/>
<path d="M124,563 C126,570 128,576 132,581" stroke="#86868b" stroke-width="3" fill="none" filter="url(#b1)"/>
<path d="M150,550 C154,556 160,560 170,563" stroke="#b5b5ba" stroke-width="3" fill="none" filter="url(#b1)"/>
<path d="M112,586 C125,580 140,586 165,592" stroke="#c2c2c6" stroke-width="4" fill="none" filter="url(#b2)"/>
<path d="M145,505 C150,515 154,525 157,535" stroke="#cfcfd3" stroke-width="4" fill="none" filter="url(#b2)"/>
</g>
<path d="M99,501 C102,508 99,514 103,520 C100,526 104,532 101,538 C104,543 101,548 98,552 M79,545 C85,540 90,541 96,536 C99,534 101,532 103,528 M103,520 C110,517 115,512 120,509 C124,507 126,503 128,499 M131,548 C133,553 130,558 133,562" stroke="#a3a3a8" stroke-width="0.6" fill="none"/>
<path d="M122,531 C123,525 128,522.5 135,522 C142,521.5 147,524 147,530 C146,537 140,541.5 133,541.5 C126,541 121.5,537 122,531Z" fill="url(#gOr)" stroke="#2f2f2f" stroke-width="0.9"/>
<path d="M119.5,527 C124,521.5 131,520 138,520 C144,520 149,522 152,525" stroke="#333" stroke-width="0.9" fill="none"/>
<path d="M154.5,537 C157.5,540 159.5,547 158.5,553 C155.5,553.5 152.5,549 152.8,543 C153,540 153.5,538 154.5,537Z" fill="#66666b" stroke="#333" stroke-width="0.6"/>
<path d="M99,566 C104,560 112,556 120,556 C126,556.5 130,559 136,557 C141,555 145,553 150,552 M123,558 C123,566 126,574 131,581 M104.3,585 C108,578 109,572 108,565 M99,566 C97,571 98,577 101,582" stroke="#3d3d3d" stroke-width="0.8" fill="none"/>
<path d="M126.0,562.9 h4.6 v4.2 q0,2.2 -2.3,2.2 q-2.3,0 -2.3,-2.2 Z" fill="#fff" stroke="#444" stroke-width="0.6"/>
<path d="M126.4,575.9 h4.4 v-4.2 q0,-2.2 -2.2,-2.2 q-2.2,0 -2.2,2.2 Z" fill="#fff" stroke="#444" stroke-width="0.6"/>
<path d="M131.0,563.2 h4.6 v4.2 q0,2.2 -2.3,2.2 q-2.3,0 -2.3,-2.2 Z" fill="#fff" stroke="#444" stroke-width="0.6"/>
<path d="M131.4,576.2 h4.4 v-4.2 q0,-2.2 -2.2,-2.2 q-2.2,0 -2.2,2.2 Z" fill="#fff" stroke="#444" stroke-width="0.6"/>
<path d="M136.0,563.4 h4.6 v4.2 q0,2.2 -2.3,2.2 q-2.3,0 -2.3,-2.2 Z" fill="#fff" stroke="#444" stroke-width="0.6"/>
<path d="M136.4,576.4 h4.4 v-4.2 q0,-2.2 -2.2,-2.2 q-2.2,0 -2.2,2.2 Z" fill="#fff" stroke="#444" stroke-width="0.6"/>
<path d="M141.0,563.7 h4.6 v4.2 q0,2.2 -2.3,2.2 q-2.3,0 -2.3,-2.2 Z" fill="#fff" stroke="#444" stroke-width="0.6"/>
<path d="M141.4,576.7 h4.4 v-4.2 q0,-2.2 -2.2,-2.2 q-2.2,0 -2.2,2.2 Z" fill="#fff" stroke="#444" stroke-width="0.6"/>
<path d="M146.0,563.9 h4.6 v4.2 q0,2.2 -2.3,2.2 q-2.3,0 -2.3,-2.2 Z" fill="#fff" stroke="#444" stroke-width="0.6"/>
<path d="M146.4,576.9 h4.4 v-4.2 q0,-2.2 -2.2,-2.2 q-2.2,0 -2.2,2.2 Z" fill="#fff" stroke="#444" stroke-width="0.6"/>
<path d="M151.0,564.2 h4.6 v4.2 q0,2.2 -2.3,2.2 q-2.3,0 -2.3,-2.2 Z" fill="#fff" stroke="#444" stroke-width="0.6"/>
<path d="M151.4,577.2 h4.4 v-4.2 q0,-2.2 -2.2,-2.2 q-2.2,0 -2.2,2.2 Z" fill="#fff" stroke="#444" stroke-width="0.6"/>
<path d="M156.0,563.9 h4.6 v4.2 q0,2.2 -2.3,2.2 q-2.3,0 -2.3,-2.2 Z" fill="#fff" stroke="#444" stroke-width="0.6"/>
<path d="M156.4,576.9 h4.4 v-4.2 q0,-2.2 -2.2,-2.2 q-2.2,0 -2.2,2.2 Z" fill="#fff" stroke="#444" stroke-width="0.6"/>
<path d="M161.0,563.7 h4.6 v4.2 q0,2.2 -2.3,2.2 q-2.3,0 -2.3,-2.2 Z" fill="#fff" stroke="#444" stroke-width="0.6"/>
<path d="M161.4,576.7 h4.4 v-4.2 q0,-2.2 -2.2,-2.2 q-2.2,0 -2.2,2.2 Z" fill="#fff" stroke="#444" stroke-width="0.6"/>
<path d="M166.0,563.4 h4.6 v4.2 q0,2.2 -2.3,2.2 q-2.3,0 -2.3,-2.2 Z" fill="#fff" stroke="#444" stroke-width="0.6"/>
<path d="M166.4,576.4 h4.4 v-4.2 q0,-2.2 -2.2,-2.2 q-2.2,0 -2.2,2.2 Z" fill="#fff" stroke="#444" stroke-width="0.6"/>
<path d="M64.4,499.7 L178.3,483.2 L178.3,605.3 L64.4,623 Z" fill="none" stroke="#4f9fc4" stroke-width="1"/>
<path d="M236.5,525.8 L236.5,528.4 L244.6,533.9Z" fill="#1c1208" stroke="#1c1208" stroke-width="0.5" stroke-linejoin="round"/><path d="M236.5,525.8 L239.1,525.8 L244.6,533.9Z" fill="#3a2410" stroke="#1c1208" stroke-width="0.5" stroke-linejoin="round"/><path d="M236.5,525.8 L233.9,525.8 L228.4,533.9Z" fill="#1c1208" stroke="#1c1208" stroke-width="0.5" stroke-linejoin="round"/><path d="M236.5,525.8 L236.5,528.4 L228.4,533.9Z" fill="#3a2410" stroke="#1c1208" stroke-width="0.5" stroke-linejoin="round"/><path d="M236.5,525.8 L236.5,523.2 L228.4,517.7Z" fill="#1c1208" stroke="#1c1208" stroke-width="0.5" stroke-linejoin="round"/><path d="M236.5,525.8 L233.9,525.8 L228.4,517.7Z" fill="#3a2410" stroke="#1c1208" stroke-width="0.5" stroke-linejoin="round"/><path d="M236.5,525.8 L239.1,525.8 L244.6,517.7Z" fill="#1c1208" stroke="#1c1208" stroke-width="0.5" stroke-linejoin="round"/><path d="M236.5,525.8 L236.5,523.2 L244.6,517.7Z" fill="#3a2410" stroke="#1c1208" stroke-width="0.5" stroke-linejoin="round"/>
<path d="M236.5,525.8 L238.9,528.2 L254.5,525.8Z" fill="#8a4a12" stroke="#24160a" stroke-width="0.7" stroke-linejoin="round"/><path d="M236.5,525.8 L238.9,523.4 L254.5,525.8Z" fill="#e3a53a" stroke="#24160a" stroke-width="0.7" stroke-linejoin="round"/><path d="M236.5,525.8 L234.1,528.2 L236.5,543.8Z" fill="#8a4a12" stroke="#24160a" stroke-width="0.7" stroke-linejoin="round"/><path d="M236.5,525.8 L238.9,528.2 L236.5,543.8Z" fill="#e3a53a" stroke="#24160a" stroke-width="0.7" stroke-linejoin="round"/><path d="M236.5,525.8 L234.1,523.4 L218.5,525.8Z" fill="#8a4a12" stroke="#24160a" stroke-width="0.7" stroke-linejoin="round"/><path d="M236.5,525.8 L234.1,528.2 L218.5,525.8Z" fill="#e3a53a" stroke="#24160a" stroke-width="0.7" stroke-linejoin="round"/><path d="M236.5,525.8 L238.9,523.4 L236.5,507.8Z" fill="#8a4a12" stroke="#24160a" stroke-width="0.7" stroke-linejoin="round"/><path d="M236.5,525.8 L234.1,523.4 L236.5,507.8Z" fill="#e3a53a" stroke="#24160a" stroke-width="0.7" stroke-linejoin="round"/>
<circle cx="236.5" cy="525.8" r="1.5" fill="#fbeec0" stroke="#3a2208" stroke-width="0.4"/>
<text x="236.5" y="506.6" text-anchor="middle" font-family="Liberation Serif,serif" font-weight="bold" font-size="8.6" fill="#1e1e1e">S</text>
<text x="236.5" y="552.5" text-anchor="middle" font-family="Liberation Serif,serif" font-weight="bold" font-size="8.6" fill="#1e1e1e">I</text>
<text x="213.6" y="528.9" text-anchor="middle" font-family="Liberation Serif,serif" font-weight="bold" font-size="8.6" fill="#1e1e1e">P</text>
<text x="259.5" y="529.3" text-anchor="middle" font-family="Liberation Serif,serif" font-weight="bold" font-size="8.6" fill="#1e1e1e">A</text>
</svg>
</body></html>
